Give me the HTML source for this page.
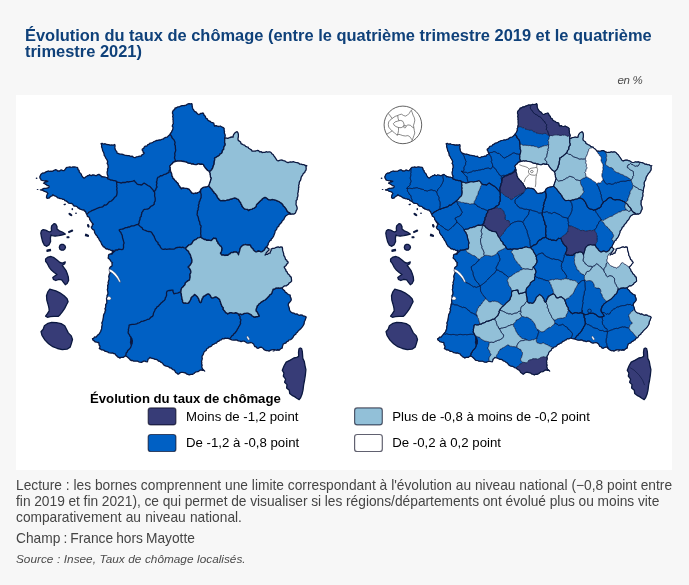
<!DOCTYPE html>
<html lang="fr">
<head>
<meta charset="utf-8">
<title>Évolution du taux de chômage</title>
<style>
html,body{margin:0;padding:0;}
body{width:689px;height:585px;background:#f7f7f7;overflow:hidden;position:relative;font-family:"Liberation Sans",sans-serif;color:#3f3f3f;}
.title{position:absolute;left:25px;top:26.6px;width:650px;margin:0;font-size:16.46px;line-height:16px;font-weight:bold;color:#0f417a;white-space:nowrap;}
.unit{position:absolute;right:46.5px;top:73px;font-size:11.5px;letter-spacing:-0.3px;line-height:15px;font-style:italic;color:#4a4a4a;}
.fig{position:absolute;left:16px;top:95px;width:656px;height:375px;background:#fff;}
.fig svg{position:absolute;left:0;top:0;}
.note{position:absolute;left:16px;margin:0;font-size:13.75px;line-height:16px;white-space:nowrap;color:#454545;}
.src{font-style:italic;font-size:11.8px;color:#4a4a4a;}
</style>
</head>
<body>
<h2 class="title">Évolution du taux de chômage (entre le quatrième trimestre 2019 et le quatrième<br>trimestre 2021)</h2>
<div class="unit">en %</div>
<div class="fig">
<svg width="656" height="375" viewBox="16 95 656 375">
<g id="map1">
<g transform="translate(0,0)" stroke="#0b1840" stroke-width="1.3" stroke-linejoin="round" stroke-opacity="1">
<path fill="#0060c4" d="M107.3,177.8 106.5,177.5 105.0,177.0 104.0,177.2 102.7,176.6 101.5,176.8 100.9,175.6 99.9,175.2 99.0,174.3 97.9,174.7 97.2,175.0 96.5,175.7 95.3,175.6 94.4,175.2 93.4,175.0 92.5,174.9 91.5,175.6 90.4,175.3 89.7,174.7 88.6,175.6 87.8,175.6 86.8,176.3 85.9,176.8 85.1,177.5 84.1,178.1 82.8,177.2 82.5,176.5 81.6,175.6 81.3,174.1 80.3,173.1 79.3,172.1 79.1,170.6 78.0,169.6 77.8,168.1 77.2,167.3 75.9,167.2 74.5,167.0 73.5,166.9 72.4,167.0 71.0,167.5 70.0,166.9 68.5,167.2 66.8,167.4 66.0,168.1 65.1,169.5 64.1,170.6 63.0,170.7 61.6,170.0 60.7,170.1 59.7,171.0 58.6,170.9 57.8,171.2 57.1,170.4 56.0,169.7 54.9,170.0 53.5,170.6 52.5,171.3 51.0,171.2 49.5,171.4 48.5,171.0 47.3,171.3 46.0,171.8 44.9,172.6 43.5,173.1 42.7,173.0 41.6,173.7 40.8,174.4 40.4,175.6 39.8,176.7 40.0,178.1 40.7,178.9 41.0,180.0 42.0,180.3 43.5,180.6 44.8,180.8 46.0,180.6 47.0,181.3 47.9,181.2 47.0,181.8 45.4,181.8 44.4,182.8 43.5,183.1 44.8,183.6 45.4,184.3 46.4,184.5 47.2,185.6 48.6,185.7 49.1,186.2 49.0,187.3 48.5,187.7 47.1,188.1 46.0,188.4 44.1,188.3 42.9,188.9 41.8,189.6 40.4,189.9 41.4,190.1 42.8,190.3 43.5,190.9 44.6,191.4 46.0,191.8 47.0,192.3 47.9,193.7 47.1,194.7 46.6,196.2 46.5,197.5 47.2,198.4 48.3,198.1 49.1,198.1 50.1,196.9 51.0,196.2 52.1,195.8 52.9,194.7 53.6,195.4 54.7,195.9 55.8,196.2 56.6,196.8 57.9,197.9 59.1,198.1 60.3,198.7 61.6,198.7 62.9,199.4 64.1,199.3 64.9,200.7 66.0,200.9 67.1,201.6 67.8,202.2 68.6,203.1 70.3,203.4 71.8,203.5 72.8,204.3 73.4,205.6 74.7,206.2 76.1,206.2 77.2,206.8 78.0,207.9 79.1,208.1 79.5,208.9 80.9,209.3 82.6,210.0 84.1,209.9 84.4,211.0 85.5,211.3 85.9,212.7 86.5,213.9 87.6,213.5 88.1,213.2 88.9,212.2 90.6,211.5 91.9,210.5 93.1,210.2 94.4,209.6 95.5,209.2 97.1,208.3 98.3,207.9 99.7,207.3 101.1,207.2 102.7,206.8 103.7,205.8 104.4,205.0 105.8,205.2 107.1,204.2 108.0,203.2 109.0,202.0 110.1,201.4 111.5,201.0 112.1,200.2 113.3,199.2 113.9,198.3 114.7,197.2 115.9,196.5 116.7,195.1 116.9,193.9 117.1,192.6 117.0,190.9 116.7,189.5 117.1,188.1 116.6,186.6 117.0,185.0 116.6,184.2 116.7,182.4 116.1,181.1 114.8,180.6 113.5,180.6 112.2,180.2 110.5,180.0 109.3,179.2 108.1,179.1 107.3,178.1Z M107.4,174.9 108.1,176.1 107.8,177.0 107.8,178.1 107.3,177.8 107.3,178.1 108.1,179.1 109.3,179.2 110.5,180.0 112.2,180.2 113.5,180.6 114.8,180.6 116.1,181.1 117.4,182.1 118.7,182.3 120.1,182.7 121.1,183.1 122.7,182.4 124.0,182.5 125.5,182.5 127.1,181.7 128.3,182.0 129.8,181.6 131.5,181.4 133.0,181.1 134.1,180.5 135.0,181.7 136.1,182.8 137.2,184.1 138.7,184.6 140.1,184.6 141.2,185.1 142.1,184.7 143.2,183.6 144.2,183.1 145.3,183.7 146.8,184.8 147.8,185.5 149.2,186.1 150.5,187.1 151.5,188.2 152.3,189.2 153.2,190.1 153.6,191.2 154.4,191.7 154.8,190.7 155.7,189.7 156.2,188.0 157.1,187.1 156.5,185.9 156.5,184.4 157.0,183.1 156.4,182.1 157.0,180.8 157.1,179.2 157.5,178.0 158.1,177.1 159.2,176.9 160.7,175.6 161.7,175.8 163.1,175.1 164.0,174.4 165.7,174.1 166.9,173.4 168.0,172.9 169.1,172.1 169.1,170.8 170.1,169.8 170.2,168.6 170.3,167.6 169.7,166.6 170.4,165.4 171.5,164.1 172.4,163.7 173.1,162.4 174.4,161.9 174.7,161.1 175.7,160.5 175.1,159.5 174.5,158.1 174.6,156.9 175.0,155.3 174.7,153.7 175.0,152.5 175.5,151.3 175.7,150.1 175.4,148.3 175.4,147.3 175.3,145.6 174.6,144.4 175.1,142.5 174.5,141.1 173.8,139.6 172.9,138.7 171.8,137.5 171.8,136.6 170.9,135.3 170.1,134.1 169.2,135.3 168.2,136.1 167.1,137.2 165.7,137.3 164.3,138.0 163.2,139.1 162.0,139.2 160.5,140.0 159.2,139.9 158.0,140.3 156.4,140.5 155.2,141.1 154.0,141.5 152.9,142.2 151.7,142.9 150.0,143.2 149.2,144.1 147.8,144.6 146.9,146.0 145.1,146.2 144.2,147.1 143.7,148.4 142.3,149.0 142.2,150.1 143.0,151.2 143.2,152.3 144.2,153.1 143.3,154.2 141.9,154.8 141.2,156.1 139.8,156.1 137.8,156.7 136.4,156.8 135.2,157.7 133.5,157.3 132.3,156.2 130.8,156.5 129.1,155.7 127.8,155.6 125.8,155.3 124.6,155.1 123.1,154.5 121.3,154.1 119.8,154.2 118.8,153.6 117.1,153.1 116.8,151.6 115.7,150.4 115.1,149.1 114.8,147.5 115.1,145.9 114.7,144.5 113.4,145.1 111.4,144.9 110.1,145.1 108.7,144.6 107.4,144.5 106.2,144.3 105.1,143.7 103.8,144.2 102.2,143.3 101.1,143.7 101.7,145.1 101.6,146.9 102.1,148.1 102.4,149.4 102.8,151.0 103.6,152.3 104.1,154.1 104.3,155.6 105.2,156.6 105.6,157.8 106.4,159.0 107.1,160.1 107.7,161.7 107.1,163.5 107.9,164.7 108.1,166.1 108.2,167.6 107.5,168.8 107.6,170.8 107.1,172.1 107.2,173.5Z M224.6,138.1 225.1,136.5 225.2,135.1 224.6,133.8 224.3,132.4 224.5,131.2 224.1,130.1 224.2,128.4 223.2,127.6 221.5,126.7 220.2,126.0 218.9,126.5 217.1,126.2 216.2,125.6 214.5,126.0 214.1,124.6 213.7,123.0 212.5,122.6 211.2,122.4 210.2,121.3 209.1,121.0 207.7,120.0 207.3,118.8 205.7,118.0 205.4,116.3 204.1,115.4 203.9,114.3 203.1,113.0 201.7,113.3 200.5,113.5 199.2,114.5 198.1,114.4 197.0,113.3 196.2,112.2 194.4,111.3 193.7,110.0 192.8,108.8 192.4,107.4 192.2,106.5 192.1,104.6 191.7,103.6 190.5,103.9 189.0,103.6 187.6,104.0 186.0,105.2 185.0,105.5 183.7,105.6 182.1,105.6 180.6,106.1 179.5,106.8 178.0,106.8 176.3,107.9 175.1,108.0 174.6,109.5 173.3,110.4 172.5,112.0 172.5,113.4 173.2,114.9 172.6,116.2 173.1,118.0 172.9,119.4 173.2,120.5 173.1,122.0 173.4,123.6 172.8,124.4 172.2,126.2 173.0,127.2 172.8,128.9 172.5,130.1 171.8,131.1 171.5,132.3 170.5,133.3 170.1,134.1 170.9,135.3 171.8,136.6 171.8,137.5 172.9,138.7 173.8,139.6 174.5,141.1 175.1,142.5 174.6,144.4 175.3,145.6 175.4,147.3 175.4,148.3 175.7,150.1 175.5,151.3 175.0,152.5 174.7,153.7 175.0,155.3 174.6,156.9 174.5,158.1 175.1,159.5 175.7,160.5 174.7,161.1 174.4,161.9 176.0,161.4 177.3,161.2 178.3,160.8 179.7,161.1 181.0,160.8 182.1,161.3 183.9,161.5 185.5,161.8 186.8,162.3 188.0,163.1 189.2,163.3 190.4,163.3 191.6,164.1 192.9,163.9 194.0,164.4 195.5,164.7 196.5,164.6 197.7,164.1 198.9,163.7 200.0,164.4 201.3,164.1 202.7,164.3 203.5,164.8 203.8,165.9 204.9,167.3 205.6,168.3 206.7,169.5 207.6,170.5 208.9,171.1 209.3,172.0 210.0,171.2 211.0,170.4 211.7,169.7 212.6,168.2 213.0,167.1 213.4,165.5 214.1,164.1 214.2,162.6 214.3,161.3 214.8,159.6 214.5,158.1 215.7,157.7 217.0,156.6 218.1,156.1 219.3,155.3 220.0,154.1 221.6,153.2 222.2,152.1 222.4,150.6 223.8,149.3 223.7,147.7 224.3,146.2 225.2,145.1 225.1,143.5 224.6,142.4 224.7,140.6 224.7,139.7Z M86.5,213.9 87.1,215.0 87.4,216.3 88.7,216.8 89.5,217.9 89.7,219.4 90.5,220.6 91.2,221.7 92.1,223.0 93.3,224.2 92.3,224.9 92.3,226.3 91.3,227.0 91.8,228.4 92.7,229.4 94.1,230.1 94.5,231.4 94.6,232.7 95.4,234.0 96.1,235.1 97.3,236.2 97.5,237.3 98.5,238.1 99.2,239.7 99.7,240.6 100.7,241.7 101.1,242.8 101.8,244.5 102.5,245.4 103.3,246.8 104.4,247.0 105.3,248.2 106.3,249.0 107.4,248.7 108.5,249.7 109.5,249.4 111.1,250.6 112.3,250.3 113.3,250.7 112.6,251.4 112.3,252.3 111.7,253.5 110.6,254.0 112.1,254.1 112.6,253.0 113.7,252.1 114.9,251.1 115.1,250.1 116.4,249.9 117.7,250.0 118.8,249.1 120.4,249.3 121.9,249.6 123.1,249.1 123.6,247.3 123.5,245.8 123.5,244.4 124.1,243.0 123.7,241.7 123.4,240.6 123.0,239.3 122.5,237.7 122.4,236.5 122.1,235.0 121.4,233.8 120.8,232.2 119.9,231.5 119.1,230.0 120.3,229.3 121.7,229.2 123.1,229.0 124.6,228.1 125.7,227.6 127.2,227.6 128.4,226.9 129.7,227.0 131.1,226.0 132.6,225.8 133.8,225.8 135.4,225.2 136.6,224.7 138.2,224.6 138.2,223.9 139.2,223.0 139.1,221.6 139.8,220.1 140.1,219.1 140.0,217.6 141.3,216.2 141.2,215.0 141.8,213.8 141.7,212.6 142.9,211.3 143.2,210.2 144.5,209.3 146.4,209.2 147.6,209.1 149.2,208.2 150.0,207.3 151.1,206.1 152.5,205.7 153.2,205.1 154.2,204.2 154.2,202.5 155.1,201.2 155.2,199.7 155.2,198.2 154.8,196.7 154.6,195.9 154.7,194.2 154.7,193.3 154.4,191.7 153.6,191.2 153.2,190.1 152.3,189.2 151.5,188.2 150.5,187.1 149.2,186.1 147.8,185.5 146.8,184.8 145.3,183.7 144.2,183.1 143.2,183.6 142.1,184.7 141.2,185.1 140.1,184.6 138.7,184.6 137.2,184.1 136.1,182.8 135.0,181.7 134.1,180.5 133.0,181.1 131.5,181.4 129.8,181.6 128.3,182.0 127.1,181.7 125.5,182.5 124.0,182.5 122.7,182.4 121.1,183.1 120.1,182.7 118.7,182.3 117.4,182.1 116.1,181.1 116.7,182.4 116.6,184.2 117.0,185.0 116.6,186.6 117.1,188.1 116.7,189.5 117.0,190.9 117.1,192.6 116.9,193.9 116.7,195.1 115.9,196.5 114.7,197.2 113.9,198.3 113.3,199.2 112.1,200.2 111.5,201.0 110.1,201.4 109.0,202.0 108.0,203.2 107.1,204.2 105.8,205.2 104.4,205.0 103.7,205.8 102.7,206.8 101.1,207.2 99.7,207.3 98.3,207.9 97.1,208.3 95.5,209.2 94.4,209.6 93.1,210.2 91.9,210.5 90.6,211.5 88.9,212.2 88.1,213.2 87.6,213.5Z M229.3,338.9 230.1,339.1 231.8,339.8 233.1,340.1 234.4,340.2 236.0,339.9 237.1,340.1 238.3,340.9 240.1,341.1 241.1,341.7 242.6,341.1 244.1,341.1 245.2,341.8 246.7,342.8 248.1,343.1 249.5,342.8 251.1,342.5 252.2,343.0 253.6,344.0 254.1,345.1 254.8,346.5 256.2,346.8 257.1,348.1 258.3,348.3 259.6,347.5 261.1,347.1 262.2,347.8 263.3,348.5 263.8,349.4 265.1,350.1 266.5,350.7 267.9,350.6 269.1,351.1 270.2,350.4 271.6,349.9 273.1,349.7 274.7,349.7 276.4,350.3 277.7,349.5 279.1,350.1 280.2,349.3 280.8,348.6 282.2,348.1 282.4,346.6 282.7,345.6 283.2,344.1 284.6,343.3 285.8,343.0 286.8,341.6 288.2,341.1 289.1,339.8 290.6,339.6 291.5,339.0 292.2,338.2 293.2,337.1 293.6,336.0 294.6,334.9 295.8,334.2 296.2,333.1 297.4,332.2 298.1,331.1 299.3,329.9 300.4,328.9 301.2,328.2 302.3,326.9 302.9,326.0 303.7,324.7 304.2,323.2 304.3,321.8 305.1,320.3 305.6,318.9 306.2,317.1 304.9,316.2 303.3,316.0 302.2,315.1 300.8,314.9 299.5,315.3 298.2,314.8 296.9,313.9 295.2,314.1 294.1,313.2 292.5,313.0 291.2,312.2 290.2,311.1 289.4,309.9 289.4,308.4 288.8,306.8 288.2,305.1 288.5,303.5 289.4,302.5 290.2,301.6 291.2,300.1 291.2,299.0 290.8,297.8 290.2,296.4 290.2,295.1 288.5,294.5 287.4,293.8 286.6,292.9 285.2,292.1 284.6,290.7 283.7,289.9 282.5,289.0 282.2,287.5 280.8,288.0 279.5,288.1 278.3,287.8 277.1,288.1 276.0,288.0 274.7,289.0 273.1,289.1 272.7,290.5 272.2,291.8 271.8,293.1 271.1,294.1 270.0,294.6 268.9,296.2 268.1,296.9 267.0,298.1 266.1,299.1 265.0,300.0 263.5,300.6 262.5,301.4 261.1,302.1 260.0,303.2 258.8,304.0 258.1,305.3 257.1,306.1 256.8,307.5 256.3,308.7 256.0,309.9 256.1,311.1 257.3,312.2 257.9,313.6 258.6,314.8 259.1,316.1 257.6,316.7 256.3,316.7 255.1,317.0 254.0,317.0 252.9,316.2 252.0,315.7 250.9,314.5 249.5,313.9 248.2,313.2 247.0,313.2 245.4,313.4 244.3,313.4 242.6,314.3 241.4,314.5 240.6,313.9 239.1,314.4 238.2,313.8 238.8,315.2 239.6,315.7 240.1,317.0 239.9,318.6 240.9,319.6 240.7,320.7 240.3,322.0 240.6,323.5 240.1,324.5 239.4,325.9 238.7,326.8 238.2,328.2 237.4,329.2 236.6,330.9 235.7,332.0 234.9,333.1 233.6,334.0 233.2,335.1 232.1,335.6 231.2,336.9 230.1,338.1Z M200.6,189.8 200.2,191.0 199.1,192.0 197.8,192.5 196.9,193.1 195.1,193.0 194.0,193.5 192.9,193.4 191.5,192.7 191.0,191.6 190.4,190.9 189.8,190.2 189.0,189.1 188.1,188.8 186.8,188.4 185.3,188.4 183.9,188.0 182.6,187.9 181.3,188.7 180.9,187.6 179.9,186.9 179.4,185.9 178.5,184.8 178.4,184.0 177.6,182.9 176.6,182.2 176.2,181.3 175.0,180.4 174.4,179.7 174.0,178.9 172.8,177.9 172.6,176.8 171.9,175.6 171.8,174.1 171.5,173.1 170.8,171.9 170.4,170.2 170.2,168.6 170.1,169.8 169.1,170.8 169.1,172.1 168.0,172.9 166.9,173.4 165.7,174.1 164.0,174.4 163.1,175.1 161.7,175.8 160.7,175.6 159.2,176.9 158.1,177.1 157.5,178.0 157.1,179.2 157.0,180.8 156.4,182.1 157.0,183.1 156.5,184.4 156.5,185.9 157.1,187.1 156.2,188.0 155.7,189.7 154.8,190.7 154.4,191.7 154.7,193.3 154.7,194.2 154.6,195.9 154.8,196.7 155.2,198.2 155.2,199.7 155.1,201.2 154.2,202.5 154.2,204.2 153.2,205.1 152.5,205.7 151.1,206.1 150.0,207.3 149.2,208.2 147.6,209.1 146.4,209.2 144.5,209.3 143.2,210.2 142.9,211.3 141.7,212.6 141.8,213.8 141.2,215.0 141.3,216.2 140.0,217.6 140.1,219.1 139.8,220.1 139.1,221.6 139.2,223.0 138.2,223.9 138.2,224.6 139.3,225.6 140.1,226.4 141.3,227.3 142.3,228.1 142.8,229.4 144.2,230.0 145.3,230.4 147.0,231.1 148.2,231.5 150.1,231.6 151.2,232.0 152.1,233.1 152.8,234.5 153.5,235.4 154.3,236.7 154.6,237.7 155.2,239.0 155.7,240.4 156.6,241.4 158.0,242.5 158.0,244.0 159.2,245.0 160.0,246.0 160.5,247.4 161.4,248.4 162.2,249.1 163.4,249.4 165.5,249.0 166.6,249.4 168.1,249.1 169.7,248.9 171.3,249.1 173.0,249.1 174.7,248.8 175.9,247.8 177.3,247.5 178.4,247.4 180.0,247.1 181.3,247.6 182.7,247.2 184.2,247.9 185.8,248.1 186.4,247.2 187.5,246.4 188.0,245.7 188.9,244.9 190.5,244.6 191.7,243.8 192.2,242.9 192.8,241.7 193.6,240.7 194.5,239.9 195.7,239.7 196.7,238.8 198.2,237.8 199.5,237.7 200.7,236.9 201.0,235.4 200.6,233.8 200.7,232.9 200.8,231.5 200.7,229.7 200.6,228.3 201.0,227.0 201.1,225.9 200.0,224.6 199.8,223.3 199.7,221.8 198.8,220.4 198.6,219.0 198.3,217.5 198.0,216.5 197.1,215.0 197.2,213.8 197.4,212.4 197.4,210.8 198.2,209.8 198.1,208.2 198.8,206.6 198.3,205.2 199.1,203.7 199.1,202.2 200.0,200.7 200.3,199.2 201.1,197.6 201.1,196.1 201.2,194.6 200.7,192.9 200.6,191.3Z M267.3,245.9 268.2,244.7 268.2,243.3 269.1,242.0 269.9,240.7 271.2,240.1 271.3,238.9 272.3,238.2 273.1,237.0 273.8,235.6 274.4,234.1 275.0,232.4 275.1,231.0 276.0,230.1 276.8,228.8 277.2,227.3 278.7,226.4 279.1,225.0 280.2,223.8 281.3,222.8 281.8,221.9 282.3,220.7 283.6,219.8 284.2,218.6 284.9,217.1 285.9,215.8 287.2,215.0 288.4,214.2 290.0,214.2 290.9,214.2 289.9,212.9 288.6,212.4 287.8,211.8 286.8,210.5 286.4,209.4 285.5,208.1 284.7,207.1 283.4,206.1 283.0,204.9 282.0,203.8 281.2,203.0 279.9,202.4 279.2,201.6 277.7,201.2 276.8,200.6 275.5,200.2 274.7,199.8 273.6,199.7 271.9,199.5 270.5,199.9 269.2,199.7 268.2,199.5 267.4,198.7 266.1,197.7 264.9,197.4 263.8,197.9 262.4,198.7 261.7,199.9 260.8,200.4 259.9,201.2 259.0,202.2 258.5,202.8 257.4,203.7 256.4,204.9 256.2,206.2 255.6,207.1 254.3,208.1 252.9,208.3 252.2,209.2 251.2,209.3 249.5,209.6 248.7,210.5 247.7,209.5 246.8,209.3 245.7,209.2 244.4,208.8 243.7,208.1 242.4,206.8 241.8,205.6 241.5,204.4 240.8,203.8 240.6,202.4 239.5,201.4 238.8,200.1 238.1,199.3 236.9,198.8 235.6,198.1 234.2,198.0 232.5,198.7 231.1,199.0 229.9,199.3 228.7,199.9 227.5,199.8 226.2,200.4 225.0,200.6 223.5,200.4 222.3,200.5 220.6,200.6 219.4,199.8 218.7,198.7 217.9,198.0 217.1,196.6 216.9,195.6 215.8,194.6 215.5,193.8 214.4,193.1 213.6,191.5 212.6,190.7 211.9,189.3 210.9,188.4 210.4,187.8 209.4,186.8 208.5,186.2 207.0,186.6 205.6,186.9 204.2,187.2 202.7,187.7 201.2,188.7 200.6,189.8 200.6,191.3 200.7,192.9 201.2,194.6 201.1,196.1 201.1,197.6 200.3,199.2 200.0,200.7 199.1,202.2 199.1,203.7 198.3,205.2 198.8,206.6 198.1,208.2 198.2,209.8 197.4,210.8 197.4,212.4 197.2,213.8 197.1,215.0 198.0,216.5 198.3,217.5 198.6,219.0 198.8,220.4 199.7,221.8 199.8,223.3 200.0,224.6 201.1,225.9 201.0,227.0 200.6,228.3 200.7,229.7 200.8,231.5 200.7,232.9 200.6,233.8 201.0,235.4 200.7,236.9 201.5,237.9 203.0,238.7 204.2,239.5 205.5,239.4 206.5,240.3 208.0,240.1 209.6,240.3 211.1,240.7 212.1,239.8 212.6,239.3 213.6,238.2 214.5,238.5 215.9,238.3 216.5,239.9 216.8,241.2 217.7,242.0 218.0,243.5 219.0,244.3 220.1,245.8 221.1,246.3 221.5,247.1 221.9,248.6 221.7,249.5 221.7,250.6 221.1,252.0 220.4,253.2 221.2,254.4 221.7,255.1 223.2,254.9 224.8,255.5 226.3,255.2 227.9,255.4 228.4,254.5 230.0,253.8 230.6,253.0 231.6,252.5 233.0,252.7 233.8,252.0 235.2,251.8 236.7,252.2 237.9,253.4 238.5,254.8 238.8,253.3 239.1,252.5 239.6,251.0 239.9,249.7 240.2,248.3 241.0,247.0 242.0,246.1 243.0,245.1 244.0,245.0 245.4,244.5 246.5,244.8 247.8,245.0 249.3,244.9 250.5,245.4 250.9,246.8 251.6,247.7 252.9,248.7 253.3,249.8 254.5,251.0 255.6,251.8 257.0,251.8 258.1,251.0 259.7,251.3 261.0,252.0 262.3,251.6 263.1,251.0 264.0,250.5 264.5,249.5 265.1,248.8 265.6,247.5 266.6,247.3 266.9,247.2 266.7,247.1Z M125.2,356.2 126.2,356.2 127.4,357.0 128.5,358.0 129.3,358.7 130.2,359.9 131.2,360.5 132.6,360.5 133.6,361.1 134.9,361.2 136.4,361.2 137.7,361.2 138.7,361.8 139.7,362.1 141.4,362.3 142.4,361.8 143.6,361.2 144.9,361.2 146.0,361.7 147.4,361.8 147.8,360.4 148.0,359.3 149.1,358.4 149.9,357.4 151.2,358.2 152.3,358.4 153.6,358.7 155.1,359.4 156.2,359.4 157.4,359.9 158.4,361.0 159.9,361.3 161.1,362.4 162.4,363.0 163.5,364.7 164.9,365.7 166.2,366.2 167.7,366.4 168.9,367.0 169.7,367.8 171.2,368.0 172.1,369.0 173.0,369.6 174.4,370.2 175.0,371.2 175.7,372.5 177.3,373.4 178.1,374.3 179.0,373.8 180.0,372.8 181.2,372.4 182.5,372.4 184.1,372.6 185.6,373.0 186.7,374.0 187.9,374.3 189.3,374.9 190.7,374.3 192.4,374.3 194.0,373.5 194.7,372.7 196.2,371.8 197.9,371.7 199.0,371.0 199.8,370.3 201.2,369.9 202.2,370.3 203.7,370.3 204.7,371.1 203.8,370.2 202.6,369.1 202.2,368.0 201.7,366.5 202.2,365.0 201.6,364.1 201.8,362.5 201.5,361.1 202.0,359.9 202.3,358.4 202.0,357.1 202.2,355.8 203.2,354.6 203.5,353.6 204.0,352.1 204.8,351.3 206.1,350.5 206.9,348.5 208.1,348.1 209.0,347.0 210.5,346.7 211.6,346.0 212.5,344.6 214.1,344.1 215.3,343.2 216.6,343.0 217.6,341.4 218.8,341.3 220.1,340.1 221.3,339.9 222.6,338.5 223.9,339.0 225.1,338.1 226.5,338.4 228.2,338.2 229.3,338.9 230.1,338.1 231.2,336.9 232.1,335.6 233.2,335.1 233.6,334.0 234.9,333.1 235.7,332.0 236.6,330.9 237.4,329.2 238.2,328.2 238.7,326.8 239.4,325.9 240.1,324.5 240.6,323.5 240.3,322.0 240.7,320.7 240.9,319.6 239.9,318.6 240.1,317.0 239.6,315.7 238.8,315.2 238.2,313.8 237.0,313.1 235.7,312.6 234.3,313.1 233.2,313.2 232.2,312.9 231.3,312.7 230.0,312.6 228.5,313.3 227.5,313.8 226.7,312.9 225.7,312.6 224.8,311.2 223.8,310.1 223.1,309.3 223.3,307.8 222.5,306.9 221.8,306.0 221.3,304.4 220.6,303.2 220.7,302.5 220.1,301.3 219.7,299.7 218.8,298.8 217.8,298.0 216.3,296.9 214.9,297.0 213.8,297.6 212.3,297.9 211.3,297.6 210.8,296.5 210.1,295.1 209.1,294.1 208.2,293.8 207.0,294.2 205.7,295.1 204.6,295.9 203.2,296.3 203.0,297.7 202.2,298.2 202.0,299.4 201.3,300.6 201.5,301.4 200.7,302.6 200.0,302.4 199.5,301.3 199.1,300.6 198.9,299.1 198.2,298.2 197.6,296.9 196.3,295.7 195.5,295.1 194.5,294.4 193.7,295.4 192.6,296.3 191.8,296.9 191.0,298.0 190.7,299.4 190.2,300.3 189.5,301.3 188.8,302.6 187.7,303.3 186.4,303.2 185.1,302.8 184.2,303.2 183.2,302.6 182.5,301.6 182.6,300.1 182.0,299.4 182.0,298.4 181.7,296.7 181.4,295.7 181.4,294.5 181.1,293.2 180.7,292.0 179.7,292.2 178.2,292.8 177.0,293.2 175.4,293.4 173.9,293.9 173.5,292.8 172.9,291.2 173.0,290.1 171.7,290.1 170.0,290.5 168.8,290.5 167.2,291.1 166.6,292.2 166.5,293.6 166.6,295.2 166.0,296.8 165.3,297.9 165.2,299.1 164.3,300.5 163.4,301.0 162.1,302.3 161.1,303.0 160.1,304.3 159.2,305.1 158.5,306.1 157.0,306.9 156.3,308.3 155.2,309.1 154.7,310.8 153.9,312.3 153.4,313.4 153.2,315.1 152.5,316.4 150.9,317.2 150.2,318.0 149.2,319.1 147.5,319.3 146.4,320.0 144.6,320.6 143.2,321.1 141.5,321.3 140.2,322.2 139.2,322.8 137.7,323.1 136.7,323.9 135.2,324.2 133.9,324.4 132.2,324.3 130.7,324.7 129.1,325.2 129.0,326.4 128.7,328.2 128.3,329.4 128.5,330.4 128.1,332.1 128.3,333.4 129.5,334.7 129.6,335.7 130.9,336.9 131.1,338.1 131.0,339.5 132.0,340.8 131.8,341.8 132.1,343.1 131.7,344.4 131.2,345.7 130.8,347.1 130.1,348.1 129.2,349.3 128.3,350.0 127.5,351.0 127.1,352.2 126.1,353.1 126.0,354.8 125.3,355.9Z M123.8,357.1 124.8,356.1 125.2,356.2 125.3,355.9 126.0,354.8 126.1,353.1 127.1,352.2 127.5,351.0 128.3,350.0 129.2,349.3 130.1,348.1 130.8,347.1 131.2,345.7 131.7,344.4 132.1,343.1 131.8,341.8 132.0,340.8 131.0,339.5 131.1,338.1 130.9,336.9 129.6,335.7 129.5,334.7 128.3,333.4 128.1,332.1 128.5,330.4 128.3,329.4 128.7,328.2 129.0,326.4 129.1,325.2 130.7,324.7 132.2,324.3 133.9,324.4 135.2,324.2 136.7,323.9 137.7,323.1 139.2,322.8 140.2,322.2 141.5,321.3 143.2,321.1 144.6,320.6 146.4,320.0 147.5,319.3 149.2,319.1 150.2,318.0 150.9,317.2 152.5,316.4 153.2,315.1 153.4,313.4 153.9,312.3 154.7,310.8 155.2,309.1 156.3,308.3 157.0,306.9 158.5,306.1 159.2,305.1 160.1,304.3 161.1,303.0 162.1,302.3 163.4,301.0 164.3,300.5 165.2,299.1 165.3,297.9 166.0,296.8 166.6,295.2 166.5,293.6 166.6,292.2 167.2,291.1 168.8,290.5 170.0,290.5 171.7,290.1 173.0,290.1 172.9,291.2 173.5,292.8 173.9,293.9 175.4,293.4 177.0,293.2 178.2,292.8 179.7,292.2 180.7,292.0 181.1,291.0 181.0,290.1 181.4,288.8 181.9,287.8 183.2,286.8 183.9,285.7 185.0,284.7 185.4,282.8 186.4,282.0 187.1,281.4 188.6,280.4 189.5,280.1 189.8,278.5 190.1,277.4 190.1,275.7 189.8,274.6 190.7,273.0 190.9,272.1 190.7,270.7 190.1,269.3 189.1,267.9 188.2,267.0 189.3,266.1 190.6,264.5 191.3,263.2 192.0,262.0 191.8,261.2 192.0,260.1 191.5,258.4 191.0,257.3 190.7,255.8 190.0,254.1 189.1,252.8 188.5,251.3 187.5,250.4 186.2,249.4 185.8,248.1 184.2,247.9 182.7,247.2 181.3,247.6 180.0,247.1 178.4,247.4 177.3,247.5 175.9,247.8 174.7,248.8 173.0,249.1 171.3,249.1 169.7,248.9 168.1,249.1 166.6,249.4 165.5,249.0 163.4,249.4 162.2,249.1 161.4,248.4 160.5,247.4 160.0,246.0 159.2,245.0 158.0,244.0 158.0,242.5 156.6,241.4 155.7,240.4 155.2,239.0 154.6,237.7 154.3,236.7 153.5,235.4 152.8,234.5 152.1,233.1 151.2,232.0 150.1,231.6 148.2,231.5 147.0,231.1 145.3,230.4 144.2,230.0 142.8,229.4 142.3,228.1 141.3,227.3 140.1,226.4 139.3,225.6 138.2,224.6 136.6,224.7 135.4,225.2 133.8,225.8 132.6,225.8 131.1,226.0 129.7,227.0 128.4,226.9 127.2,227.6 125.7,227.6 124.6,228.1 123.1,229.0 121.7,229.2 120.3,229.3 119.1,230.0 119.9,231.5 120.8,232.2 121.4,233.8 122.1,235.0 122.4,236.5 122.5,237.7 123.0,239.3 123.4,240.6 123.7,241.7 124.1,243.0 123.5,244.4 123.5,245.8 123.6,247.3 123.1,249.1 121.9,249.6 120.4,249.3 118.8,249.1 117.7,250.0 116.4,249.9 115.1,250.1 114.9,251.1 113.7,252.1 112.6,253.0 112.1,254.1 110.6,254.0 109.1,254.3 108.5,255.1 108.5,256.5 108.1,258.1 109.2,259.0 109.9,259.5 110.5,260.7 111.4,262.0 112.5,262.7 111.9,263.7 112.2,265.2 111.7,266.1 110.5,266.9 109.9,267.5 109.5,268.7 109.5,270.0 110.1,271.5 110.1,272.9 109.5,274.1 109.1,275.1 108.7,276.6 109.1,278.3 108.8,279.9 108.5,281.1 108.0,282.7 108.5,283.9 107.6,285.4 107.8,286.9 107.7,288.5 107.3,289.6 107.7,291.1 107.9,292.4 107.9,294.1 107.0,295.6 107.1,297.1 106.5,298.5 106.7,300.3 106.8,301.9 106.8,303.2 105.6,304.7 105.8,306.2 105.6,307.5 104.9,308.9 105.7,310.0 105.0,311.2 104.9,312.7 103.9,314.1 103.5,315.5 103.4,317.0 103.1,318.7 102.8,320.4 102.3,321.8 101.8,323.1 102.3,324.6 101.8,326.2 101.7,327.2 101.6,328.9 101.2,329.8 100.7,331.3 100.0,332.5 99.3,333.8 98.5,334.4 97.7,335.1 96.8,336.2 96.1,337.2 94.5,337.0 93.6,338.4 92.5,338.7 92.9,340.0 94.2,340.9 95.0,341.8 96.2,342.0 97.6,342.5 98.7,342.4 99.0,343.8 99.1,345.0 100.0,346.2 99.8,347.2 99.3,348.7 100.5,349.0 101.4,349.9 102.5,349.9 104.0,350.3 105.0,351.3 106.0,351.3 107.5,351.8 108.6,352.6 109.8,352.8 111.2,353.1 112.5,352.9 113.8,353.6 115.0,353.7 115.6,355.0 116.5,355.5 117.5,356.8 118.7,357.3 119.9,358.1 121.1,357.3 123.1,357.4Z"/>
<path fill="#92c0d8" d="M225.8,137.9 224.6,138.1 224.7,139.7 224.7,140.6 224.6,142.4 225.1,143.5 225.2,145.1 224.3,146.2 223.7,147.7 223.8,149.3 222.4,150.6 222.2,152.1 221.6,153.2 220.0,154.1 219.3,155.3 218.1,156.1 217.0,156.6 215.7,157.7 214.5,158.1 214.8,159.6 214.3,161.3 214.2,162.6 214.1,164.1 213.4,165.5 213.0,167.1 212.6,168.2 211.7,169.7 211.0,170.4 210.0,171.2 209.3,172.0 210.0,173.3 210.0,174.6 210.4,175.6 210.4,177.0 211.1,178.2 210.7,179.4 210.4,181.1 209.7,182.5 209.3,184.0 208.8,185.3 208.5,186.2 209.4,186.8 210.4,187.8 210.9,188.4 211.9,189.3 212.6,190.7 213.6,191.5 214.4,193.1 215.5,193.8 215.8,194.6 216.9,195.6 217.1,196.6 217.9,198.0 218.7,198.7 219.4,199.8 220.6,200.6 222.3,200.5 223.5,200.4 225.0,200.6 226.2,200.4 227.5,199.8 228.7,199.9 229.9,199.3 231.1,199.0 232.5,198.7 234.2,198.0 235.6,198.1 236.9,198.8 238.1,199.3 238.8,200.1 239.5,201.4 240.6,202.4 240.8,203.8 241.5,204.4 241.8,205.6 242.4,206.8 243.7,208.1 244.4,208.8 245.7,209.2 246.8,209.3 247.7,209.5 248.7,210.5 249.5,209.6 251.2,209.3 252.2,209.2 252.9,208.3 254.3,208.1 255.6,207.1 256.2,206.2 256.4,204.9 257.4,203.7 258.5,202.8 259.0,202.2 259.9,201.2 260.8,200.4 261.7,199.9 262.4,198.7 263.8,197.9 264.9,197.4 266.1,197.7 267.4,198.7 268.2,199.5 269.2,199.7 270.5,199.9 271.9,199.5 273.6,199.7 274.7,199.8 275.5,200.2 276.8,200.6 277.7,201.2 279.2,201.6 279.9,202.4 281.2,203.0 282.0,203.8 283.0,204.9 283.4,206.1 284.7,207.1 285.5,208.1 286.4,209.4 286.8,210.5 287.8,211.8 288.6,212.4 289.9,212.9 290.9,214.2 291.2,214.2 292.2,213.9 293.7,214.1 295.2,213.2 296.0,211.8 296.1,210.9 297.0,209.5 297.2,208.2 296.9,206.7 296.2,205.0 296.0,204.0 296.2,202.2 296.1,200.6 297.2,199.5 297.2,197.6 297.7,196.8 298.0,195.2 297.7,193.5 298.2,192.1 298.3,190.6 298.6,189.4 298.5,187.9 298.9,187.1 298.6,185.4 299.2,184.1 299.2,182.7 299.7,181.3 300.6,180.1 301.0,178.5 301.2,177.1 302.0,175.9 302.7,174.8 303.3,173.5 304.7,172.4 305.2,171.1 306.0,170.1 306.2,168.6 306.0,166.6 306.8,165.7 305.1,165.5 304.1,164.7 302.4,164.6 301.2,164.1 299.8,164.2 298.8,163.2 297.1,162.6 295.6,162.4 294.6,162.2 293.2,161.7 292.0,162.1 290.6,161.8 289.3,162.2 288.2,162.5 286.9,162.3 285.5,161.5 284.7,160.8 283.3,160.6 282.2,160.1 280.9,160.0 279.6,160.4 278.2,160.9 277.1,160.5 276.2,159.2 275.7,158.4 274.8,157.0 274.1,156.1 273.3,154.8 271.9,153.8 271.1,152.5 269.8,151.9 268.9,151.9 267.6,152.1 266.1,151.7 264.9,152.4 263.2,152.4 262.1,152.5 261.3,151.7 259.4,151.8 258.8,150.7 257.1,150.5 255.8,151.0 254.5,151.2 253.3,151.1 252.1,151.1 251.4,149.9 249.9,149.0 248.6,148.2 248.1,147.1 246.9,146.8 245.6,146.4 244.6,145.2 243.3,144.8 242.1,144.1 241.0,143.6 240.6,142.0 239.0,140.9 238.1,140.1 238.0,138.3 238.3,137.3 238.4,135.3 238.3,134.1 238.0,132.8 237.1,131.7 235.6,132.4 234.7,133.1 233.8,134.3 233.2,135.8 233.1,137.1 231.7,137.0 229.9,137.5 228.7,138.0 227.4,138.3Z M283.1,287.0 284.3,285.9 286.2,285.9 287.2,285.1 288.5,284.3 289.0,283.1 290.5,282.2 291.6,281.1 291.5,279.7 291.4,278.6 291.2,277.1 290.0,276.4 289.7,275.2 288.4,274.3 287.5,273.1 287.2,272.1 286.0,271.0 285.7,269.5 284.8,268.3 284.2,267.1 285.1,266.3 286.1,265.4 286.8,264.1 287.7,263.4 288.2,262.1 287.0,261.2 286.9,260.3 285.5,259.4 285.2,258.1 284.7,256.7 283.8,255.5 283.6,253.4 283.2,252.1 282.8,250.9 282.5,249.3 282.5,248.5 282.2,247.1 280.8,246.9 279.4,247.5 278.2,246.8 277.1,247.1 275.5,247.7 274.4,248.3 272.6,248.4 271.1,249.1 271.1,250.7 270.3,251.7 270.1,253.1 268.7,253.1 267.6,254.3 266.0,254.1 265.1,255.1 265.7,254.0 266.3,252.8 267.1,252.1 267.7,251.2 268.8,250.5 269.1,249.1 267.7,247.9 266.9,247.2 266.6,247.3 265.6,247.5 265.1,248.8 264.5,249.5 264.0,250.5 263.1,251.0 262.3,251.6 261.0,252.0 259.7,251.3 258.1,251.0 257.0,251.8 255.6,251.8 254.5,251.0 253.3,249.8 252.9,248.7 251.6,247.7 250.9,246.8 250.5,245.4 249.3,244.9 247.8,245.0 246.5,244.8 245.4,244.5 244.0,245.0 243.0,245.1 242.0,246.1 241.0,247.0 240.2,248.3 239.9,249.7 239.6,251.0 239.1,252.5 238.8,253.3 238.5,254.8 237.9,253.4 236.7,252.2 235.2,251.8 233.8,252.0 233.0,252.7 231.6,252.5 230.6,253.0 230.0,253.8 228.4,254.5 227.9,255.4 226.3,255.2 224.8,255.5 223.2,254.9 221.7,255.1 221.2,254.4 220.4,253.2 221.1,252.0 221.7,250.6 221.7,249.5 221.9,248.6 221.5,247.1 221.1,246.3 220.1,245.8 219.0,244.3 218.0,243.5 217.7,242.0 216.8,241.2 216.5,239.9 215.9,238.3 214.5,238.5 213.6,238.2 212.6,239.3 212.1,239.8 211.1,240.7 209.6,240.3 208.0,240.1 206.5,240.3 205.5,239.4 204.2,239.5 203.0,238.7 201.5,237.9 200.7,236.9 199.5,237.7 198.2,237.8 196.7,238.8 195.7,239.7 194.5,239.9 193.6,240.7 192.8,241.7 192.2,242.9 191.7,243.8 190.5,244.6 188.9,244.9 188.0,245.7 187.5,246.4 186.4,247.2 185.8,248.1 186.2,249.4 187.5,250.4 188.5,251.3 189.1,252.8 190.0,254.1 190.7,255.8 191.0,257.3 191.5,258.4 192.0,260.1 191.8,261.2 192.0,262.0 191.3,263.2 190.6,264.5 189.3,266.1 188.2,267.0 189.1,267.9 190.1,269.3 190.7,270.7 190.9,272.1 190.7,273.0 189.8,274.6 190.1,275.7 190.1,277.4 189.8,278.5 189.5,280.1 188.6,280.4 187.1,281.4 186.4,282.0 185.4,282.8 185.0,284.7 183.9,285.7 183.2,286.8 181.9,287.8 181.4,288.8 181.0,290.1 181.1,291.0 180.7,292.0 181.1,293.2 181.4,294.5 181.4,295.7 181.7,296.7 182.0,298.4 182.0,299.4 182.6,300.1 182.5,301.6 183.2,302.6 184.2,303.2 185.1,302.8 186.4,303.2 187.7,303.3 188.8,302.6 189.5,301.3 190.2,300.3 190.7,299.4 191.0,298.0 191.8,296.9 192.6,296.3 193.7,295.4 194.5,294.4 195.5,295.1 196.3,295.7 197.6,296.9 198.2,298.2 198.9,299.1 199.1,300.6 199.5,301.3 200.0,302.4 200.7,302.6 201.5,301.4 201.3,300.6 202.0,299.4 202.2,298.2 203.0,297.7 203.2,296.3 204.6,295.9 205.7,295.1 207.0,294.2 208.2,293.8 209.1,294.1 210.1,295.1 210.8,296.5 211.3,297.6 212.3,297.9 213.8,297.6 214.9,297.0 216.3,296.9 217.8,298.0 218.8,298.8 219.7,299.7 220.1,301.3 220.7,302.5 220.6,303.2 221.3,304.4 221.8,306.0 222.5,306.9 223.3,307.8 223.1,309.3 223.8,310.1 224.8,311.2 225.7,312.6 226.7,312.9 227.5,313.8 228.5,313.3 230.0,312.6 231.3,312.7 232.2,312.9 233.2,313.2 234.3,313.1 235.7,312.6 237.0,313.1 238.2,313.8 239.1,314.4 240.6,313.9 241.4,314.5 242.6,314.3 244.3,313.4 245.4,313.4 247.0,313.2 248.2,313.2 249.5,313.9 250.9,314.5 252.0,315.7 252.9,316.2 254.0,317.0 255.1,317.0 256.3,316.7 257.6,316.7 259.1,316.1 258.6,314.8 257.9,313.6 257.3,312.2 256.1,311.1 256.0,309.9 256.3,308.7 256.8,307.5 257.1,306.1 258.1,305.3 258.8,304.0 260.0,303.2 261.1,302.1 262.5,301.4 263.5,300.6 265.0,300.0 266.1,299.1 267.0,298.1 268.1,296.9 268.9,296.2 270.0,294.6 271.1,294.1 271.8,293.1 272.2,291.8 272.7,290.5 273.1,289.1 274.7,289.0 276.0,288.0 277.1,288.1 278.3,287.8 279.5,288.1 280.8,288.0 282.2,287.5Z"/>
<path fill="#ffffff" d="M209.3,172.0 208.9,171.1 207.6,170.5 206.7,169.5 205.6,168.3 204.9,167.3 203.8,165.9 203.5,164.8 202.7,164.3 201.3,164.1 200.0,164.4 198.9,163.7 197.7,164.1 196.5,164.6 195.5,164.7 194.0,164.4 192.9,163.9 191.6,164.1 190.4,163.3 189.2,163.3 188.0,163.1 186.8,162.3 185.5,161.8 183.9,161.5 182.1,161.3 181.0,160.8 179.7,161.1 178.3,160.8 177.3,161.2 176.0,161.4 174.4,161.9 173.1,162.4 172.4,163.7 171.5,164.1 170.4,165.4 169.7,166.6 170.3,167.6 170.2,168.6 170.4,170.2 170.8,171.9 171.5,173.1 171.8,174.1 171.9,175.6 172.6,176.8 172.8,177.9 174.0,178.9 174.4,179.7 175.0,180.4 176.2,181.3 176.6,182.2 177.6,182.9 178.4,184.0 178.5,184.8 179.4,185.9 179.9,186.9 180.9,187.6 181.3,188.7 182.6,187.9 183.9,188.0 185.3,188.4 186.8,188.4 188.1,188.8 189.0,189.1 189.8,190.2 190.4,190.9 191.0,191.6 191.5,192.7 192.9,193.4 194.0,193.5 195.1,193.0 196.9,193.1 197.8,192.5 199.1,192.0 200.2,191.0 200.6,189.8 201.2,188.7 202.7,187.7 204.2,187.2 205.6,186.9 207.0,186.6 208.5,186.2 208.8,185.3 209.3,184.0 209.7,182.5 210.4,181.1 210.7,179.4 211.1,178.2 210.4,177.0 210.4,175.6 210.0,174.6 210.0,173.3Z"/>
</g>
<g transform="translate(0,0)" fill="#fff" stroke="#0b1840" stroke-width="0.35">
<path d="M109.3,268.7 112.5,270.5 115.7,273.3 118.3,276.7 120.3,280.7 120.7,282.5 119.1,281.9 117.3,278.7 114.9,275.7 112.1,273.1 109.1,271.3Z"/>
<path d="M106.9,298.3 108.5,296.3 110.5,297.1 111.3,299.1 109.7,299.9 107.3,299.9Z"/>
<path d="M246.6,336.4 247.8,336.0 249.4,338.6 249.6,340.2 248.2,340.0 246.9,338.0Z"/>
</g>
<g transform="translate(0,0)" stroke="#0b1840" stroke-width="1.3" stroke-linejoin="round" fill="#373c77">
<path d="M299.0,348.7 300.2,348.0 301.6,348.7 302.3,351.3 302.6,355.4 302.8,358.4 304.3,361.5 305.0,365.6 305.9,369.7 305.4,374.8 304.6,380.0 303.6,385.1 303.0,390.2 302.0,394.3 300.5,397.9 299.2,399.6 296.8,398.2 294.6,396.6 292.0,395.3 289.7,393.5 289.3,390.2 286.6,387.9 287.0,384.6 284.6,382.2 285.6,379.1 283.3,376.1 283.9,373.0 282.3,370.3 284.1,365.8 286.2,362.1 290.3,360.1 293.8,358.0 296.8,357.4 298.7,356.4 298.5,352.3Z"/>
<path d="M41.4,230.8 43.2,229.6 45.6,230.2 48.0,231.4 49.8,232.0 51.6,230.8 51.3,228.4 51.6,226.0 54.0,223.6 55.8,224.2 57.0,226.6 57.0,229.0 59.3,230.8 62.3,232.0 65.3,234.1 61.7,235.0 58.7,235.6 55.1,236.2 52.2,235.6 51.0,235.0 50.4,238.0 50.6,241.6 49.2,244.6 46.8,246.3 44.4,245.2 42.6,241.6 41.4,236.8 40.8,233.2Z"/>
<path d="M59.3,247.3 59.9,245.4 61.4,244.4 63.3,244.4 64.8,245.6 65.5,247.3 64.8,249.1 63.3,250.2 61.4,250.2 59.9,249.2Z"/>
<path d="M45.6,258.9 48.0,257.1 51.0,256.5 54.0,257.7 57.0,260.1 59.9,262.5 62.3,263.1 65.3,261.9 64.7,263.7 62.3,265.5 64.1,267.9 65.9,270.3 67.1,273.3 68.3,276.9 68.6,280.5 67.1,283.5 65.3,284.7 63.5,282.3 61.7,279.9 58.7,279.3 55.8,280.5 53.4,279.3 52.8,277.5 55.1,275.7 57.0,274.5 54.5,272.7 51.6,270.3 49.2,267.3 47.4,263.7 45.6,261.3Z"/>
<path d="M49.8,289.2 52.2,289.8 55.8,290.8 59.9,292.8 64.1,295.8 67.1,298.8 68.1,301.8 66.5,304.8 64.7,308.4 62.3,311.9 59.9,314.9 58.1,316.4 54.0,316.4 50.4,316.7 47.4,317.3 45.6,316.1 47.4,313.7 49.2,310.8 48.9,307.8 48.0,304.2 46.8,300.0 46.5,295.8 47.7,292.2Z"/>
<path d="M44.4,325.7 48.0,323.3 51.6,322.4 56.4,322.7 61.1,323.6 64.7,325.7 66.5,329.3 68.3,332.9 71.3,335.9 72.5,339.5 71.3,343.7 70.1,347.3 67.1,349.1 62.3,349.7 57.5,348.5 52.8,346.7 48.6,343.7 45.0,340.1 42.0,335.3 41.0,331.7 43.2,329.3Z"/>
<path d="M68.6,231.9 72.2,230.2 72.6,230.8 69.0,232.5Z"/>
<path d="M67.1,236.9 68.8,236.8 68.9,237.6 67.2,237.7Z"/>
<path d="M47.0,250.1 50.4,249.5 50.5,250.7 47.1,251.3Z"/>
<path d="M85.6,234.8 88.4,235.4 88.3,236.3 85.5,235.7Z"/>
</g>
<g transform="translate(0,0)" fill="#0b1840">
<path d="M130.5,336.8 132.4,338.3 133.0,341.0 132.2,344.0 130.6,345.2 129.8,342.2 130.4,339.5Z"/>
<ellipse cx="64.7" cy="204.4" rx="1.3" ry="0.8" transform="rotate(-20 64.7 204.4)"/>
<ellipse cx="70.4" cy="214.5" rx="2.3" ry="1.1" transform="rotate(35 70.4 214.5)"/>
<ellipse cx="76" cy="213.2" rx="0.9" ry="0.7" transform="rotate(0 76 213.2)"/>
<ellipse cx="72.3" cy="209.2" rx="0.8" ry="1.1" transform="rotate(0 72.3 209.2)"/>
<ellipse cx="79.2" cy="208.4" rx="0.9" ry="0.7" transform="rotate(0 79.2 208.4)"/>
<ellipse cx="88.3" cy="225.8" rx="1.2" ry="1.9" transform="rotate(-20 88.3 225.8)"/>
<ellipse cx="86.5" cy="234.8" rx="1.6" ry="0.9" transform="rotate(30 86.5 234.8)"/>
<ellipse cx="36.6" cy="178.2" rx="0.9" ry="0.7" transform="rotate(0 36.6 178.2)"/>
<ellipse cx="37.6" cy="189.4" rx="0.9" ry="0.5" transform="rotate(0 37.6 189.4)"/>
<ellipse cx="273.8" cy="350.8" rx="1.3" ry="0.6" transform="rotate(-15 273.8 350.8)"/>
<ellipse cx="278.3" cy="350.2" rx="1.4" ry="0.6" transform="rotate(-10 278.3 350.2)"/>
</g>
</g>
<g id="map2">
<g transform="translate(345,0)" stroke="#0b1840" stroke-width="0.8" stroke-linejoin="round" stroke-opacity="0.7">
<path fill="#0060c4" d="M156.8,181.3 157.0,180.8 157.1,179.2 157.5,178.0 158.1,177.1 159.2,176.9 160.7,175.6 161.7,175.8 163.1,175.1 164.0,174.4 165.7,174.1 166.9,173.4 168.0,172.9 169.1,172.1 169.9,170.9 170.2,169.7 170.5,168.5 170.1,169.4 169.9,170.6 168.3,171.2 167.8,172.3 166.2,173.1 164.8,173.5 163.8,173.9 162.4,174.9 161.2,175.0 160.3,175.5 158.7,175.3 157.3,175.6 156.2,176.2 156.4,177.6 156.2,178.7 156.7,180.0 156.8,181.2Z M239.1,316.1 239.2,317.7 240.0,318.7 239.7,320.0 240.2,321.6 240.3,323.2 241.6,323.7 242.5,324.7 243.9,324.6 245.0,325.6 246.4,326.1 247.6,327.1 248.3,327.6 250.0,328.1 251.3,328.4 252.7,328.7 253.5,329.6 254.6,330.3 256.2,330.6 257.6,330.4 259.3,331.5 261.0,331.3 262.4,331.8 262.1,330.7 262.4,330.0 261.6,328.5 260.0,328.1 259.3,326.8 258.7,325.4 257.7,324.4 257.4,323.1 257.3,321.5 257.9,320.3 257.2,318.9 257.3,317.9 257.6,316.5 256.6,316.9 255.1,317.0 254.0,317.0 252.9,316.2 252.0,315.7 250.9,314.5 249.5,313.9 248.2,313.2 247.0,313.2 245.4,313.4 244.3,313.4 242.6,314.3 241.4,314.5 240.5,314.7 239.4,314.3 238.2,313.9 238.9,315.1 238.9,315.3Z M125.2,356.2 126.2,356.2 127.4,357.0 128.5,358.0 129.3,358.7 130.2,359.9 131.2,360.5 132.6,360.5 133.6,361.1 134.9,361.2 136.4,361.2 137.7,361.2 138.7,361.8 139.7,362.1 141.4,362.3 142.4,361.8 143.5,361.5 144.1,360.1 144.0,358.8 144.3,357.4 145.1,355.9 146.2,354.9 145.8,353.9 144.8,352.8 144.9,351.8 144.5,350.8 143.7,349.8 143.0,348.7 143.1,347.3 143.7,346.2 143.9,345.0 144.2,343.6 144.9,342.4 143.8,341.8 142.4,341.5 141.2,341.2 139.9,341.1 138.5,340.3 137.4,339.9 136.5,339.0 135.3,338.4 134.9,337.4 133.7,337.1 132.1,336.6 130.9,335.7 129.8,335.4 130.8,336.9 131.1,338.1 131.0,339.5 132.0,340.8 131.8,341.8 132.1,343.1 131.7,344.4 131.2,345.7 130.8,347.1 130.1,348.1 129.2,349.3 128.3,350.0 127.5,351.0 127.1,352.2 126.1,353.1 126.0,354.8 125.3,355.9Z M230.2,253.3 229.0,253.9 227.9,255.4 226.3,255.2 224.8,255.5 223.2,254.9 221.7,255.1 221.2,254.4 220.4,253.2 219.9,254.7 219.2,255.5 219.3,256.8 218.7,258.1 218.4,259.7 218.1,261.0 217.4,262.4 216.6,263.6 216.5,264.9 216.2,266.2 216.9,267.5 216.5,268.6 217.4,269.9 217.8,271.0 219.1,271.8 219.9,273.1 220.3,274.0 221.0,274.9 221.8,276.2 221.2,277.3 221.2,278.7 222.6,279.1 223.8,279.1 225.0,280.1 226.2,279.9 227.4,280.4 228.7,280.6 229.9,280.5 231.1,281.5 232.1,282.5 233.0,283.7 234.5,283.1 235.3,281.7 236.5,281.0 237.6,280.5 239.0,280.4 239.8,280.0 239.4,278.6 239.4,276.8 239.5,275.5 238.9,274.8 238.0,274.3 236.8,274.1 235.7,272.9 234.9,272.4 234.1,271.2 233.7,270.4 232.2,269.8 231.8,268.7 231.6,267.4 230.8,266.1 230.2,264.7 229.9,263.7 229.6,262.7 229.4,261.4 229.6,259.9 229.3,258.7 229.6,257.5 229.9,256.1 230.1,254.7Z M260.0,151.6 258.5,150.6 257.1,150.5 255.8,151.0 254.5,151.2 253.3,151.1 252.1,151.1 251.2,150.1 251.8,151.5 252.5,152.5 253.1,153.7 254.3,154.5 254.4,155.5 255.6,156.2 256.1,157.2 256.3,158.7 255.9,160.2 256.2,161.2 256.6,162.2 257.5,163.7 257.9,164.6 258.1,166.2 257.7,167.7 258.0,169.0 257.9,169.8 257.4,171.2 257.5,172.7 256.9,173.7 256.8,174.9 256.8,176.2 257.3,177.5 257.7,178.5 258.1,179.9 259.1,180.6 259.5,182.1 260.1,182.7 261.2,183.7 262.4,184.2 263.7,183.6 265.3,183.8 266.2,184.3 267.7,184.2 268.8,183.8 270.1,182.7 271.4,183.1 272.4,182.4 273.9,182.3 275.6,181.4 277.2,181.3 278.7,181.2 280.2,181.3 281.7,180.9 283.0,180.4 284.6,180.6 286.2,179.9 285.0,178.9 283.7,178.0 282.3,177.1 281.1,176.4 279.9,176.2 279.0,175.5 277.8,174.7 275.9,174.2 274.9,173.7 273.9,172.9 272.4,172.6 271.1,172.2 269.9,171.2 268.6,170.2 268.3,169.0 267.4,168.1 266.4,167.6 264.6,167.5 263.7,166.8 262.6,166.0 261.4,165.4 260.6,164.3 260.7,162.9 261.2,161.2 261.7,160.0 261.5,158.6 261.3,157.5 261.8,156.2 261.6,154.9 261.3,153.7 260.9,152.7Z M150.6,357.7 152.2,358.0 153.6,358.7 155.1,359.4 156.2,359.4 157.4,359.9 158.4,361.0 159.9,361.3 161.1,362.4 162.4,363.0 163.5,364.7 164.9,365.7 166.2,366.2 167.7,366.4 168.9,367.0 169.7,367.8 171.2,368.0 172.1,366.8 173.7,366.1 174.5,365.3 175.4,363.9 176.6,363.5 177.5,362.4 176.6,361.2 175.9,360.4 175.6,359.3 176.0,358.1 176.9,357.1 176.8,356.2 177.4,354.7 177.5,353.8 177.5,352.4 176.4,351.3 176.1,350.2 175.6,349.3 174.5,349.1 173.0,348.1 171.8,347.4 170.6,346.8 168.9,346.6 167.6,346.6 166.2,346.2 165.1,346.2 163.7,345.1 162.5,344.9 161.2,345.8 159.9,346.7 158.7,347.4 157.4,347.8 156.6,348.8 155.0,349.3 154.4,350.9 153.4,351.6 153.2,353.1 152.1,354.4 151.6,355.2 151.2,356.8Z M220.1,301.3 220.7,302.5 220.6,303.2 221.3,304.4 221.8,306.0 222.5,306.9 223.3,307.8 223.1,309.3 223.8,310.1 224.8,311.2 225.7,312.6 226.7,312.9 227.5,313.8 228.5,313.3 230.0,312.6 231.3,312.7 232.2,312.9 233.2,313.2 234.3,313.1 235.7,312.6 237.2,313.2 238.2,313.9 237.7,312.8 237.3,311.1 237.4,310.4 237.3,310.5 236.9,311.6 236.9,311.5 237.0,310.2 236.8,309.1 237.2,307.8 237.5,306.1 237.6,304.7 238.2,302.8 237.6,301.3 238.1,299.9 238.3,298.6 238.3,296.9 239.0,295.0 239.3,293.7 239.3,291.8 240.0,290.6 240.4,289.1 240.2,287.4 240.1,286.0 240.0,284.7 240.1,282.8 239.5,281.6 239.8,280.0 239.0,280.4 237.6,280.5 236.5,281.0 235.3,281.7 234.5,283.1 233.0,283.7 232.4,285.1 231.7,286.3 231.1,287.4 230.1,288.8 229.8,289.8 229.3,291.1 228.5,292.6 227.9,293.5 226.8,294.9 225.6,295.6 224.4,297.2 223.4,298.0 222.0,298.4 220.8,299.3 219.8,300.7Z M144.2,153.1 143.3,154.2 141.9,154.8 141.2,156.1 139.8,156.1 137.8,156.7 136.4,156.8 135.2,157.7 133.5,157.3 132.3,156.2 130.8,156.5 129.1,155.7 127.8,155.6 125.8,155.3 124.6,155.1 123.1,154.5 121.3,154.1 119.8,154.2 118.8,153.6 117.1,153.1 117.5,153.8 118.5,155.3 119.3,156.7 119.6,158.2 120.2,159.0 120.5,160.4 121.2,161.7 120.6,162.6 120.6,164.6 119.9,165.7 119.3,166.7 118.7,168.0 119.2,169.1 118.8,170.3 118.1,171.6 117.2,171.3 116.2,171.2 117.1,171.8 118.9,172.3 120.1,172.2 121.5,172.4 122.5,173.1 123.7,172.6 125.2,172.2 126.2,172.1 127.5,171.2 128.6,170.8 130.0,171.1 131.2,170.5 132.4,170.6 133.6,170.1 135.0,170.0 136.4,169.6 137.4,169.3 138.5,169.4 140.1,168.5 141.1,168.4 142.4,168.1 143.5,168.0 145.1,168.9 146.2,168.7 147.0,167.4 147.7,166.2 147.6,164.8 147.3,163.9 146.8,162.9 146.2,161.4 146.9,160.2 146.6,159.2 146.2,157.9 146.1,156.5 144.9,155.7 144.6,154.2Z M258.0,203.1 257.4,203.7 256.4,204.9 256.2,206.2 255.6,207.1 254.3,208.1 252.9,208.3 252.2,209.2 251.2,209.3 250.8,209.5 250.6,211.0 251.2,212.5 252.1,213.5 252.9,214.8 253.7,216.2 254.6,217.1 255.6,218.8 256.2,219.9 257.1,220.0 257.7,220.6 259.3,220.1 260.0,219.3 261.3,218.7 262.4,218.1 263.6,217.5 264.7,216.8 265.9,216.4 267.4,216.2 268.3,215.3 269.8,214.3 271.2,213.6 272.4,213.1 273.8,212.1 275.3,212.0 276.2,211.5 277.4,210.6 278.6,210.6 279.7,210.4 281.2,210.0 280.9,208.7 280.3,207.9 279.9,206.8 280.1,205.5 280.5,203.9 280.3,202.7 279.9,202.4 279.2,201.6 277.7,201.2 276.8,200.6 275.5,200.2 274.7,199.8 273.6,199.7 271.9,199.5 270.5,199.9 269.2,199.7 268.2,199.5 267.4,198.7 266.1,197.7 264.9,197.4 263.8,197.9 262.4,198.7 261.7,199.9 260.8,200.4 259.9,201.2 258.7,201.8Z M267.3,245.9 267.7,244.6 268.3,243.8 268.8,242.7 268.3,241.3 267.6,240.0 266.8,239.3 267.5,238.2 268.4,236.8 268.7,235.6 268.3,234.5 267.7,233.8 267.4,232.4 266.7,231.7 265.4,230.8 264.9,229.6 263.7,228.7 263.0,227.6 261.8,226.6 260.9,226.2 259.9,224.9 259.2,223.5 258.5,222.4 256.7,221.2 256.2,219.9 255.5,220.8 254.4,221.3 253.7,222.4 253.5,223.8 252.5,224.7 251.8,226.2 251.6,227.4 250.5,228.7 249.5,230.0 250.0,231.6 250.9,232.8 251.6,233.7 251.5,234.7 252.1,236.3 251.8,237.5 252.1,238.9 251.9,240.1 251.9,241.6 251.4,242.5 250.6,243.7 250.5,245.4 250.9,246.8 251.6,247.7 252.9,248.7 253.3,249.8 254.5,251.0 255.6,251.8 257.0,251.8 258.1,251.0 259.7,251.3 261.0,252.0 262.3,251.6 263.1,251.0 264.0,250.5 264.5,249.5 265.1,248.8 265.6,247.5 266.6,247.3 266.9,247.2 266.7,247.1Z M192.4,329.3 191.5,328.5 190.9,327.2 190.6,326.2 190.2,325.0 189.7,323.8 188.7,322.5 188.2,321.5 186.7,320.4 186.2,319.3 185.2,319.0 184.2,318.3 183.1,317.5 181.4,317.1 180.0,317.5 179.2,316.8 177.7,316.6 176.8,316.2 176.1,317.2 175.0,318.1 173.9,319.1 172.5,319.6 171.2,320.0 170.7,321.4 169.6,322.8 168.7,323.7 168.5,325.1 168.7,326.8 169.5,327.6 170.0,328.8 170.6,329.9 170.8,331.1 171.7,332.4 172.5,333.7 173.3,335.0 174.4,335.9 175.0,336.8 176.2,337.2 176.7,338.4 178.1,338.7 179.3,339.1 180.9,339.2 181.8,339.9 183.1,340.5 185.0,340.6 186.4,340.1 187.7,339.7 188.7,339.9 189.8,339.2 190.7,338.9 191.8,338.7 191.9,337.4 192.4,336.2 192.8,335.2 193.1,333.7 193.7,332.4 193.6,331.6 192.6,330.5Z M229.3,338.9 230.1,339.1 231.8,339.8 233.1,340.1 234.4,340.2 236.0,339.9 237.1,340.1 238.3,340.9 240.1,341.1 241.1,341.7 242.6,341.1 244.1,341.1 245.2,341.8 246.7,342.8 248.1,343.1 249.5,342.8 251.1,342.5 252.2,343.0 253.6,344.0 254.1,345.1 254.8,346.5 256.2,346.8 257.1,348.1 258.3,348.3 259.6,347.5 261.1,347.1 262.2,347.3 263.0,348.6 264.0,349.2 263.3,348.2 262.8,346.9 262.4,346.2 261.8,345.1 261.9,343.9 261.1,342.3 261.2,341.2 261.2,340.2 261.2,338.9 261.9,337.3 261.8,336.2 262.1,334.5 262.4,333.3 262.4,331.8 261.0,331.3 259.3,331.5 257.6,330.4 256.2,330.6 254.6,330.3 253.5,329.6 252.7,328.7 251.3,328.4 250.0,328.1 248.3,327.6 247.6,327.1 246.4,326.1 245.0,325.6 243.9,324.6 242.5,324.7 241.6,323.7 240.3,323.2 240.1,324.5 239.4,325.9 238.7,326.8 238.2,328.2 237.4,329.2 236.6,330.9 235.7,332.0 234.9,333.1 233.6,334.0 233.2,335.1 232.1,335.6 231.2,336.9 230.1,338.1Z M170.1,134.1 169.2,135.3 168.2,136.1 167.1,137.2 165.7,137.3 164.3,138.0 163.2,139.1 162.0,139.2 160.5,140.0 159.2,139.9 158.0,140.3 156.4,140.5 155.2,141.1 154.0,141.5 152.9,142.2 151.7,142.9 150.0,143.2 149.2,144.1 147.8,144.6 146.9,146.0 145.1,146.2 144.2,147.1 143.7,148.4 142.3,149.0 142.2,150.1 143.0,151.2 143.2,152.3 144.2,153.1 145.8,152.4 147.1,152.5 148.4,151.7 149.9,151.7 151.0,152.3 152.5,153.4 154.0,153.3 154.9,154.2 156.2,155.3 157.0,156.3 158.6,157.6 159.9,158.2 160.8,157.1 162.5,156.5 163.7,155.7 165.1,154.9 166.4,154.4 167.4,153.2 168.6,152.9 169.7,153.0 171.0,153.8 172.5,154.0 173.7,154.3 175.0,154.4 175.5,152.8 175.7,151.5 175.7,150.1 175.1,149.0 175.2,147.5 174.9,146.0 174.9,144.5 174.8,143.1 174.7,142.1 174.5,141.1 173.8,139.6 172.9,138.7 171.8,137.5 171.8,136.6 170.9,135.3Z M238.9,315.1 238.2,313.9 237.2,313.2 235.7,312.6 234.3,313.1 233.2,313.2 232.2,312.9 231.3,312.7 230.0,312.6 228.5,313.3 227.5,313.8 226.7,312.9 225.7,312.6 224.8,311.2 223.8,310.1 222.8,311.1 222.6,312.6 222.0,313.6 221.2,315.0 220.9,316.4 219.9,317.5 218.7,317.7 217.2,318.3 216.2,318.1 215.1,318.2 213.5,318.5 212.4,318.7 211.3,319.5 210.2,319.9 208.7,320.0 209.4,321.0 209.5,322.3 209.9,323.1 211.3,323.8 212.8,324.5 213.7,325.6 214.6,325.2 216.1,325.0 217.4,324.3 218.6,324.8 219.9,326.3 221.2,326.8 222.7,327.8 223.1,329.3 224.3,329.9 225.4,330.8 225.7,331.5 226.8,332.4 227.4,333.4 227.4,334.9 226.9,336.0 226.6,337.3 226.3,338.3 227.8,338.7 229.3,338.9 230.1,338.1 231.2,336.9 232.1,335.6 233.2,335.1 233.6,334.0 234.9,333.1 235.7,332.0 236.6,330.9 237.4,329.2 238.2,328.2 238.7,326.8 239.4,325.9 240.1,324.5 240.3,323.2 240.2,321.6 239.7,320.0 240.0,318.7 239.2,317.7 239.1,316.1 238.9,315.3Z M168.7,249.0 168.1,249.1 166.6,249.4 165.5,249.0 163.4,249.4 162.2,249.1 161.6,248.4 161.1,247.5 159.8,247.8 159.0,248.6 158.1,249.3 157.1,249.5 156.1,250.0 154.9,250.6 153.6,251.1 152.4,252.4 153.0,254.0 153.6,254.7 154.3,256.2 154.4,257.6 154.9,258.5 154.9,259.9 154.5,261.3 153.4,262.4 153.1,263.7 152.6,265.0 151.9,266.0 151.2,267.4 151.1,268.9 151.8,269.9 153.6,270.4 154.7,271.3 156.2,271.8 157.5,272.2 158.7,273.8 159.9,274.3 160.6,275.1 161.8,275.8 162.8,276.8 163.7,277.4 165.1,276.7 166.2,276.2 167.4,275.4 168.6,274.1 169.9,273.7 170.9,272.7 172.1,272.1 173.7,271.8 174.6,270.9 175.7,269.9 177.2,269.8 178.0,268.7 177.1,267.7 176.2,267.5 175.5,266.2 174.6,264.7 173.5,263.9 172.4,263.1 172.0,261.9 170.7,260.4 169.9,259.3 169.3,257.9 168.7,257.1 168.7,255.6 167.9,254.3 167.4,253.3 166.2,252.4 166.4,251.3 167.5,250.7 168.0,249.3Z M288.2,305.1 288.5,303.5 289.4,302.5 290.2,301.6 291.2,300.1 291.2,299.0 290.8,297.8 290.2,296.4 290.2,295.1 288.5,294.5 287.4,293.8 286.6,292.9 285.2,292.1 284.6,290.7 283.7,289.9 282.5,289.0 282.2,287.5 280.8,288.0 279.5,288.1 278.3,287.8 277.1,288.1 276.0,288.0 274.7,289.0 273.1,289.1 272.7,290.5 272.2,291.8 271.8,293.1 271.1,294.1 270.0,294.6 268.9,296.2 268.1,296.9 267.0,298.1 266.1,299.1 264.7,299.9 263.2,300.8 262.1,301.6 261.1,302.1 260.0,303.2 258.8,304.0 258.1,305.3 257.1,306.1 256.8,307.5 256.3,308.7 256.0,309.9 256.1,311.1 256.6,311.9 257.9,312.6 259.3,312.5 260.4,313.6 261.2,314.4 262.5,313.7 263.6,314.2 264.9,313.7 265.6,312.0 266.4,311.3 267.4,310.0 268.4,309.2 270.2,308.6 271.2,307.5 272.6,306.9 273.8,306.9 274.9,306.2 276.1,305.9 277.5,305.6 278.7,305.6 279.8,305.5 281.1,305.0 282.4,304.4 283.9,304.7 285.3,304.3 286.5,305.3Z M170.5,133.3 170.1,134.1 170.9,135.3 171.8,136.6 171.8,137.5 172.9,138.7 173.8,139.6 174.5,141.1 174.7,142.1 174.8,143.1 174.9,144.5 176.5,144.3 177.4,145.2 178.6,145.4 180.0,145.2 181.0,145.4 182.3,145.4 183.4,145.7 185.0,145.4 186.2,146.0 187.7,146.0 188.8,146.1 190.0,146.7 191.2,146.6 192.7,147.5 193.7,147.9 195.1,147.2 196.6,147.1 197.1,146.3 198.7,146.1 200.0,145.6 201.5,145.7 202.7,145.0 203.7,144.8 203.6,143.4 203.6,141.7 203.1,140.4 204.0,138.9 204.2,137.4 204.6,135.9 203.7,135.4 202.5,134.7 201.2,133.6 199.8,133.3 198.8,133.5 197.3,133.9 196.2,133.6 194.7,133.6 193.4,133.4 192.7,133.2 191.2,132.9 190.0,131.7 188.6,131.8 187.4,130.3 186.2,129.8 184.8,130.0 183.8,129.7 182.7,129.6 181.2,129.2 180.0,128.7 179.1,127.7 177.3,127.6 176.2,126.7 175.0,126.6 173.6,126.7 172.8,126.2 172.8,127.5 172.1,128.8 172.5,130.1 171.8,131.1 171.5,132.3Z M190.0,276.2 189.5,277.4 189.6,279.1 189.5,280.1 188.6,280.4 187.1,281.4 186.4,282.0 185.4,282.8 185.0,284.7 183.9,285.7 183.2,286.8 181.9,287.8 181.4,288.8 181.0,290.1 181.1,291.0 180.7,292.0 181.1,293.2 181.4,294.5 181.4,295.7 181.7,296.7 182.0,298.4 182.0,299.4 182.3,300.3 182.4,301.5 183.2,302.6 184.2,303.2 185.1,302.8 186.4,303.2 187.7,303.3 188.8,302.6 189.5,301.3 190.2,300.3 190.7,299.4 191.0,298.0 191.8,296.9 192.6,296.3 193.7,295.4 194.5,294.4 195.5,295.1 196.3,295.7 197.6,296.9 198.2,298.2 199.1,299.2 199.2,300.7 199.8,301.8 200.7,302.5 201.5,301.4 201.3,300.6 202.0,299.4 202.2,298.2 203.0,297.7 203.2,296.3 204.6,295.9 205.7,295.1 207.0,294.4 207.9,293.5 208.7,292.4 208.1,291.0 208.0,289.7 207.4,288.7 207.1,287.7 206.4,286.4 206.2,284.9 205.1,283.5 204.9,282.2 203.7,281.2 202.3,280.5 201.0,280.6 199.9,279.9 198.5,279.7 197.3,278.8 196.2,278.7 194.7,278.1 193.6,278.2 192.4,277.4 191.3,277.1Z M116.9,152.6 115.9,151.9 115.4,150.7 115.1,149.1 114.8,147.5 115.1,145.9 114.7,144.5 113.4,145.1 111.4,144.9 110.1,145.1 108.7,144.6 107.4,144.5 106.2,144.3 105.1,143.7 103.8,144.2 102.2,143.3 101.1,143.7 101.7,145.1 101.6,146.9 102.1,148.1 102.4,149.4 102.8,151.0 103.6,152.3 104.1,154.1 104.3,155.6 105.2,156.6 105.6,157.8 106.4,159.0 107.1,160.1 107.7,161.7 107.1,163.5 107.9,164.7 108.1,166.1 108.2,167.6 107.5,168.8 107.6,170.8 107.1,172.1 107.2,173.5 107.4,174.9 108.1,176.1 107.8,177.0 107.8,178.1 107.3,177.8 107.3,178.1 108.1,179.1 109.3,179.2 110.5,180.0 112.2,180.2 113.5,180.6 114.8,180.6 116.1,181.1 117.4,182.1 118.7,182.3 120.1,182.7 121.1,183.1 121.7,182.8 122.8,182.7 122.9,181.3 122.5,180.0 122.0,178.2 122.2,176.8 121.0,176.2 120.2,175.4 119.3,174.3 118.4,173.2 117.1,172.0 116.2,171.2 117.2,171.3 118.1,171.6 118.8,170.3 119.2,169.1 118.7,168.0 119.3,166.7 119.9,165.7 120.6,164.6 120.6,162.6 121.2,161.7 120.5,160.4 120.2,159.0 119.6,158.2 119.3,156.7 118.5,155.3 117.5,153.8 117.1,153.1Z M174.4,161.9 174.7,161.1 175.7,160.5 175.1,159.5 174.5,158.1 174.9,157.0 174.7,155.6 175.0,154.4 173.7,154.3 172.5,154.0 171.0,153.8 169.7,153.0 168.6,152.9 167.4,153.2 166.4,154.4 165.1,154.9 163.7,155.7 162.5,156.5 160.8,157.1 159.9,158.2 158.6,157.6 157.0,156.3 156.2,155.3 154.9,154.2 154.0,153.3 152.5,153.4 151.0,152.3 149.9,151.7 148.4,151.7 147.1,152.5 145.8,152.4 144.2,153.1 144.6,154.2 144.9,155.7 146.1,156.5 146.2,157.9 146.6,159.2 146.9,160.2 146.2,161.4 146.8,162.9 147.3,163.9 147.6,164.8 147.7,166.2 148.6,167.1 149.3,168.2 150.5,168.8 151.2,170.0 152.0,171.4 152.8,172.5 153.7,173.7 154.1,174.7 155.5,175.4 156.2,176.2 157.3,175.6 158.7,175.3 160.3,175.5 161.2,175.0 162.4,174.9 163.8,173.9 164.8,173.5 166.2,173.1 167.8,172.3 168.3,171.2 169.9,170.6 170.1,169.4 170.5,168.5 170.5,167.4 169.7,166.6 170.4,165.4 171.5,164.1 172.4,163.7 173.1,162.4Z M86.5,213.9 87.1,215.0 87.4,216.3 88.7,216.8 89.5,217.9 89.7,219.4 90.5,220.6 90.8,221.0 92.0,221.5 93.1,222.9 94.1,224.1 94.6,224.6 95.6,225.6 97.0,226.3 98.2,227.2 99.0,227.9 100.0,229.0 101.3,229.5 102.4,230.1 103.5,230.3 104.4,229.4 105.9,228.3 107.1,227.2 108.0,226.2 109.2,225.5 109.7,224.4 111.3,223.2 111.8,221.8 111.5,220.2 110.4,219.7 110.0,218.1 111.1,217.7 112.4,216.8 113.5,216.6 114.8,215.9 116.0,215.1 116.2,213.8 117.3,212.8 116.8,211.3 116.3,210.5 115.7,208.9 115.0,208.1 114.3,206.4 113.5,205.4 112.7,204.4 112.8,203.2 111.6,201.9 111.5,200.7 110.4,201.5 109.2,202.8 108.1,203.2 107.1,204.2 105.8,205.2 104.4,205.0 103.7,205.8 102.7,206.8 101.1,207.2 99.6,207.6 97.8,208.2 96.7,208.5 95.2,209.4 93.9,209.4 93.1,210.2 91.9,210.5 90.6,211.5 88.9,212.2 88.1,213.2 87.6,213.5Z M156.8,181.2 156.7,180.0 156.2,178.7 156.4,177.6 156.2,176.2 155.5,175.4 154.1,174.7 153.7,173.7 152.8,172.5 152.0,171.4 151.2,170.0 150.5,168.8 149.3,168.2 148.6,167.1 147.7,166.2 147.0,167.4 146.2,168.7 145.1,168.9 143.5,168.0 142.4,168.1 141.1,168.4 140.1,168.5 138.5,169.4 137.4,169.3 136.4,169.6 135.0,170.0 133.6,170.1 132.4,170.6 131.2,170.5 130.0,171.1 128.6,170.8 127.5,171.2 126.2,172.1 125.2,172.2 123.7,172.6 122.5,173.1 121.5,172.4 120.1,172.2 118.9,172.3 117.1,171.8 116.2,171.2 117.1,172.0 118.4,173.2 119.3,174.3 120.2,175.4 121.0,176.2 122.2,176.8 122.0,178.2 122.5,180.0 122.9,181.3 122.8,182.7 124.1,182.2 125.6,181.8 127.1,181.7 128.3,182.0 129.8,181.6 131.5,181.4 133.0,181.1 134.1,180.5 134.6,181.1 135.7,182.2 136.0,183.1 136.3,183.3 136.4,183.7 137.2,184.1 138.7,184.6 140.1,184.6 141.2,185.1 142.1,184.7 143.2,183.6 144.2,183.1 145.3,183.7 146.8,184.8 147.8,185.5 149.2,186.1 150.5,187.1 151.5,188.2 152.3,189.2 153.2,190.1 154.0,191.0 154.9,191.7 155.1,190.4 154.8,188.7 155.1,187.4 155.5,186.2 156.0,184.8 156.0,183.7 156.7,182.5 156.8,182.4 156.8,181.3Z M232.5,198.7 234.2,198.0 235.6,198.1 236.9,198.8 238.1,199.3 238.8,200.1 239.5,201.4 240.6,202.4 240.8,203.8 241.5,204.4 241.8,205.6 242.4,206.8 243.7,208.1 244.4,208.8 245.7,209.2 246.8,209.3 247.7,209.5 248.7,210.5 249.4,209.8 250.8,209.5 251.2,209.3 252.2,209.2 252.9,208.3 254.3,208.1 255.6,207.1 256.2,206.2 256.4,204.9 257.4,203.7 258.0,203.1 257.9,202.0 258.1,201.2 257.3,200.4 256.8,198.7 256.5,197.7 256.2,196.2 256.4,195.0 255.5,193.8 255.6,192.5 255.0,191.3 254.6,190.1 253.9,188.5 253.7,187.4 253.0,186.2 252.2,185.2 251.8,183.7 251.0,182.7 249.8,181.9 248.7,181.2 247.4,180.4 246.2,179.2 245.0,178.7 243.7,177.9 242.6,177.2 241.2,176.8 239.8,177.8 238.6,178.1 237.4,178.7 236.2,179.6 234.9,180.6 235.5,181.8 235.5,183.5 236.1,185.0 236.7,185.9 237.7,187.6 238.0,188.7 237.8,190.0 238.8,191.3 238.6,192.4 237.6,193.5 237.0,194.5 236.1,195.6 234.9,196.6 234.0,197.5Z M154.9,191.7 154.0,191.0 153.2,190.1 152.3,189.2 151.5,188.2 150.5,187.1 149.2,186.1 147.8,185.5 146.8,184.8 145.3,183.7 144.2,183.1 143.2,183.6 142.1,184.7 141.2,185.1 140.1,184.6 138.7,184.6 137.2,184.1 136.4,183.7 136.8,184.9 135.8,186.0 135.3,187.5 134.9,188.7 134.3,190.3 133.5,191.3 133.1,193.1 132.7,194.9 132.0,195.8 131.2,197.4 130.8,199.1 130.3,200.1 129.3,201.2 129.1,202.7 128.7,203.7 130.1,204.1 131.6,205.0 132.5,206.5 133.7,206.8 134.9,207.2 136.0,208.3 137.4,208.7 138.8,209.0 140.4,209.8 141.8,210.3 142.7,211.2 143.2,210.2 144.6,209.5 146.1,209.4 147.2,208.7 148.8,208.3 149.2,208.2 150.0,207.3 151.1,206.1 152.5,205.7 153.2,205.1 154.2,204.2 154.2,202.5 155.1,201.2 155.2,199.7 155.2,198.2 155.0,196.6 155.4,195.6 155.2,194.2 155.2,193.0Z M200.6,189.8 200.2,191.0 199.1,192.0 197.8,192.5 196.9,193.1 195.1,193.0 194.0,193.5 192.9,193.4 191.5,192.7 191.0,191.6 190.4,190.9 189.8,190.2 189.0,189.1 188.1,188.8 186.8,188.4 185.3,188.4 183.9,188.0 182.6,187.9 181.3,188.7 180.8,188.1 180.0,189.0 179.9,190.3 179.3,191.3 178.7,192.7 177.4,193.1 176.7,194.6 175.2,195.6 173.7,196.2 173.1,197.4 171.8,198.0 170.6,199.3 170.0,200.4 170.0,201.8 170.0,203.1 171.0,203.9 171.8,204.7 172.5,206.2 173.7,206.6 174.2,207.7 175.6,208.1 177.1,208.2 178.7,209.0 180.0,209.3 181.6,209.2 182.9,209.6 184.3,209.9 185.6,209.8 187.4,210.6 188.3,210.8 189.9,211.2 191.4,211.6 192.3,211.9 193.7,213.0 194.9,213.1 196.5,212.8 197.5,212.3 197.4,210.6 198.1,209.3 198.1,208.2 198.8,206.6 198.3,205.2 199.1,203.7 199.1,202.2 200.0,200.7 200.3,199.2 201.1,197.6 201.1,196.1 201.2,194.6 200.7,192.9 200.6,191.3Z M264.0,349.2 265.1,350.1 266.5,350.7 267.9,350.6 269.1,351.1 270.2,350.4 271.6,349.9 273.1,349.7 274.7,349.7 276.4,350.3 277.7,349.5 279.1,350.1 280.2,349.3 280.8,348.6 282.2,348.1 282.4,346.6 282.7,345.6 283.2,344.1 284.6,343.3 285.8,343.0 286.8,341.6 288.2,341.1 288.9,340.3 290.4,339.8 290.8,338.3 292.2,337.9 291.3,336.5 290.2,336.0 289.4,334.6 288.2,333.2 287.5,332.2 286.2,331.2 285.0,330.3 284.8,328.9 283.7,328.1 282.3,327.7 281.2,327.5 279.9,326.8 278.9,327.2 277.7,326.8 276.1,327.3 274.9,327.5 273.9,328.1 272.3,328.6 271.3,328.3 269.9,328.7 268.7,329.0 267.5,329.7 266.2,330.0 264.9,330.5 263.7,331.1 262.4,331.8 262.4,333.3 262.1,334.5 261.8,336.2 261.9,337.3 261.2,338.9 261.2,340.2 261.2,341.2 261.1,342.3 261.9,343.9 261.8,345.1 262.4,346.2 262.8,346.9 263.3,348.2Z M154.9,191.7 155.2,193.0 155.2,194.2 155.4,195.6 155.0,196.6 155.2,198.2 155.2,199.7 155.1,201.2 154.2,202.5 154.2,204.2 153.2,205.1 152.5,205.7 151.1,206.1 150.0,207.3 149.2,208.2 148.8,208.3 149.8,208.3 150.9,207.8 152.4,208.0 153.6,208.7 154.7,208.4 156.2,208.7 156.9,209.8 157.8,210.7 158.7,211.2 158.8,212.3 159.4,213.9 159.9,214.9 160.4,215.9 160.0,217.2 160.0,218.5 160.5,219.9 161.7,220.7 163.0,220.4 164.3,221.2 164.3,222.4 164.9,223.5 164.9,225.0 165.8,224.0 167.4,222.9 168.7,222.5 169.5,221.9 170.9,221.7 172.3,221.3 173.7,221.2 175.0,221.3 176.1,221.4 177.5,222.0 178.5,221.2 179.3,219.9 180.1,218.6 181.2,217.4 182.1,216.0 183.1,215.1 183.7,213.7 183.8,212.2 184.5,211.0 184.3,209.9 182.9,209.6 181.6,209.2 180.0,209.3 178.7,209.0 177.1,208.2 175.6,208.1 174.2,207.7 173.7,206.6 172.5,206.2 171.8,204.7 171.0,203.9 170.0,203.1 170.0,201.8 170.0,200.4 170.6,199.3 171.8,198.0 173.1,197.4 173.7,196.2 175.2,195.6 176.7,194.6 177.4,193.1 178.7,192.7 177.5,193.1 176.1,193.6 174.7,194.3 173.6,194.6 172.5,195.6 171.4,196.3 170.0,196.8 168.7,197.8 167.8,198.8 166.2,199.6 164.8,198.7 164.0,197.6 162.4,196.8 161.1,196.3 159.5,195.3 158.7,194.3 157.4,193.2 156.3,192.5Z M66.9,201.6 67.8,202.2 68.6,203.1 70.3,203.4 71.8,203.5 72.8,204.3 73.4,205.6 74.7,206.2 76.1,206.2 77.2,206.8 78.0,207.9 79.1,208.1 79.5,208.9 80.9,209.3 82.6,210.0 84.1,209.9 84.4,211.0 85.5,211.3 85.9,212.7 86.5,213.9 87.6,213.5 88.1,213.2 88.9,212.2 90.6,211.5 91.9,210.5 93.1,210.2 93.9,209.4 95.2,209.4 94.9,207.8 94.9,206.9 95.2,205.4 95.1,204.0 95.1,202.3 94.7,201.2 93.9,199.8 94.0,198.5 94.1,197.6 93.4,196.2 92.4,194.7 92.1,193.2 91.5,191.8 90.9,191.3 89.7,190.6 88.2,190.6 87.0,189.9 85.9,189.9 84.7,190.3 83.5,190.5 82.2,191.2 80.9,190.6 79.5,190.6 78.5,189.5 77.2,189.3 75.8,189.0 74.9,188.5 73.5,188.4 72.2,187.7 70.9,187.8 69.9,188.1 68.6,188.1 67.2,188.7 65.8,188.4 64.5,188.2 63.1,188.5 61.8,188.4 62.5,189.5 62.4,190.6 62.8,191.8 63.8,192.8 64.2,194.3 65.3,194.9 66.0,196.0 66.1,197.5 66.6,198.7 67.2,200.0Z M208.1,348.1 209.0,347.0 210.5,346.7 211.6,346.0 212.5,344.6 214.1,344.1 215.3,343.2 216.6,343.0 217.6,341.4 218.8,341.3 220.1,340.1 221.3,339.9 222.6,338.5 223.9,339.0 225.1,338.1 226.3,338.3 226.6,337.3 226.9,336.0 227.4,334.9 227.4,333.4 226.8,332.4 225.7,331.5 225.4,330.8 224.3,329.9 223.1,329.3 222.7,327.8 221.2,326.8 219.9,326.3 218.6,324.8 217.4,324.3 216.1,325.0 214.6,325.2 213.7,325.6 212.8,324.5 211.3,323.8 209.9,323.1 209.1,323.8 208.7,325.0 207.4,325.5 206.2,326.8 205.5,327.5 204.2,327.3 203.1,328.1 202.0,328.9 200.6,329.9 199.3,331.1 198.1,331.8 196.2,331.7 194.9,331.2 193.8,329.9 192.4,329.3 192.6,330.5 193.6,331.6 193.7,332.4 193.1,333.7 192.8,335.2 192.4,336.2 191.9,337.4 191.8,338.7 191.3,339.6 191.2,341.2 191.6,342.0 192.4,343.1 193.8,343.3 194.9,343.7 196.4,343.7 197.5,343.2 198.7,343.1 200.1,344.1 200.9,344.3 202.4,344.9 203.3,345.6 204.8,346.2 205.9,347.1 207.3,347.2Z M139.3,255.6 138.5,256.1 137.7,257.0 136.2,257.4 135.6,258.3 134.3,259.3 133.8,260.6 132.7,261.1 131.8,262.4 130.9,263.2 129.8,264.5 128.7,264.9 127.3,265.9 126.2,266.8 126.4,268.2 126.7,269.9 127.5,271.2 128.0,272.5 128.1,273.7 128.2,274.8 128.7,276.2 129.2,277.3 129.8,278.8 130.0,279.9 131.0,280.6 131.8,282.1 133.1,283.0 133.8,283.8 134.1,284.8 135.0,285.9 136.4,285.0 137.5,284.3 138.3,283.6 139.3,283.1 140.2,282.1 141.2,281.1 142.3,280.0 143.1,279.0 143.7,278.2 144.9,277.4 145.6,276.4 146.8,275.4 147.4,274.6 148.7,273.7 149.9,272.8 150.4,271.8 150.8,271.0 151.8,269.9 151.1,268.9 151.2,267.4 151.9,266.0 152.6,265.0 153.1,263.7 153.4,262.4 154.5,261.3 154.9,259.9 154.9,258.5 154.4,257.6 154.3,256.2 153.6,254.7 153.0,254.0 152.4,252.4 151.7,253.5 150.8,254.5 149.9,254.9 148.7,255.5 147.6,255.8 146.8,256.2 145.4,255.9 143.7,255.6 142.5,255.4 140.9,255.2Z M185.8,247.4 186.9,246.2 188.0,245.7 188.9,244.9 190.5,244.6 191.7,243.8 192.2,242.9 192.8,241.7 193.6,240.7 194.5,239.9 195.7,239.7 196.7,238.8 198.2,237.8 199.5,237.7 200.7,236.9 201.0,235.4 200.6,233.8 200.7,232.9 200.8,231.5 200.7,229.7 200.6,228.3 201.0,227.0 201.1,225.9 200.0,224.6 199.8,223.3 199.7,221.8 198.8,220.4 198.6,219.0 198.3,217.5 198.0,216.5 197.1,215.0 197.1,213.8 197.5,212.3 196.5,212.8 194.9,213.1 193.7,213.0 192.3,211.9 191.4,211.6 189.9,211.2 188.3,210.8 187.4,210.6 185.6,209.8 184.3,209.9 184.5,211.0 183.8,212.2 183.7,213.7 183.1,215.1 182.1,216.0 181.2,217.4 180.1,218.6 179.3,219.9 178.5,221.2 177.5,222.0 178.6,223.2 178.8,224.5 179.8,225.9 180.4,227.3 180.8,228.5 181.8,230.0 182.2,231.4 182.2,232.4 182.7,234.0 183.1,235.0 183.2,236.2 183.9,237.5 184.2,239.1 185.0,240.0 184.8,241.5 185.0,243.2 185.0,244.2 185.4,246.1Z M200.7,236.9 199.5,237.7 198.2,237.8 196.7,238.8 195.7,239.7 194.5,239.9 193.6,240.7 192.8,241.7 192.2,242.9 191.7,243.8 190.5,244.6 188.9,244.9 188.0,245.7 186.9,246.2 185.8,247.4 186.3,248.8 187.8,249.8 188.5,251.6 189.1,252.6 190.0,254.1 190.8,255.1 190.8,256.3 191.7,255.8 192.5,254.8 193.9,253.9 194.9,253.7 196.5,253.0 198.1,253.1 198.5,254.3 199.8,255.0 200.6,256.2 201.9,256.8 203.8,257.5 204.9,258.1 206.0,258.7 207.5,259.1 208.8,258.7 209.9,259.3 211.2,259.6 212.4,259.5 213.7,259.9 214.7,260.4 216.2,261.2 216.7,262.0 217.4,262.4 218.1,261.0 218.4,259.7 218.7,258.1 219.3,256.8 219.2,255.5 219.9,254.7 220.4,253.2 221.1,252.0 221.7,250.6 221.7,249.5 221.9,248.6 221.5,247.1 221.1,246.3 220.1,245.8 219.0,244.3 218.0,243.5 217.7,242.0 216.8,241.2 216.5,239.9 215.9,238.3 214.5,238.5 213.6,238.2 212.6,239.3 212.1,239.8 211.1,240.7 209.6,240.3 208.0,240.1 206.5,240.3 205.5,239.4 204.2,239.5 203.0,238.7 201.5,237.9Z M66.0,168.1 65.1,169.5 64.1,170.6 63.0,170.7 61.6,170.0 60.7,170.1 59.7,171.0 58.6,170.9 57.8,171.2 57.1,170.4 56.0,169.7 54.9,170.0 53.5,170.6 52.5,171.3 51.0,171.2 49.5,171.4 48.5,171.0 47.3,171.3 46.0,171.8 44.9,172.6 43.5,173.1 42.7,173.0 41.6,173.7 40.8,174.4 40.4,175.6 39.8,176.7 40.0,178.1 40.7,178.9 41.0,180.0 42.0,180.3 43.5,180.6 44.8,180.8 46.0,180.6 47.0,181.3 47.9,181.2 47.0,181.8 45.4,181.8 44.4,182.8 43.5,183.1 44.8,183.6 45.4,184.3 46.4,184.5 47.2,185.6 48.6,185.7 49.1,186.2 49.0,187.3 48.5,187.7 47.1,188.1 46.0,188.4 44.1,188.3 42.9,188.9 41.8,189.6 40.4,189.9 41.4,190.1 42.8,190.3 43.5,190.9 44.6,191.4 46.0,191.8 47.0,192.3 47.9,193.7 47.1,194.7 46.6,196.2 46.5,197.5 47.2,198.4 48.3,198.1 49.1,198.1 50.1,196.9 51.0,196.2 52.1,195.8 52.9,194.7 53.6,195.4 54.7,195.9 55.8,196.2 56.6,196.8 57.9,197.9 59.1,198.1 60.3,198.7 61.6,198.7 62.9,199.4 64.1,199.3 64.9,200.7 66.0,200.9 66.9,201.6 67.2,200.0 66.6,198.7 66.1,197.5 66.0,196.0 65.3,194.9 64.2,194.3 63.8,192.8 62.8,191.8 62.4,190.6 62.5,189.5 61.8,188.4 62.8,186.9 64.1,186.2 65.2,184.7 65.2,183.4 66.0,181.8 65.9,180.3 65.3,178.9 65.3,177.5 65.7,176.1 65.9,174.8 65.6,173.8 66.0,172.5 65.9,171.0 66.1,169.6Z M98.0,174.7 97.2,175.0 96.5,175.7 95.3,175.6 94.4,175.2 93.4,175.0 92.5,174.9 91.5,175.6 90.4,175.3 89.7,174.7 88.6,175.6 87.8,175.6 86.8,176.3 85.9,176.8 85.1,177.5 84.1,178.1 82.8,177.2 82.5,176.5 81.6,175.6 81.3,174.1 80.3,173.1 79.3,172.1 79.1,170.6 78.0,169.6 77.8,168.1 77.2,167.3 75.9,167.2 74.5,167.0 73.5,166.9 72.4,167.0 71.0,167.5 70.0,166.9 68.5,167.2 66.8,167.4 66.0,168.1 66.1,169.6 65.9,171.0 66.0,172.5 65.6,173.8 65.9,174.8 65.7,176.1 65.3,177.5 65.3,178.9 65.9,180.3 66.0,181.8 65.2,183.4 65.2,184.7 64.1,186.2 62.8,186.9 61.8,188.4 63.1,188.5 64.5,188.2 65.8,188.4 67.2,188.7 68.6,188.1 69.9,188.1 70.9,187.8 72.2,187.7 73.5,188.4 74.9,188.5 75.8,189.0 77.2,189.3 78.5,189.5 79.5,190.6 80.9,190.6 82.2,191.2 83.5,190.5 84.7,190.3 85.9,189.9 87.0,189.9 88.2,190.6 89.7,190.6 90.9,191.3 91.5,191.8 92.4,191.1 92.8,189.5 93.7,188.4 94.7,187.4 95.7,186.4 96.2,185.1 97.2,183.7 97.6,182.5 98.3,181.0 98.4,179.3 97.9,177.7 98.0,176.4Z M258.0,203.1 258.7,201.8 259.9,201.2 260.8,200.4 261.7,199.9 262.4,198.7 263.8,197.9 264.9,197.4 266.1,197.7 267.4,198.7 268.2,199.5 269.2,199.7 270.5,199.9 271.9,199.5 273.6,199.7 274.7,199.8 275.5,200.2 276.8,200.6 277.7,201.2 279.2,201.6 279.9,202.4 280.3,202.7 281.3,201.7 282.3,201.1 283.0,200.0 283.0,198.5 283.5,197.5 284.1,196.0 284.3,195.0 285.2,193.6 285.0,192.1 285.5,191.0 286.2,190.0 286.9,189.3 287.5,188.2 287.9,186.6 288.7,185.6 287.4,184.9 287.5,183.5 286.9,182.5 286.4,181.1 286.2,179.9 284.6,180.6 283.0,180.4 281.7,180.9 280.2,181.3 278.7,181.2 277.2,181.3 275.6,181.4 273.9,182.3 272.4,182.4 271.4,183.1 270.1,182.7 268.8,183.8 267.7,184.2 266.2,184.3 265.3,183.8 263.7,183.6 262.4,184.2 261.2,183.7 260.1,182.7 259.5,182.1 259.1,180.6 258.1,179.9 256.8,180.9 256.2,182.4 255.0,183.1 253.3,182.8 251.8,183.7 252.2,185.2 253.0,186.2 253.7,187.4 253.9,188.5 254.6,190.1 255.0,191.3 255.6,192.5 255.5,193.8 256.4,195.0 256.2,196.2 256.5,197.7 256.8,198.7 257.3,200.4 258.1,201.2 257.9,202.0Z M197.5,212.3 197.1,213.8 197.1,215.0 198.0,216.5 198.3,217.5 198.6,219.0 198.8,220.4 199.7,221.8 199.8,223.3 200.0,224.6 201.1,225.9 201.0,227.0 200.6,228.3 200.7,229.7 200.8,231.5 200.7,232.9 200.6,233.8 201.0,235.4 200.7,236.9 201.5,237.9 203.0,238.7 204.2,239.5 205.5,239.4 206.5,240.3 208.0,240.1 209.6,240.3 211.1,240.7 212.1,239.8 212.6,239.3 213.6,238.2 214.5,238.5 215.9,238.3 216.8,237.1 217.5,236.3 219.0,235.5 220.3,234.5 221.2,234.1 221.7,232.6 222.9,232.0 223.2,230.5 223.2,229.0 223.5,227.7 223.7,225.9 223.5,224.8 223.2,223.4 223.7,222.4 223.2,221.4 222.9,220.0 223.0,218.7 221.6,217.9 220.2,217.5 219.0,217.4 217.4,216.8 216.1,215.9 215.1,214.8 213.7,214.3 212.2,213.6 211.1,213.2 209.9,212.4 208.5,212.5 207.7,213.1 206.2,213.7 205.2,212.8 203.7,212.9 202.4,211.8 201.3,211.7 199.9,212.4 198.6,212.2Z M110.6,254.0 109.1,254.3 108.5,255.1 108.5,256.5 108.1,258.1 109.2,259.0 109.9,259.5 110.5,260.7 111.4,262.0 112.5,262.7 111.9,263.7 112.2,265.2 111.7,266.1 110.5,266.9 109.9,267.5 109.5,268.7 109.6,269.0 110.8,269.9 111.5,271.4 112.4,272.4 113.5,273.5 114.3,274.3 115.3,275.3 116.3,277.0 117.0,278.0 117.5,279.0 117.9,280.2 119.0,281.0 120.4,281.8 121.0,282.6 122.4,283.0 123.7,283.7 124.9,284.3 126.5,285.5 127.5,286.2 128.4,286.9 129.8,286.6 131.2,287.5 132.1,287.0 133.5,286.6 135.0,285.9 134.1,284.8 133.8,283.8 133.1,283.0 131.8,282.1 131.0,280.6 130.0,279.9 129.8,278.8 129.2,277.3 128.7,276.2 128.2,274.8 128.1,273.7 128.0,272.5 127.5,271.2 126.7,269.9 126.4,268.2 126.2,266.8 127.3,265.9 128.7,264.9 129.8,264.5 130.9,263.2 131.8,262.4 132.7,261.1 133.8,260.6 134.3,259.3 132.9,258.7 131.8,257.4 131.0,257.1 129.9,255.8 128.7,255.6 127.4,255.2 126.2,254.4 125.0,253.7 124.0,253.0 122.8,252.7 121.9,251.8 121.2,250.4 120.5,249.4 118.9,249.9 117.7,250.0 116.4,250.2 115.1,250.1 114.9,251.1 113.7,252.1 112.6,253.0 112.1,254.1Z M289.5,309.1 289.3,307.9 288.7,306.4 288.2,305.1 286.5,305.3 285.3,304.3 283.9,304.7 282.4,304.4 281.1,305.0 279.8,305.5 278.7,305.6 277.5,305.6 276.1,305.9 274.9,306.2 273.8,306.9 272.6,306.9 271.2,307.5 270.2,308.6 268.4,309.2 267.4,310.0 266.4,311.3 265.6,312.0 264.9,313.7 263.6,314.2 262.5,313.7 261.2,314.4 260.4,313.6 259.3,312.5 257.9,312.6 256.6,311.9 257.1,312.9 258.1,314.2 258.6,314.7 259.1,316.1 257.6,316.5 257.3,317.9 257.2,318.9 257.9,320.3 257.3,321.5 257.4,323.1 257.7,324.4 258.7,325.4 259.3,326.8 260.0,328.1 261.6,328.5 262.4,330.0 262.1,330.7 262.4,331.8 263.7,331.1 264.9,330.5 266.2,330.0 267.5,329.7 268.7,329.0 269.9,328.7 271.3,328.3 272.3,328.6 273.9,328.1 274.9,327.5 276.1,327.3 277.7,326.8 278.9,327.2 279.9,326.8 281.2,327.5 282.3,327.7 283.7,328.1 284.5,327.2 284.9,325.6 285.6,324.6 286.7,324.0 287.4,323.1 286.6,321.9 285.6,321.1 284.9,320.0 284.6,318.4 284.1,316.8 283.7,315.6 284.2,314.6 285.2,313.6 285.5,312.5 286.6,311.7 287.8,310.9 288.6,309.7Z M90.8,221.0 91.3,222.1 92.2,223.2 93.3,224.2 92.3,224.9 92.3,226.3 91.3,227.0 91.8,228.4 92.7,229.4 94.1,230.1 94.5,231.4 94.6,232.7 95.4,234.0 96.1,235.1 97.3,236.2 97.5,237.3 98.5,238.1 99.2,239.7 99.7,240.6 100.7,241.7 101.1,242.8 101.8,244.5 102.5,245.4 103.3,246.8 104.4,247.0 105.3,248.2 106.3,249.0 107.4,248.7 108.5,249.7 109.5,249.4 111.1,250.6 112.3,250.3 113.3,250.7 112.6,251.4 112.3,252.3 111.7,253.5 110.6,254.0 112.1,254.1 112.6,253.0 113.7,252.1 114.9,251.1 115.1,250.1 116.4,250.2 117.7,250.0 118.9,249.9 120.5,249.4 121.6,249.0 123.1,249.1 123.6,247.3 123.5,245.8 123.5,244.4 124.1,243.0 123.7,241.7 123.4,240.6 123.0,239.3 122.5,237.7 122.4,236.5 122.1,235.0 121.4,233.8 120.8,232.2 119.9,231.5 119.1,230.0 118.5,228.6 117.6,227.5 116.7,226.5 115.6,225.4 114.8,224.6 113.6,223.5 112.7,222.9 111.8,221.8 111.3,223.2 109.7,224.4 109.2,225.5 108.0,226.2 107.1,227.2 105.9,228.3 104.4,229.4 103.5,230.3 102.4,230.1 101.3,229.5 100.0,229.0 99.0,227.9 98.2,227.2 97.0,226.3 95.6,225.6 94.6,224.6 94.1,224.1 93.1,222.9 92.0,221.5Z M107.3,177.8 106.5,177.5 105.0,177.0 104.0,177.2 102.7,176.6 101.5,176.8 100.9,175.6 99.9,175.2 99.0,174.3 98.0,174.7 98.0,176.4 97.9,177.7 98.4,179.3 98.3,181.0 97.6,182.5 97.2,183.7 96.2,185.1 95.7,186.4 94.7,187.4 93.7,188.4 92.8,189.5 92.4,191.1 91.5,191.8 92.1,193.2 92.4,194.7 93.4,196.2 94.1,197.6 94.0,198.5 93.9,199.8 94.7,201.2 95.1,202.3 95.1,204.0 95.2,205.4 94.9,206.9 94.9,207.8 95.2,209.4 96.7,208.5 97.8,208.2 99.6,207.6 101.1,207.2 102.7,206.8 103.7,205.8 104.4,205.0 105.8,205.2 107.1,204.2 108.1,203.2 109.2,202.8 110.4,201.5 111.5,200.7 112.1,200.2 113.3,199.2 113.9,198.3 114.7,197.2 115.9,196.5 116.7,195.1 116.9,193.9 117.1,192.6 117.0,190.9 116.7,189.5 117.1,188.1 116.6,186.6 117.0,185.0 116.6,184.2 116.7,182.4 116.1,181.1 114.8,180.6 113.5,180.6 112.2,180.2 110.5,180.0 109.3,179.2 108.1,179.1 107.3,178.1Z M239.4,314.3 240.5,314.7 241.4,314.5 242.6,314.3 244.3,313.4 245.4,313.4 247.0,313.2 248.2,313.2 249.5,313.9 250.9,314.5 252.0,315.7 252.9,316.2 254.0,317.0 255.1,317.0 256.6,316.9 257.6,316.5 259.1,316.1 258.6,314.7 258.1,314.2 257.1,312.9 256.6,311.9 256.1,311.1 256.0,309.9 256.3,308.7 256.8,307.5 257.1,306.1 258.1,305.3 258.8,304.0 260.0,303.2 261.1,302.1 262.1,301.6 260.7,300.5 259.7,299.4 258.7,298.5 258.1,297.4 257.3,296.3 257.2,294.6 256.2,293.7 255.5,292.3 256.0,291.3 255.6,289.9 255.1,288.8 253.7,288.1 252.4,288.1 251.1,287.9 250.0,287.4 249.2,286.3 249.3,285.1 248.7,283.7 248.0,282.3 246.8,281.2 245.3,280.6 243.7,280.6 242.5,280.7 241.2,281.2 240.7,280.4 239.8,280.0 239.5,281.6 240.1,282.8 240.0,284.7 240.1,286.0 240.2,287.4 240.4,289.1 240.0,290.6 239.3,291.8 239.3,293.7 239.0,295.0 238.3,296.9 238.3,298.6 238.1,299.9 237.6,301.3 238.2,302.8 237.6,304.7 237.5,306.1 237.2,307.8 236.8,309.1 237.0,310.2 236.9,311.5 236.9,311.6 237.3,310.5 237.4,310.4 237.3,311.1 237.7,312.8 238.2,313.9Z M208.5,186.2 207.0,186.6 205.6,186.9 204.2,187.2 202.7,187.7 201.2,188.7 200.6,189.8 200.6,191.3 200.7,192.9 201.2,194.6 201.1,196.1 201.1,197.6 200.3,199.2 200.0,200.7 199.1,202.2 199.1,203.7 198.3,205.2 198.8,206.6 198.1,208.2 198.1,209.3 197.4,210.6 197.5,212.3 198.6,212.2 199.9,212.4 201.3,211.7 202.4,211.8 203.7,212.9 205.2,212.8 206.2,213.7 207.7,213.1 208.5,212.5 209.9,212.4 211.1,213.2 212.2,213.6 213.7,214.3 215.1,214.8 216.1,215.9 217.4,216.8 219.0,217.4 220.2,217.5 221.6,217.9 223.0,218.7 223.3,217.4 224.3,216.2 225.1,214.9 225.7,214.0 226.2,212.4 226.7,211.3 227.1,210.0 227.0,208.4 227.4,207.4 227.3,206.3 227.0,205.1 226.8,203.7 226.1,202.6 225.9,201.3 225.0,200.6 223.5,200.4 222.3,200.5 220.6,200.6 219.4,199.8 218.7,198.7 217.9,198.0 217.1,196.6 216.9,195.6 215.8,194.6 215.5,193.8 214.4,193.1 213.6,191.5 212.6,190.7 211.9,189.3 210.9,188.4 210.4,187.8 209.4,186.8Z M137.8,224.6 138.2,223.6 139.2,223.0 139.1,221.6 139.8,220.1 140.1,219.1 140.0,217.6 141.3,216.2 141.2,215.0 141.7,213.5 142.7,212.3 142.7,211.2 141.8,210.3 140.4,209.8 138.8,209.0 137.4,208.7 136.0,208.3 134.9,207.2 133.7,206.8 132.5,206.5 131.6,205.0 130.1,204.1 128.7,203.7 127.7,203.7 126.1,203.8 125.0,204.3 123.9,203.6 122.5,203.3 121.3,203.0 120.0,203.1 118.8,202.6 117.7,202.4 116.2,202.4 114.9,201.6 113.9,201.8 112.8,201.0 111.5,200.7 111.6,201.9 112.8,203.2 112.7,204.4 113.5,205.4 114.3,206.4 115.0,208.1 115.7,208.9 116.3,210.5 116.8,211.3 117.3,212.8 116.2,213.8 116.0,215.1 114.8,215.9 113.5,216.6 112.4,216.8 111.1,217.7 110.0,218.1 110.4,219.7 111.5,220.2 111.8,221.8 112.7,222.9 113.6,223.5 114.8,224.6 115.6,225.4 116.7,226.5 117.6,227.5 118.5,228.6 119.1,230.0 120.3,229.3 121.7,229.2 123.1,229.0 124.6,228.1 125.7,227.6 127.2,227.6 128.4,226.9 129.7,227.0 131.1,226.0 132.5,225.4 133.9,225.1 134.9,225.4 136.5,225.2Z M190.8,256.3 191.5,257.2 191.3,259.1 192.0,260.1 191.8,261.2 192.0,262.0 191.3,263.2 190.6,264.5 189.3,266.1 188.2,267.0 189.1,267.9 190.1,269.3 190.7,270.7 190.9,272.1 190.7,273.0 189.8,274.6 190.1,275.7 190.0,276.2 191.3,277.1 192.4,277.4 193.6,278.2 194.7,278.1 196.2,278.7 197.3,278.8 198.5,279.7 199.9,279.9 201.0,280.6 202.3,280.5 203.7,281.2 204.6,280.3 206.2,279.9 207.3,279.5 208.4,280.0 210.1,279.2 211.2,279.3 212.8,279.2 213.9,279.5 214.8,279.5 216.2,279.9 217.3,279.3 218.8,279.3 219.6,278.8 221.2,278.7 221.2,277.3 221.8,276.2 221.0,274.9 220.3,274.0 219.9,273.1 219.1,271.8 217.8,271.0 217.4,269.9 216.5,268.6 216.9,267.5 216.2,266.2 216.5,264.9 216.6,263.6 217.4,262.4 216.7,262.0 216.2,261.2 214.7,260.4 213.7,259.9 212.4,259.5 211.2,259.6 209.9,259.3 208.8,258.7 207.5,259.1 206.0,258.7 204.9,258.1 203.8,257.5 201.9,256.8 200.6,256.2 199.8,255.0 198.5,254.3 198.1,253.1 196.5,253.0 194.9,253.7 193.9,253.9 192.5,254.8 191.7,255.8Z M155.2,239.0 155.7,240.4 156.6,241.4 158.0,242.5 158.0,244.0 159.2,245.0 160.5,246.2 161.1,247.5 161.6,248.4 162.2,249.1 163.4,249.4 165.5,249.0 166.6,249.4 168.1,249.1 168.7,249.0 169.7,248.9 171.3,249.1 173.0,249.1 174.1,248.5 175.3,248.4 176.8,248.4 177.9,247.8 179.0,247.5 180.0,247.1 181.2,246.8 182.9,247.5 184.2,247.7 185.8,247.4 185.4,246.1 185.0,244.2 185.0,243.2 184.8,241.5 185.0,240.0 184.2,239.1 183.9,237.5 183.2,236.2 183.1,235.0 182.7,234.0 182.2,232.4 182.2,231.4 181.8,230.0 180.8,228.5 180.4,227.3 179.8,225.9 178.8,224.5 178.6,223.2 177.5,222.0 176.1,221.4 175.0,221.3 173.7,221.2 172.3,221.3 170.9,221.7 169.5,221.9 168.7,222.5 167.4,222.9 165.8,224.0 164.9,225.0 164.2,226.2 163.4,226.6 162.4,227.5 161.4,228.4 160.9,229.4 159.9,230.0 159.7,231.3 158.5,232.5 158.1,233.7 157.2,234.6 155.9,235.7 155.4,236.7 154.4,237.7Z M123.8,357.1 124.8,356.1 125.2,356.2 125.3,355.9 126.0,354.8 126.1,353.1 127.1,352.2 127.5,351.0 128.3,350.0 129.2,349.3 130.1,348.1 130.8,347.1 131.2,345.7 131.7,344.4 132.1,343.1 131.8,341.8 132.0,340.8 131.0,339.5 131.1,338.1 130.8,336.9 129.8,335.4 129.6,334.3 129.4,334.0 128.9,334.1 127.2,334.4 126.4,334.2 124.9,334.3 123.1,334.6 121.9,334.8 120.4,334.5 118.7,334.7 117.4,334.7 115.7,334.4 113.8,334.5 112.5,335.0 110.7,334.9 109.3,334.5 107.9,334.4 106.2,334.7 104.5,334.5 103.5,334.4 101.8,333.7 100.6,334.3 98.9,333.7 97.7,335.1 96.8,336.2 96.1,337.2 94.5,337.0 93.6,338.4 92.5,338.7 92.9,340.0 94.2,340.9 95.0,341.8 96.2,342.0 97.6,342.5 98.7,342.4 99.0,343.8 99.1,345.0 100.0,346.2 99.8,347.2 99.3,348.7 100.5,349.0 101.4,349.9 102.5,349.9 104.0,350.3 105.0,351.3 106.0,351.3 107.5,351.8 108.6,352.6 109.8,352.8 111.2,353.1 112.5,352.9 113.8,353.6 115.0,353.7 115.6,355.0 116.5,355.5 117.5,356.8 118.7,357.3 119.9,358.1 121.1,357.3 123.1,357.4Z M232.5,198.7 231.1,199.0 229.9,199.3 228.7,199.9 227.5,199.8 226.2,200.4 225.0,200.6 225.9,201.3 226.1,202.6 226.8,203.7 227.0,205.1 227.3,206.3 227.4,207.4 227.0,208.4 227.1,210.0 226.7,211.3 226.2,212.4 225.7,214.0 225.1,214.9 224.3,216.2 223.3,217.4 223.0,218.7 222.9,220.0 223.2,221.4 223.7,222.4 223.2,223.4 223.5,224.8 223.7,225.9 225.4,226.1 226.8,226.3 228.5,227.2 229.8,227.6 230.9,228.0 232.0,228.8 233.3,229.2 234.7,230.2 235.9,230.7 237.6,230.4 239.1,230.6 240.4,231.3 242.0,231.1 243.6,230.6 245.2,230.4 246.6,230.8 248.1,230.4 249.5,230.0 250.5,228.7 251.6,227.4 251.8,226.2 252.5,224.7 253.5,223.8 253.7,222.4 254.4,221.3 255.5,220.8 256.2,219.9 255.6,218.8 254.6,217.1 253.7,216.2 252.9,214.8 252.1,213.5 251.2,212.5 250.6,211.0 250.8,209.5 249.4,209.8 248.7,210.5 247.7,209.5 246.8,209.3 245.7,209.2 244.4,208.8 243.7,208.1 242.4,206.8 241.8,205.6 241.5,204.4 240.8,203.8 240.6,202.4 239.5,201.4 238.8,200.1 238.1,199.3 236.9,198.8 235.6,198.1 234.2,198.0Z M158.6,305.7 159.2,305.1 160.1,304.3 161.1,303.0 162.1,302.3 163.4,301.0 164.3,300.5 165.2,299.1 165.3,297.9 166.0,296.8 166.6,295.2 166.5,293.6 166.6,292.2 167.2,291.1 166.4,290.1 166.1,288.5 165.2,287.0 164.2,286.0 163.7,284.9 163.4,283.7 163.2,282.3 162.4,281.1 162.3,280.0 163.4,278.5 163.7,277.4 162.8,276.8 161.8,275.8 160.6,275.1 159.9,274.3 158.7,273.8 157.5,272.2 156.2,271.8 154.7,271.3 153.6,270.4 151.8,269.9 150.8,271.0 150.4,271.8 149.9,272.8 148.7,273.7 147.4,274.6 146.8,275.4 145.6,276.4 144.9,277.4 143.7,278.2 143.1,279.0 142.3,280.0 141.2,281.1 140.2,282.1 139.3,283.1 138.3,283.6 137.5,284.3 136.4,285.0 135.0,285.9 135.5,287.2 135.4,288.4 135.5,290.1 135.6,291.2 136.5,292.6 137.1,293.9 138.1,295.0 138.6,295.9 139.9,297.2 140.6,298.1 140.9,299.1 141.8,299.8 142.9,300.6 143.7,301.8 145.0,302.0 146.0,301.9 147.4,301.2 148.8,301.4 150.0,301.1 150.9,301.6 152.4,301.8 153.8,302.4 154.7,303.4 155.9,304.1 157.5,305.3Z M106.1,304.3 106.0,305.3 105.8,306.2 105.6,307.5 104.9,308.9 105.7,310.0 105.0,311.2 104.9,312.7 103.9,314.1 103.5,315.5 103.4,317.0 103.1,318.7 102.8,320.4 102.3,321.8 101.8,323.1 102.3,324.6 101.8,326.2 101.7,327.2 101.6,328.9 101.2,329.8 100.7,331.3 100.0,332.5 99.4,333.1 98.9,333.7 100.6,334.3 101.8,333.7 103.5,334.4 104.5,334.5 106.2,334.7 107.9,334.4 109.3,334.5 110.7,334.9 112.5,335.0 113.8,334.5 115.7,334.4 117.4,334.7 118.7,334.7 120.4,334.5 121.9,334.8 123.1,334.6 124.9,334.3 126.4,334.2 127.2,334.4 128.9,334.1 129.4,334.0 128.8,332.9 128.1,332.1 128.5,330.4 128.3,329.4 128.7,328.2 129.0,326.4 129.1,325.2 130.3,324.5 131.6,325.0 133.3,324.9 134.5,324.3 134.6,322.9 134.1,321.1 133.7,319.9 133.5,318.5 132.6,317.5 132.4,316.2 130.9,315.4 129.9,314.1 128.7,313.7 127.4,313.0 125.8,312.6 125.0,311.8 124.3,310.6 122.7,310.0 122.1,309.0 121.2,308.1 120.1,307.7 118.6,307.2 117.6,307.6 116.2,306.8 114.7,306.3 113.5,305.7 112.8,305.2 111.2,304.9 109.7,304.9 108.8,304.2 107.4,304.1Z M109.6,269.0 109.4,270.4 110.1,271.5 110.1,272.9 109.5,274.1 109.1,275.1 108.7,276.6 109.1,278.3 108.8,279.9 108.5,281.1 108.0,282.7 108.5,283.9 107.6,285.4 107.8,286.9 107.7,288.5 107.3,289.6 107.7,291.1 107.9,292.4 107.9,294.1 107.0,295.6 107.1,297.1 107.2,298.4 106.6,300.2 106.7,301.7 106.8,302.7 106.1,304.3 107.4,304.1 108.8,304.2 109.7,304.9 111.2,304.9 112.8,305.2 113.5,305.7 114.7,306.3 116.2,306.8 117.6,307.6 118.6,307.2 120.1,307.7 121.2,308.1 122.1,309.0 122.7,310.0 124.3,310.6 125.0,311.8 125.8,312.6 127.4,313.0 128.7,313.7 129.9,314.1 130.9,315.4 132.4,316.2 132.1,315.1 131.4,314.1 131.2,313.1 131.6,311.9 132.4,310.4 132.4,308.7 133.4,308.1 133.7,306.5 135.2,305.9 135.6,304.9 136.7,304.0 137.0,303.4 137.6,302.1 138.7,301.2 139.4,300.3 140.3,299.2 140.6,298.1 139.9,297.2 138.6,295.9 138.1,295.0 137.1,293.9 136.5,292.6 135.6,291.2 135.5,290.1 135.4,288.4 135.5,287.2 135.0,285.9 133.5,286.6 132.1,287.0 131.2,287.5 129.8,286.6 128.4,286.9 127.5,286.2 126.5,285.5 124.9,284.3 123.7,283.7 122.4,283.0 121.0,282.6 120.4,281.8 119.0,281.0 117.9,280.2 117.5,279.0 117.0,278.0 116.3,277.0 115.3,275.3 114.3,274.3 113.5,273.5 112.4,272.4 111.5,271.4 110.8,269.9Z"/>
<path fill="#92c0d8" d="M285.6,208.3 285.5,208.1 284.7,207.1 283.4,206.1 283.0,204.9 282.2,204.2 281.5,203.3 280.3,202.7 280.5,203.9 280.1,205.5 279.9,206.8 280.3,207.9 280.9,208.7 281.2,210.0 282.5,210.3 283.7,211.5 285.2,210.9 286.2,210.0 285.7,208.7Z M238.5,254.8 237.9,253.4 236.7,252.2 235.2,251.8 233.8,252.0 233.0,252.7 231.6,252.5 230.6,253.0 230.2,253.3 230.1,254.7 229.9,256.1 229.6,257.5 229.3,258.7 229.6,259.9 229.4,261.4 229.6,262.7 229.9,263.7 230.2,264.7 230.8,266.1 231.6,267.4 231.8,268.7 232.2,269.8 233.7,270.4 234.1,271.2 234.9,272.4 235.7,272.9 236.8,274.1 238.0,274.3 238.9,274.8 239.5,275.5 240.4,274.6 240.9,273.4 241.2,272.4 242.1,271.5 243.4,271.4 244.4,270.9 245.6,270.0 246.0,268.6 246.7,268.1 247.5,266.8 246.0,266.2 245.1,266.3 243.7,266.2 242.5,265.7 241.2,264.1 240.0,263.7 239.7,262.3 238.2,261.2 238.1,260.0 238.3,258.9 238.7,257.6 238.6,256.2Z M154.8,310.2 154.0,311.3 154.3,312.7 153.4,313.8 153.2,315.1 152.4,315.8 151.4,316.9 150.3,317.9 149.7,318.6 150.1,320.2 151.1,321.4 151.3,322.6 151.8,324.4 152.3,325.7 153.2,326.7 153.6,328.1 155.0,328.7 156.2,328.1 157.6,328.0 158.5,327.7 160.0,327.4 161.5,327.1 162.8,325.8 164.4,325.6 166.0,324.7 167.5,324.6 168.7,323.7 169.6,322.8 170.7,321.4 171.2,320.0 172.5,319.6 173.9,319.1 175.0,318.1 176.1,317.2 176.8,316.2 175.9,314.7 175.0,313.7 175.5,313.1 176.2,312.5 175.7,311.3 174.9,311.2 173.4,311.5 172.5,312.7 171.1,313.1 169.8,313.2 168.8,313.5 167.7,314.1 166.2,314.3 165.2,313.6 163.9,314.0 162.5,313.3 161.2,313.1 160.1,312.2 158.8,311.7 157.3,310.9 156.1,310.6Z M293.7,214.1 295.2,213.2 296.0,211.8 296.1,210.9 297.0,209.5 297.2,208.2 296.9,206.7 296.2,205.0 296.0,204.0 296.2,202.2 296.1,200.6 297.2,199.5 297.2,197.6 297.7,196.8 298.0,195.2 297.7,193.5 298.2,192.1 298.3,190.8 297.0,190.4 296.0,189.7 294.5,189.5 293.0,188.7 292.2,187.6 291.1,187.3 289.8,186.6 288.7,185.6 287.9,186.6 287.5,188.2 286.9,189.3 286.2,190.0 285.5,191.0 285.0,192.1 285.2,193.6 284.3,195.0 284.1,196.0 283.5,197.5 283.0,198.5 283.0,200.0 282.3,201.1 281.3,201.7 280.3,202.7 281.5,203.3 282.2,204.2 283.0,204.9 283.4,206.1 284.7,207.1 285.5,208.1 285.6,208.3 286.4,209.4 286.8,210.5 287.8,211.8 288.6,212.4 289.9,212.9 290.9,214.2 291.2,214.2 292.2,213.9Z M292.2,337.9 293.2,337.1 293.6,336.0 294.6,334.9 295.8,334.2 296.2,333.1 297.4,332.2 298.1,331.1 299.3,329.9 300.4,328.9 301.2,328.2 302.3,326.9 302.9,326.0 303.7,324.7 304.2,323.2 304.3,321.8 305.1,320.3 305.6,318.9 306.2,317.1 304.9,316.2 303.3,316.0 302.2,315.1 300.8,314.9 299.5,315.3 298.2,314.8 296.9,313.9 295.2,314.1 294.1,313.2 292.5,313.0 291.2,312.2 290.2,311.1 289.7,310.1 289.5,309.1 288.6,309.7 287.8,310.9 286.6,311.7 285.5,312.5 285.2,313.6 284.2,314.6 283.7,315.6 284.1,316.8 284.6,318.4 284.9,320.0 285.6,321.1 286.6,321.9 287.4,323.1 286.7,324.0 285.6,324.6 284.9,325.6 284.5,327.2 283.7,328.1 284.8,328.9 285.0,330.3 286.2,331.2 287.5,332.2 288.2,333.2 289.4,334.6 290.2,336.0 291.3,336.5Z M135.7,182.2 134.6,181.1 134.1,180.5 133.0,181.1 131.5,181.4 129.8,181.6 128.3,182.0 127.1,181.7 125.6,181.8 124.1,182.2 122.8,182.7 121.7,182.8 121.1,183.1 120.1,182.7 118.7,182.3 117.4,182.1 116.1,181.1 116.7,182.4 116.6,184.2 117.0,185.0 116.6,186.6 117.1,188.1 116.7,189.5 117.0,190.9 117.1,192.6 116.9,193.9 116.7,195.1 115.9,196.5 114.7,197.2 113.9,198.3 113.3,199.2 112.1,200.2 111.5,200.7 112.8,201.0 113.9,201.8 114.9,201.6 116.2,202.4 117.7,202.4 118.8,202.6 120.0,203.1 121.3,203.0 122.5,203.3 123.9,203.6 125.0,204.3 126.1,203.8 127.7,203.7 128.7,203.7 129.1,202.7 129.3,201.2 130.3,200.1 130.8,199.1 131.2,197.4 132.0,195.8 132.7,194.9 133.1,193.1 133.5,191.3 134.3,190.3 134.9,188.7 135.3,187.5 135.8,186.0 136.8,184.9 136.4,183.7 136.3,183.3 136.0,183.1Z M182.3,300.3 182.0,299.4 182.0,298.4 181.7,296.7 181.4,295.7 181.4,294.5 181.1,293.2 180.7,292.0 179.7,292.2 178.2,292.8 177.0,293.2 175.4,293.4 173.9,293.9 173.5,292.8 172.9,291.2 173.0,290.1 171.7,290.1 170.0,290.5 168.8,290.5 167.2,291.1 166.6,292.2 166.5,293.6 166.6,295.2 166.0,296.8 165.3,297.9 165.2,299.1 164.3,300.5 163.4,301.0 162.1,302.3 161.1,303.0 160.1,304.3 159.2,305.1 158.6,305.7 157.5,306.4 156.7,307.4 156.0,308.1 155.2,309.1 154.8,310.2 156.1,310.6 157.3,310.9 158.8,311.7 160.1,312.2 161.2,313.1 162.5,313.3 163.9,314.0 165.2,313.6 166.2,314.3 167.7,314.1 168.8,313.5 169.8,313.2 171.1,313.1 172.5,312.7 173.4,311.5 174.9,311.2 175.7,311.3 175.7,311.1 175.6,309.4 175.8,308.4 176.2,306.9 176.8,306.2 178.1,305.7 179.0,305.0 180.0,303.7 180.7,302.4 181.5,301.5Z M298.3,190.8 298.5,189.2 298.7,188.2 299.0,186.9 299.5,185.7 299.2,184.1 299.2,182.7 299.7,181.3 300.6,180.1 301.0,178.5 301.2,177.1 302.0,175.9 302.7,174.8 303.3,173.5 304.7,172.4 305.2,171.1 306.0,170.1 306.2,168.6 306.0,166.6 306.8,165.7 305.1,165.5 304.1,164.7 302.4,164.6 301.2,164.1 299.8,164.2 298.8,163.2 297.1,162.6 295.6,162.4 294.6,162.2 293.2,161.7 293.9,162.4 294.6,163.7 293.8,165.0 293.0,166.2 291.8,165.9 290.3,166.3 289.3,165.9 288.1,164.7 286.8,164.5 285.5,163.4 284.4,164.5 283.0,164.9 282.4,166.2 282.4,167.7 283.7,168.3 284.6,169.2 285.5,170.2 286.7,170.5 287.8,171.0 288.4,171.8 288.4,172.9 288.5,174.6 288.7,175.5 287.7,176.4 287.7,177.5 287.1,178.9 286.2,179.9 286.4,181.1 286.9,182.5 287.5,183.5 287.4,184.9 288.7,185.6 289.8,186.6 291.1,187.3 292.2,187.6 293.0,188.7 294.5,189.5 296.0,189.7 297.0,190.4Z M248.1,147.1 246.9,146.8 245.6,146.4 244.6,145.2 243.3,144.8 242.1,144.1 241.0,143.6 240.6,142.0 239.0,140.9 238.1,140.1 238.0,138.3 238.3,137.3 238.4,135.3 238.3,134.1 238.0,132.8 237.1,131.7 235.6,132.4 234.7,133.1 233.8,134.3 233.2,135.8 233.1,137.1 231.8,137.4 230.3,137.0 228.8,137.4 227.2,137.6 225.9,138.4 224.6,138.1 224.7,139.7 224.7,140.6 224.6,142.4 225.1,143.5 225.2,145.1 224.3,146.2 223.7,147.7 223.8,149.3 222.4,150.6 222.2,152.1 221.1,153.1 222.5,153.2 223.7,154.4 225.2,154.4 226.2,154.8 227.1,155.9 228.3,156.7 229.9,157.3 231.3,157.7 232.7,158.0 233.4,158.8 234.9,159.2 236.2,158.9 237.5,159.1 239.3,159.0 240.6,158.7 240.7,157.6 241.4,156.2 242.1,154.9 242.5,153.7 242.9,152.0 243.6,150.9 243.7,149.3 244.7,148.6 245.6,148.1 247.3,147.8Z M207.0,294.4 205.7,295.1 204.6,295.9 203.2,296.3 203.0,297.7 202.2,298.2 202.0,299.4 201.3,300.6 201.5,301.4 200.7,302.5 201.4,303.1 201.8,304.4 202.5,305.6 202.3,307.7 203.1,308.7 203.6,309.8 203.6,311.4 204.6,312.3 204.9,313.7 205.7,314.7 206.4,316.2 206.8,317.5 208.0,318.9 208.7,320.0 210.2,319.9 211.3,319.5 212.4,318.7 213.5,318.5 215.1,318.2 216.2,318.1 217.2,318.3 218.7,317.7 219.9,317.5 220.9,316.4 221.2,315.0 222.0,313.6 222.6,312.6 222.8,311.1 223.8,310.1 223.1,309.3 223.3,307.8 222.5,306.9 221.8,306.0 221.3,304.4 220.6,303.2 220.7,302.5 220.1,301.3 219.8,300.7 219.8,299.7 218.8,298.8 217.8,298.0 216.3,296.9 214.9,297.0 213.8,297.6 212.3,297.9 211.3,297.6 210.8,296.5 210.1,295.1 209.1,294.1 208.2,293.8Z M175.3,248.4 174.1,248.5 173.0,249.1 171.3,249.1 169.7,248.9 168.7,249.0 168.0,249.3 167.5,250.7 166.4,251.3 166.2,252.4 167.4,253.3 167.9,254.3 168.7,255.6 168.7,257.1 169.3,257.9 169.9,259.3 170.7,260.4 172.0,261.9 172.4,263.1 173.5,263.9 174.6,264.7 175.5,266.2 176.2,267.5 177.1,267.7 178.0,268.7 179.2,268.8 180.8,269.1 181.7,268.9 183.0,268.9 184.5,269.4 186.1,269.6 187.4,269.6 187.7,268.5 188.2,267.0 189.3,266.1 190.6,264.5 191.3,263.2 192.0,262.0 191.8,261.2 192.0,260.1 191.3,259.1 191.5,257.2 190.8,256.3 190.8,255.1 190.0,254.1 189.1,252.6 188.5,251.6 187.8,249.8 186.3,248.8 185.8,247.4 184.2,247.7 182.9,247.5 181.2,246.8 180.0,247.1 179.0,247.5 177.9,247.8 176.8,248.4Z M207.0,294.4 208.2,293.8 209.1,294.1 210.1,295.1 210.8,296.5 211.3,297.6 212.3,297.9 213.8,297.6 214.9,297.0 216.3,296.9 217.8,298.0 218.8,298.8 219.8,299.7 219.8,300.7 220.8,299.3 222.0,298.4 223.4,298.0 224.4,297.2 225.6,295.6 226.8,294.9 227.9,293.5 228.5,292.6 229.3,291.1 229.8,289.8 230.1,288.8 231.1,287.4 231.7,286.3 232.4,285.1 233.0,283.7 232.1,282.5 231.1,281.5 229.9,280.5 228.7,280.6 227.4,280.4 226.2,279.9 225.0,280.1 223.8,279.1 222.6,279.1 221.2,278.7 219.6,278.8 218.8,279.3 217.3,279.3 216.2,279.9 214.8,279.5 213.9,279.5 212.8,279.2 211.2,279.3 210.1,279.2 208.4,280.0 207.3,279.5 206.2,279.9 204.6,280.3 203.7,281.2 204.9,282.2 205.1,283.5 206.2,284.9 206.4,286.4 207.1,287.7 207.4,288.7 208.0,289.7 208.1,291.0 208.7,292.4 207.9,293.5Z M154.8,310.2 155.2,309.1 156.0,308.1 156.7,307.4 157.5,306.4 158.6,305.7 157.5,305.3 155.9,304.1 154.7,303.4 153.8,302.4 152.4,301.8 150.9,301.6 150.0,301.1 148.8,301.4 147.4,301.2 146.0,301.9 145.0,302.0 143.7,301.8 142.9,300.6 141.8,299.8 140.9,299.1 140.6,298.1 140.3,299.2 139.4,300.3 138.7,301.2 137.6,302.1 137.0,303.4 136.7,304.0 135.6,304.9 135.2,305.9 133.7,306.5 133.4,308.1 132.4,308.7 132.4,310.4 131.6,311.9 131.2,313.1 131.4,314.1 132.1,315.1 132.4,316.2 132.6,317.5 133.5,318.5 133.7,319.9 134.1,321.1 134.6,322.9 134.5,324.3 135.2,324.2 136.7,323.9 137.7,323.1 139.2,322.8 140.2,322.2 141.5,321.3 143.2,321.1 144.6,320.6 146.4,320.0 147.5,319.3 149.2,319.1 149.7,318.6 150.3,317.9 151.4,316.9 152.4,315.8 153.2,315.1 153.4,313.8 154.3,312.7 154.0,311.3Z M137.8,224.6 136.5,225.2 134.9,225.4 133.9,225.1 132.5,225.4 131.1,226.0 129.7,227.0 128.4,226.9 127.2,227.6 125.7,227.6 124.6,228.1 123.1,229.0 121.7,229.2 120.3,229.3 119.1,230.0 119.9,231.5 120.8,232.2 121.4,233.8 122.1,235.0 122.4,236.5 122.5,237.7 123.0,239.3 123.4,240.6 123.7,241.7 124.1,243.0 123.5,244.4 123.5,245.8 123.6,247.3 123.1,249.1 121.6,249.0 120.5,249.4 121.2,250.4 121.9,251.8 122.8,252.7 124.0,253.0 125.0,253.7 126.2,254.4 127.4,255.2 128.7,255.6 129.9,255.8 131.0,257.1 131.8,257.4 132.9,258.7 134.3,259.3 135.6,258.3 136.2,257.4 137.7,257.0 138.5,256.1 139.3,255.6 138.7,254.2 139.1,252.7 138.5,251.1 138.1,249.9 137.4,249.0 136.7,247.3 137.0,246.1 136.2,245.0 135.9,243.7 135.7,242.7 135.5,241.1 135.6,240.0 135.5,238.9 136.6,237.6 136.1,236.3 136.8,235.0 137.0,233.6 136.6,232.7 136.2,231.3 136.2,230.0 136.9,228.8 137.3,227.3 137.4,226.0Z M268.8,242.7 269.1,242.0 269.9,240.7 271.2,240.1 271.3,238.9 272.3,238.2 273.1,237.0 273.8,235.6 274.4,234.1 275.0,232.4 275.1,231.0 276.0,230.1 276.8,228.8 277.2,227.3 278.7,226.4 279.1,225.0 280.2,223.8 281.3,222.8 281.8,221.9 282.3,220.7 283.6,219.8 284.2,218.6 284.9,217.1 285.9,215.8 287.2,215.0 288.4,214.2 290.0,214.2 290.9,214.2 289.9,212.9 288.6,212.4 287.8,211.8 286.8,210.5 286.4,209.4 285.6,208.3 285.7,208.7 286.2,210.0 285.2,210.9 283.7,211.5 282.5,210.3 281.2,210.0 279.7,210.4 278.6,210.6 277.4,210.6 276.2,211.5 275.3,212.0 273.8,212.1 272.4,213.1 271.2,213.6 269.8,214.3 268.3,215.3 267.4,216.2 265.9,216.4 264.7,216.8 263.6,217.5 262.4,218.1 261.3,218.7 260.0,219.3 259.3,220.1 257.7,220.6 257.1,220.0 256.2,219.9 256.7,221.2 258.5,222.4 259.2,223.5 259.9,224.9 260.9,226.2 261.8,226.6 263.0,227.6 263.7,228.7 264.9,229.6 265.4,230.8 266.7,231.7 267.4,232.4 267.7,233.8 268.3,234.5 268.7,235.6 268.4,236.8 267.5,238.2 266.8,239.3 267.6,240.0 268.3,241.3Z M293.2,161.7 292.0,162.1 290.6,161.8 289.3,162.2 288.2,162.5 286.9,162.3 285.5,161.5 284.7,160.8 283.3,160.6 282.2,160.1 280.9,160.0 279.6,160.4 278.2,160.9 277.1,160.5 276.2,159.2 275.7,158.4 274.8,157.0 274.1,156.1 273.3,154.8 271.9,153.8 271.1,152.5 269.8,151.9 268.9,151.9 267.6,152.1 266.1,151.7 264.9,152.4 263.2,152.4 262.1,152.5 261.2,152.0 260.0,151.6 260.9,152.7 261.3,153.7 261.6,154.9 261.8,156.2 261.3,157.5 261.5,158.6 261.7,160.0 261.2,161.2 260.7,162.9 260.6,164.3 261.4,165.4 262.6,166.0 263.7,166.8 264.6,167.5 266.4,167.6 267.4,168.1 268.3,169.0 268.6,170.2 269.9,171.2 271.1,172.2 272.4,172.6 273.9,172.9 274.9,173.7 275.9,174.2 277.8,174.7 279.0,175.5 279.9,176.2 281.1,176.4 282.3,177.1 283.7,178.0 285.0,178.9 286.2,179.9 287.1,178.9 287.7,177.5 287.7,176.4 288.7,175.5 288.5,174.6 288.4,172.9 288.4,171.8 287.8,171.0 286.7,170.5 285.5,170.2 284.6,169.2 283.7,168.3 282.4,167.7 282.4,166.2 283.0,164.9 284.4,164.5 285.5,163.4 286.8,164.5 288.1,164.7 289.3,165.9 290.3,166.3 291.8,165.9 293.0,166.2 293.8,165.0 294.6,163.7 293.9,162.4Z M267.9,250.9 268.5,249.6 269.1,249.1 267.7,247.9 266.9,247.2 266.6,247.3 265.6,247.5 265.1,248.8 264.5,249.5 264.0,250.5 263.1,251.0 262.3,251.6 261.0,252.0 259.7,251.3 258.1,251.0 257.0,251.8 255.6,251.8 254.5,251.0 253.3,249.8 252.9,248.7 251.6,247.7 250.9,246.8 250.5,245.4 249.3,244.9 247.8,245.0 246.5,244.8 245.4,244.5 244.0,245.0 243.0,245.1 242.0,246.1 241.0,247.0 240.2,248.3 239.9,249.7 239.6,251.0 239.1,252.5 238.8,253.3 238.5,254.8 238.6,256.2 238.7,257.6 238.3,258.9 238.1,260.0 238.2,261.2 239.7,262.3 240.0,263.7 241.2,264.1 242.5,265.7 243.7,266.2 245.1,266.3 246.0,266.2 247.5,266.8 248.5,266.1 250.0,265.6 250.8,264.3 251.8,263.7 253.1,264.7 254.3,265.6 255.2,266.7 256.0,266.9 256.8,268.1 257.7,269.3 258.7,270.0 259.1,268.7 259.6,267.8 260.6,266.8 261.0,265.5 261.2,263.7 261.9,263.3 262.4,262.2 262.1,261.4 261.8,260.0 262.5,258.7 262.5,257.4 262.4,256.2 263.4,255.4 263.6,254.4 264.9,253.7 265.6,252.9 267.0,251.9Z M174.9,144.5 174.9,146.0 175.2,147.5 175.1,149.0 175.7,150.1 175.7,151.5 175.5,152.8 175.0,154.4 174.7,155.6 174.9,157.0 174.5,158.1 175.1,159.5 175.7,160.5 174.7,161.1 174.4,161.9 176.0,161.4 177.3,161.2 178.3,160.8 179.7,161.1 181.0,160.8 182.1,161.3 183.9,161.5 185.5,161.8 186.8,162.3 188.0,163.1 189.2,163.3 190.4,163.3 191.6,164.1 192.9,163.9 194.0,164.4 195.5,164.7 196.5,164.6 197.7,164.1 198.9,163.7 200.0,164.4 201.3,164.1 202.5,164.5 201.7,163.4 201.8,162.3 201.6,161.3 200.2,160.2 199.9,159.2 200.4,158.1 201.6,156.9 201.8,155.4 202.0,154.1 202.5,152.8 202.3,151.7 203.1,150.4 202.8,149.1 203.6,147.9 203.3,146.1 203.7,144.8 202.7,145.0 201.5,145.7 200.0,145.6 198.7,146.1 197.1,146.3 196.6,147.1 195.1,147.2 193.7,147.9 192.7,147.5 191.2,146.6 190.0,146.7 188.8,146.1 187.7,146.0 186.2,146.0 185.0,145.4 183.4,145.7 182.3,145.4 181.0,145.4 180.0,145.2 178.6,145.4 177.4,145.2 176.5,144.3Z M190.0,276.2 190.1,275.7 189.8,274.6 190.7,273.0 190.9,272.1 190.7,270.7 190.1,269.3 189.1,267.9 188.2,267.0 187.7,268.5 187.4,269.6 186.1,269.6 184.5,269.4 183.0,268.9 181.7,268.9 180.8,269.1 179.2,268.8 178.0,268.7 177.2,269.8 175.7,269.9 174.6,270.9 173.7,271.8 172.1,272.1 170.9,272.7 169.9,273.7 168.6,274.1 167.4,275.4 166.2,276.2 165.1,276.7 163.7,277.4 163.4,278.5 162.3,280.0 162.4,281.1 163.2,282.3 163.4,283.7 163.7,284.9 164.2,286.0 165.2,287.0 166.1,288.5 166.4,290.1 167.2,291.1 168.8,290.5 170.0,290.5 171.7,290.1 173.0,290.1 172.9,291.2 173.5,292.8 173.9,293.9 175.4,293.4 177.0,293.2 178.2,292.8 179.7,292.2 180.7,292.0 181.1,291.0 181.0,290.1 181.4,288.8 181.9,287.8 183.2,286.8 183.9,285.7 185.0,284.7 185.4,282.8 186.4,282.0 187.1,281.4 188.6,280.4 189.5,280.1 189.6,279.1 189.5,277.4Z M149.2,319.1 147.5,319.3 146.4,320.0 144.6,320.6 143.2,321.1 141.5,321.3 140.2,322.2 139.2,322.8 137.7,323.1 136.7,323.9 135.2,324.2 134.5,324.3 133.3,324.9 131.6,325.0 130.3,324.5 129.1,325.2 129.0,326.4 128.7,328.2 128.3,329.4 128.5,330.4 128.1,332.1 128.8,332.9 129.4,334.0 129.6,334.3 129.8,335.4 130.9,335.7 132.1,336.6 133.7,337.1 134.9,337.4 135.3,338.4 136.5,339.0 137.4,339.9 138.5,340.3 139.9,341.1 141.2,341.2 142.4,341.5 143.8,341.8 144.9,342.4 146.3,342.2 148.0,342.4 149.2,342.4 150.1,341.2 151.2,341.2 152.4,340.5 153.7,340.2 154.9,339.9 156.1,339.0 157.2,338.5 158.0,337.4 158.6,336.2 158.6,335.0 157.7,333.8 156.5,332.9 156.1,331.8 155.3,330.3 154.6,329.0 153.6,328.1 153.2,326.7 152.3,325.7 151.8,324.4 151.3,322.6 151.1,321.4 150.1,320.2 149.7,318.6Z M154.4,237.7 153.6,236.9 152.9,235.5 152.4,234.3 151.8,233.3 151.2,232.0 150.1,231.6 148.2,231.5 147.0,231.1 145.3,230.4 144.2,230.0 143.0,229.2 142.0,228.0 141.0,227.7 140.0,225.9 139.0,225.8 137.8,224.6 137.4,226.0 137.3,227.3 136.9,228.8 136.2,230.0 136.2,231.3 136.6,232.7 137.0,233.6 136.8,235.0 136.1,236.3 136.6,237.6 135.5,238.9 135.6,240.0 135.5,241.1 135.7,242.7 135.9,243.7 136.2,245.0 137.0,246.1 136.7,247.3 137.4,249.0 138.1,249.9 138.5,251.1 139.1,252.7 138.7,254.2 139.3,255.6 140.9,255.2 142.5,255.4 143.7,255.6 145.4,255.9 146.8,256.2 147.6,255.8 148.7,255.5 149.9,254.9 150.8,254.5 151.7,253.5 152.4,252.4 153.6,251.1 154.9,250.6 156.1,250.0 157.1,249.5 158.1,249.3 159.0,248.6 159.8,247.8 161.1,247.5 160.5,246.2 159.2,245.0 158.0,244.0 158.0,242.5 156.6,241.4 155.7,240.4 155.2,239.0Z M211.0,178.8 210.5,180.2 210.4,181.1 209.7,182.5 209.3,184.0 208.8,185.3 208.5,186.2 209.4,186.8 210.4,187.8 210.9,188.4 211.9,189.3 212.6,190.7 213.6,191.5 214.4,193.1 215.5,193.8 215.8,194.6 216.9,195.6 217.1,196.6 217.9,198.0 218.7,198.7 219.4,199.8 220.6,200.6 222.3,200.5 223.5,200.4 225.0,200.6 226.2,200.4 227.5,199.8 228.7,199.9 229.9,199.3 231.1,199.0 232.5,198.7 234.0,197.5 234.9,196.6 236.1,195.6 237.0,194.5 237.6,193.5 238.6,192.4 238.8,191.3 237.8,190.0 238.0,188.7 237.7,187.6 236.7,185.9 236.1,185.0 235.5,183.5 235.5,181.8 234.9,180.6 233.7,180.4 232.3,180.0 231.1,180.0 230.3,179.1 229.7,178.5 228.6,177.5 227.1,177.0 225.9,176.6 224.9,176.2 223.7,176.9 222.7,177.7 221.2,178.1 219.9,179.3 218.6,179.7 217.4,180.6 216.0,180.6 214.6,180.9 213.7,181.2 212.6,180.3 212.0,179.8Z M283.1,287.0 284.3,285.9 286.2,285.9 287.2,285.1 288.5,284.3 289.0,283.1 290.5,282.2 291.6,281.1 291.5,279.7 291.4,278.6 291.2,277.1 290.0,276.4 289.7,275.2 288.4,274.3 287.5,273.1 287.2,272.1 286.0,271.0 285.7,269.5 284.8,268.3 284.2,267.1 282.9,266.3 282.2,265.8 281.4,264.9 279.9,264.3 278.6,263.2 277.4,262.5 276.1,263.3 275.6,264.3 274.5,265.8 273.7,266.8 272.4,267.3 271.2,268.1 270.2,267.3 269.3,267.3 268.1,266.8 267.2,266.3 265.7,265.7 264.9,265.0 264.0,264.2 263.4,262.8 262.4,262.2 261.9,263.3 261.2,263.7 261.0,265.5 260.6,266.8 259.6,267.8 259.1,268.7 258.7,270.0 259.0,271.1 259.6,272.6 260.6,273.7 260.9,274.9 261.5,276.1 262.4,276.8 264.0,276.1 264.9,275.6 266.5,276.0 267.4,276.2 268.2,277.3 269.3,278.1 269.6,279.2 269.5,281.3 269.9,282.4 270.3,283.6 271.2,284.8 271.7,286.3 272.8,287.5 273.1,289.1 274.7,289.0 276.0,288.0 277.1,288.1 278.3,287.8 279.5,288.1 280.8,288.0 282.2,287.5Z M143.5,361.5 144.9,361.2 146.0,361.7 147.4,361.8 147.8,360.4 148.0,359.3 149.1,358.4 149.9,357.4 150.6,357.7 151.2,356.8 151.6,355.2 152.1,354.4 153.2,353.1 153.4,351.6 154.4,350.9 155.0,349.3 156.6,348.8 157.4,347.8 158.7,347.4 159.9,346.7 161.2,345.8 162.5,344.9 163.7,345.1 165.1,346.2 166.2,346.2 167.6,346.6 168.9,346.6 170.6,346.8 171.8,347.4 171.8,345.7 172.5,344.3 173.3,342.8 174.3,341.8 175.1,341.1 176.4,340.7 177.5,340.6 178.8,340.5 180.1,339.8 181.8,339.9 180.9,339.2 179.3,339.1 178.1,338.7 176.7,338.4 176.2,337.2 175.0,336.8 174.4,335.9 173.3,335.0 172.5,333.7 171.7,332.4 170.8,331.1 170.6,329.9 170.0,328.8 169.5,327.6 168.7,326.8 168.5,325.1 168.7,323.7 167.5,324.6 166.0,324.7 164.4,325.6 162.8,325.8 161.5,327.1 160.0,327.4 158.5,327.7 157.6,328.0 156.2,328.1 155.0,328.7 153.6,328.1 154.6,329.0 155.3,330.3 156.1,331.8 156.5,332.9 157.7,333.8 158.6,335.0 158.6,336.2 158.0,337.4 157.2,338.5 156.1,339.0 154.9,339.9 153.7,340.2 152.4,340.5 151.2,341.2 150.1,341.2 149.2,342.4 148.0,342.4 146.3,342.2 144.9,342.4 144.2,343.6 143.9,345.0 143.7,346.2 143.1,347.3 143.0,348.7 143.7,349.8 144.5,350.8 144.9,351.8 144.8,352.8 145.8,353.9 146.2,354.9 145.1,355.9 144.3,357.4 144.0,358.8 144.1,360.1Z M202.0,357.1 202.2,355.8 203.2,354.6 203.5,353.6 204.0,352.1 204.8,351.3 206.1,350.5 206.9,348.5 208.1,348.1 207.3,347.2 205.9,347.1 204.8,346.2 203.3,345.6 202.4,344.9 200.9,344.3 200.1,344.1 198.7,343.1 197.5,343.2 196.4,343.7 194.9,343.7 193.8,343.3 192.4,343.1 191.6,342.0 191.2,341.2 191.3,339.6 191.8,338.7 190.7,338.9 189.8,339.2 188.7,339.9 187.7,339.7 186.4,340.1 185.0,340.6 183.1,340.5 181.8,339.9 180.1,339.8 178.8,340.5 177.5,340.6 176.4,340.7 175.1,341.1 174.3,341.8 173.3,342.8 172.5,344.3 171.8,345.7 171.8,347.4 173.0,348.1 174.5,349.1 175.6,349.3 176.1,350.2 176.4,351.3 177.5,352.4 177.5,353.8 177.4,354.7 176.8,356.2 176.9,357.1 176.0,358.1 175.6,359.3 175.9,360.4 176.6,361.2 177.5,362.4 178.9,362.4 180.2,362.7 181.2,363.0 182.4,362.4 183.2,361.5 183.5,360.6 185.0,359.9 186.6,359.7 187.2,359.0 188.7,358.7 189.7,358.9 191.0,358.8 192.4,359.3 193.8,358.9 194.7,358.3 196.2,357.4 197.7,357.1 198.7,356.8 199.5,357.1 200.8,357.3Z M224.6,138.1 224.8,136.8 223.6,135.9 222.5,136.2 221.3,135.5 219.9,134.8 218.9,135.1 217.3,134.9 216.3,135.4 214.9,135.4 213.6,134.9 212.6,134.9 211.4,134.8 209.9,134.8 208.4,135.2 207.3,135.7 205.9,135.4 204.6,135.9 204.2,137.4 204.0,138.9 203.1,140.4 203.6,141.7 203.6,143.4 203.7,144.8 203.3,146.1 203.6,147.9 202.8,149.1 203.1,150.4 202.3,151.7 202.5,152.8 202.0,154.1 201.8,155.4 201.6,156.9 200.4,158.1 199.9,159.2 200.2,160.2 201.6,161.3 201.8,162.3 201.7,163.4 202.5,164.5 203.5,164.8 203.8,165.9 204.9,167.3 205.6,168.3 206.7,169.5 207.6,170.5 208.9,171.1 209.3,172.0 210.0,171.2 211.0,170.4 211.7,169.7 212.6,168.2 213.0,167.1 213.4,165.5 214.1,164.1 214.2,162.6 214.3,161.3 214.8,159.6 214.5,158.1 215.7,157.7 217.0,156.6 218.1,156.1 219.1,154.9 220.1,154.3 221.1,153.1 222.2,152.1 222.4,150.6 223.8,149.3 223.7,147.7 224.3,146.2 225.2,145.1 225.1,143.5 224.6,142.4 224.7,140.6 224.7,139.7Z M262.1,301.6 263.2,300.8 264.7,299.9 266.1,299.1 267.0,298.1 268.1,296.9 268.9,296.2 270.0,294.6 271.1,294.1 271.8,293.1 272.2,291.8 272.7,290.5 273.1,289.1 272.8,287.5 271.7,286.3 271.2,284.8 270.3,283.6 269.9,282.4 269.5,281.3 269.6,279.2 269.3,278.1 268.2,277.3 267.4,276.2 266.5,276.0 264.9,275.6 264.0,276.1 262.4,276.8 261.5,276.1 260.9,274.9 260.6,273.7 259.6,272.6 259.0,271.1 258.7,270.0 257.7,269.3 256.8,268.1 256.0,266.9 255.2,266.7 254.3,265.6 253.1,264.7 251.8,263.7 250.8,264.3 250.0,265.6 248.5,266.1 247.5,266.8 246.7,268.1 246.0,268.6 245.6,270.0 244.4,270.9 243.4,271.4 242.1,271.5 241.2,272.4 240.9,273.4 240.4,274.6 239.5,275.5 239.4,276.8 239.4,278.6 239.8,280.0 240.7,280.4 241.2,281.2 242.5,280.7 243.7,280.6 245.3,280.6 246.8,281.2 248.0,282.3 248.7,283.7 249.3,285.1 249.2,286.3 250.0,287.4 251.1,287.9 252.4,288.1 253.7,288.1 255.1,288.8 255.6,289.9 256.0,291.3 255.5,292.3 256.2,293.7 257.2,294.6 257.3,296.3 258.1,297.4 258.7,298.5 259.7,299.4 260.7,300.5Z M221.1,153.1 220.1,154.3 219.1,154.9 218.1,156.1 217.0,156.6 215.7,157.7 214.5,158.1 214.8,159.6 214.3,161.3 214.2,162.6 214.1,164.1 213.4,165.5 213.0,167.1 212.6,168.2 211.7,169.7 211.0,170.4 210.0,171.2 209.3,172.0 210.0,173.3 210.0,174.6 210.4,175.6 210.4,177.0 211.1,178.2 211.0,178.8 212.0,179.8 212.6,180.3 213.7,181.2 214.6,180.9 216.0,180.6 217.4,180.6 218.6,179.7 219.9,179.3 221.2,178.1 222.7,177.7 223.7,176.9 224.9,176.2 225.9,176.6 227.1,177.0 228.6,177.5 229.7,178.5 230.3,179.1 231.1,180.0 232.3,180.0 233.7,180.4 234.9,180.6 236.2,179.6 237.4,178.7 238.6,178.1 239.8,177.8 241.2,176.8 240.8,175.1 240.8,174.0 240.0,172.4 240.8,171.5 241.1,169.7 241.8,168.7 242.1,167.5 241.3,166.4 241.6,164.6 241.2,163.7 240.6,162.2 241.3,161.1 240.5,159.7 240.6,158.7 239.3,159.0 237.5,159.1 236.2,158.9 234.9,159.2 233.4,158.8 232.7,158.0 231.3,157.7 229.9,157.3 228.3,156.7 227.1,155.9 226.2,154.8 225.2,154.4 223.7,154.4 222.5,153.2Z M176.2,312.5 175.5,313.1 175.0,313.7 175.9,314.7 176.8,316.2 177.7,316.6 179.2,316.8 180.0,317.5 181.4,317.1 183.1,317.5 184.2,318.3 185.2,319.0 186.2,319.3 186.7,320.4 188.2,321.5 188.7,322.5 189.7,323.8 190.2,325.0 190.6,326.2 190.9,327.2 191.5,328.5 192.4,329.3 193.8,329.9 194.9,331.2 196.2,331.7 198.1,331.8 199.3,331.1 200.6,329.9 202.0,328.9 203.1,328.1 204.2,327.3 205.5,327.5 206.2,326.8 207.4,325.5 208.7,325.0 209.1,323.8 209.9,323.1 209.5,322.3 209.4,321.0 208.7,320.0 208.0,318.9 206.8,317.5 206.4,316.2 205.7,314.7 204.9,313.7 204.6,312.3 203.6,311.4 203.6,309.8 203.1,308.7 202.3,307.7 202.5,305.6 201.8,304.4 201.4,303.1 200.7,302.5 199.8,301.8 199.2,300.7 199.1,299.2 198.2,298.2 197.6,296.9 196.3,295.7 195.5,295.1 194.5,294.4 193.7,295.4 192.6,296.3 191.8,296.9 191.0,298.0 190.7,299.4 190.2,300.3 189.5,301.3 188.8,302.6 187.7,303.3 186.4,303.2 185.1,302.8 184.2,303.2 183.2,302.6 182.4,301.5 182.3,300.3 181.5,301.5 180.7,302.4 180.0,303.7 179.0,305.0 178.1,305.7 176.8,306.2 176.2,306.9 175.8,308.4 175.6,309.4 175.7,311.1 175.7,311.3Z"/>
<path fill="#373c77" d="M171.2,368.0 172.1,369.0 173.0,369.6 174.4,370.2 175.0,371.2 175.7,372.5 177.3,373.4 178.1,374.3 179.0,373.8 180.0,372.8 181.2,372.4 182.5,372.4 184.1,372.6 185.6,373.0 186.7,374.0 187.9,374.3 189.3,374.9 190.7,374.3 192.4,374.3 194.0,373.5 194.7,372.7 196.2,371.8 197.9,371.7 199.0,371.0 199.8,370.3 201.2,369.9 202.2,370.3 203.7,370.3 204.7,371.1 203.8,370.2 202.6,369.1 202.2,368.0 201.7,366.5 202.2,365.0 201.6,364.1 201.8,362.5 201.5,361.1 202.0,359.9 202.3,358.4 202.0,357.1 200.8,357.3 199.5,357.1 198.7,356.8 197.7,357.1 196.2,357.4 194.7,358.3 193.8,358.9 192.4,359.3 191.0,358.8 189.7,358.9 188.7,358.7 187.2,359.0 186.6,359.7 185.0,359.9 183.5,360.6 183.2,361.5 182.4,362.4 181.2,363.0 180.2,362.7 178.9,362.4 177.5,362.4 176.6,363.5 175.4,363.9 174.5,365.3 173.7,366.1 172.1,366.8Z M224.8,136.8 225.3,135.7 225.2,135.1 224.6,133.8 224.3,132.4 224.5,131.2 224.1,130.1 224.2,128.4 223.2,127.6 221.5,126.7 220.2,126.0 218.9,126.5 217.1,126.2 216.2,125.6 214.5,126.0 214.1,124.6 213.7,123.0 212.5,122.6 211.2,122.4 210.2,121.3 209.1,121.0 207.7,120.0 207.3,118.8 205.7,118.0 205.4,116.3 204.1,115.4 203.9,114.3 203.1,113.0 201.7,113.3 200.5,113.5 199.2,114.5 198.1,114.4 197.0,113.3 196.2,112.2 194.4,111.3 193.7,110.0 192.8,108.8 192.4,107.4 192.2,106.5 192.1,104.6 191.7,103.6 190.4,104.4 188.9,104.5 187.6,104.3 186.3,104.9 185.0,105.0 185.6,106.6 185.3,107.8 185.6,109.2 186.8,110.1 187.4,111.0 188.1,112.4 189.0,113.0 190.0,114.2 191.2,114.6 192.5,115.2 193.5,116.5 194.9,116.7 195.8,117.5 197.0,118.6 197.8,119.8 198.7,121.1 199.8,121.7 200.1,123.0 201.0,123.9 201.8,124.8 201.3,126.5 201.8,127.8 201.2,129.2 201.7,130.1 202.8,131.2 203.1,132.7 203.5,134.0 204.0,135.0 204.6,135.9 205.9,135.4 207.3,135.7 208.4,135.2 209.9,134.8 211.4,134.8 212.6,134.9 213.6,134.9 214.9,135.4 216.3,135.4 217.3,134.9 218.9,135.1 219.9,134.8 221.3,135.5 222.5,136.2 223.6,135.9Z M179.4,185.9 178.5,184.8 178.4,184.0 177.6,182.9 176.6,182.2 176.2,181.3 175.0,180.4 174.4,179.7 174.0,178.9 172.8,177.9 172.6,176.8 171.9,175.6 171.8,174.1 171.5,173.1 170.9,171.8 171.2,170.0 170.5,168.5 170.2,169.7 169.9,170.9 169.1,172.1 168.0,172.9 166.9,173.4 165.7,174.1 164.0,174.4 163.1,175.1 161.7,175.8 160.7,175.6 159.2,176.9 158.1,177.1 157.5,178.0 157.1,179.2 157.0,180.8 156.8,181.3 156.8,182.4 156.7,182.5 156.0,183.7 156.0,184.8 155.5,186.2 155.1,187.4 154.8,188.7 155.1,190.4 154.9,191.7 156.3,192.5 157.4,193.2 158.7,194.3 159.5,195.3 161.1,196.3 162.4,196.8 164.0,197.6 164.8,198.7 166.2,199.6 167.8,198.8 168.7,197.8 170.0,196.8 171.4,196.3 172.5,195.6 173.6,194.6 174.7,194.3 176.1,193.6 177.5,193.1 178.7,192.7 179.3,191.3 179.9,190.3 180.0,189.0 180.8,188.1 179.9,186.9Z M148.8,208.3 147.2,208.7 146.1,209.4 144.6,209.5 143.2,210.2 142.7,211.2 142.7,212.3 141.7,213.5 141.2,215.0 141.3,216.2 140.0,217.6 140.1,219.1 139.8,220.1 139.1,221.6 139.2,223.0 138.2,223.6 137.8,224.6 139.0,225.8 140.0,225.9 141.0,227.7 142.0,228.0 143.0,229.2 144.2,230.0 145.3,230.4 147.0,231.1 148.2,231.5 150.1,231.6 151.2,232.0 151.8,233.3 152.4,234.3 152.9,235.5 153.6,236.9 154.4,237.7 155.4,236.7 155.9,235.7 157.2,234.6 158.1,233.7 158.5,232.5 159.7,231.3 159.9,230.0 160.9,229.4 161.4,228.4 162.4,227.5 163.4,226.6 164.2,226.2 164.9,225.0 164.9,223.5 164.3,222.4 164.3,221.2 163.0,220.4 161.7,220.7 160.5,219.9 160.0,218.5 160.0,217.2 160.4,215.9 159.9,214.9 159.4,213.9 158.8,212.3 158.7,211.2 157.8,210.7 156.9,209.8 156.2,208.7 154.7,208.4 153.6,208.7 152.4,208.0 150.9,207.8 149.8,208.3Z M185.0,105.0 183.6,104.9 182.1,105.6 180.6,106.1 179.5,106.8 178.0,106.8 176.3,107.9 175.1,108.0 174.6,109.5 173.3,110.4 172.5,112.0 172.5,113.4 173.2,114.9 172.6,116.2 173.1,118.0 172.9,119.4 173.2,120.5 173.1,122.0 173.2,123.2 173.3,124.8 172.8,126.2 173.6,126.7 175.0,126.6 176.2,126.7 177.3,127.6 179.1,127.7 180.0,128.7 181.2,129.2 182.7,129.6 183.8,129.7 184.8,130.0 186.2,129.8 187.4,130.3 188.6,131.8 190.0,131.7 191.2,132.9 192.7,133.2 193.4,133.4 194.7,133.6 196.2,133.6 197.3,133.9 198.8,133.5 199.8,133.3 201.2,133.6 202.5,134.7 203.7,135.4 204.6,135.9 204.0,135.0 203.5,134.0 203.1,132.7 202.8,131.2 201.7,130.1 201.2,129.2 201.8,127.8 201.3,126.5 201.8,124.8 201.0,123.9 200.1,123.0 199.8,121.7 198.7,121.1 197.8,119.8 197.0,118.6 195.8,117.5 194.9,116.7 193.5,116.5 192.5,115.2 191.2,114.6 190.0,114.2 189.0,113.0 188.1,112.4 187.4,111.0 186.8,110.1 185.6,109.2 185.3,107.8 185.6,106.6Z M215.9,238.3 216.5,239.9 216.8,241.2 217.7,242.0 218.0,243.5 219.0,244.3 220.1,245.8 221.1,246.3 221.5,247.1 221.9,248.6 221.7,249.5 221.7,250.6 221.1,252.0 220.4,253.2 221.2,254.4 221.7,255.1 223.2,254.9 224.8,255.5 226.3,255.2 227.9,255.4 229.0,253.9 230.2,253.3 230.6,253.0 231.6,252.5 233.0,252.7 233.8,252.0 235.2,251.8 236.7,252.2 237.9,253.4 238.5,254.8 238.8,253.3 239.1,252.5 239.6,251.0 239.9,249.7 240.2,248.3 241.0,247.0 242.0,246.1 243.0,245.1 244.0,245.0 245.4,244.5 246.5,244.8 247.8,245.0 249.3,244.9 250.5,245.4 250.6,243.7 251.4,242.5 251.9,241.6 251.9,240.1 252.1,238.9 251.8,237.5 252.1,236.3 251.5,234.7 251.6,233.7 250.9,232.8 250.0,231.6 249.5,230.0 248.1,230.4 246.6,230.8 245.2,230.4 243.6,230.6 242.0,231.1 240.4,231.3 239.1,230.6 237.6,230.4 235.9,230.7 234.7,230.2 233.3,229.2 232.0,228.8 230.9,228.0 229.8,227.6 228.5,227.2 226.8,226.3 225.4,226.1 223.7,225.9 223.5,227.7 223.2,229.0 223.2,230.5 222.9,232.0 221.7,232.6 221.2,234.1 220.3,234.5 219.0,235.5 217.5,236.3 216.8,237.1Z"/>
<path fill="#ffffff" d="M284.2,267.1 285.1,266.3 286.1,265.4 286.8,264.1 287.7,263.4 288.2,262.1 287.0,261.2 286.9,260.3 285.5,259.4 285.2,258.1 284.7,256.7 283.8,255.5 283.6,253.4 283.2,252.1 282.8,250.9 282.5,249.3 282.5,248.5 282.2,247.1 280.8,246.9 279.4,247.5 278.2,246.8 277.1,247.1 275.5,247.7 274.4,248.3 272.6,248.4 271.1,249.1 271.1,250.7 270.3,251.7 270.1,253.1 268.7,253.1 267.6,254.3 266.0,254.1 265.1,255.1 265.7,254.0 266.3,252.8 267.1,252.1 267.9,250.9 267.0,251.9 265.6,252.9 264.9,253.7 263.6,254.4 263.4,255.4 262.4,256.2 262.5,257.4 262.5,258.7 261.8,260.0 262.1,261.4 262.4,262.2 263.4,262.8 264.0,264.2 264.9,265.0 265.7,265.7 267.2,266.3 268.1,266.8 269.3,267.3 270.2,267.3 271.2,268.1 272.4,267.3 273.7,266.8 274.5,265.8 275.6,264.3 276.1,263.3 277.4,262.5 278.6,263.2 279.9,264.3 281.4,264.9 282.2,265.8 282.9,266.3Z M251.2,150.1 250.1,149.0 248.8,148.1 248.1,147.1 247.3,147.8 245.6,148.1 244.7,148.6 243.7,149.3 243.6,150.9 242.9,152.0 242.5,153.7 242.1,154.9 241.4,156.2 240.7,157.6 240.6,158.7 240.5,159.7 241.3,161.1 240.6,162.2 241.2,163.7 241.6,164.6 241.3,166.4 242.1,167.5 241.8,168.7 241.1,169.7 240.8,171.5 240.0,172.4 240.8,174.0 240.8,175.1 241.2,176.8 242.6,177.2 243.7,177.9 245.0,178.7 246.2,179.2 247.4,180.4 248.7,181.2 249.8,181.9 251.0,182.7 251.8,183.7 253.3,182.8 255.0,183.1 256.2,182.4 256.8,180.9 258.1,179.9 257.7,178.5 257.3,177.5 256.8,176.2 256.8,174.9 256.9,173.7 257.5,172.7 257.4,171.2 257.9,169.8 258.0,169.0 257.7,167.7 258.1,166.2 257.9,164.6 257.5,163.7 256.6,162.2 256.2,161.2 255.9,160.2 256.3,158.7 256.1,157.2 255.6,156.2 254.4,155.5 254.3,154.5 253.1,153.7 252.5,152.5 251.8,151.5Z M202.5,164.5 201.3,164.1 200.0,164.4 198.9,163.7 197.7,164.1 196.5,164.6 195.5,164.7 194.0,164.4 192.9,163.9 191.6,164.1 190.4,163.3 189.2,163.3 188.0,163.1 186.8,162.3 185.5,161.8 183.9,161.5 182.1,161.3 181.0,160.8 179.7,161.1 178.3,160.8 177.3,161.2 176.0,161.4 174.4,161.9 173.1,162.4 172.4,163.7 171.5,164.1 170.4,165.4 169.7,166.6 170.5,167.4 170.5,168.5 171.2,170.0 170.9,171.8 171.5,173.1 171.8,174.1 171.9,175.6 172.6,176.8 172.8,177.9 174.0,178.9 174.4,179.7 175.0,180.4 176.2,181.3 176.6,182.2 177.6,182.9 178.4,184.0 178.5,184.8 179.4,185.9 179.9,186.9 180.8,188.1 181.3,188.7 182.6,187.9 183.9,188.0 185.3,188.4 186.8,188.4 188.1,188.8 189.0,189.1 189.8,190.2 190.4,190.9 191.0,191.6 191.5,192.7 192.9,193.4 194.0,193.5 195.1,193.0 196.9,193.1 197.8,192.5 199.1,192.0 200.2,191.0 200.6,189.8 201.2,188.7 202.7,187.7 204.2,187.2 205.6,186.9 207.0,186.6 208.5,186.2 208.8,185.3 209.3,184.0 209.7,182.5 210.4,181.1 210.5,180.2 211.0,178.8 211.1,178.2 210.4,177.0 210.4,175.6 210.0,174.6 210.0,173.3 209.3,172.0 208.9,171.1 207.6,170.5 206.7,169.5 205.6,168.3 204.9,167.3 203.8,165.9 203.5,164.8Z"/>
<path fill="none" stroke-width="1.15" stroke-opacity="1" d="M168.2,136.1 167.1,137.2 165.7,137.3 164.3,138.0 163.2,139.1 162.0,139.2 160.5,140.0 159.2,139.9 158.0,140.3 156.4,140.5 155.2,141.1 154.0,141.5 152.9,142.2 151.7,142.9 150.0,143.2 149.2,144.1 147.8,144.6 146.9,146.0 145.1,146.2 144.2,147.1 143.7,148.4 142.3,149.0 142.2,150.1 143.0,151.2 143.2,152.3 144.2,153.1 143.3,154.2 141.9,154.8 141.2,156.1 139.8,156.1 137.8,156.7 136.4,156.8 135.2,157.7 133.5,157.3 132.3,156.2 130.8,156.5 129.1,155.7 127.8,155.6 125.8,155.3 124.6,155.1 123.1,154.5 121.3,154.1 119.8,154.2 118.8,153.6 117.1,153.1 116.9,152.6 115.9,151.9 115.4,150.7 115.1,149.1 114.8,147.5 115.1,145.9 114.7,144.5 113.4,145.1 111.4,144.9 110.1,145.1 108.7,144.6 107.4,144.5 106.2,144.3 105.1,143.7 103.8,144.2 102.2,143.3 101.1,143.7 101.7,145.1 101.6,146.9 102.1,148.1 102.4,149.4 102.8,151.0 103.6,152.3 104.1,154.1 104.3,155.6 105.2,156.6 105.6,157.8 106.4,159.0 107.1,160.1 107.7,161.7 107.1,163.5 107.9,164.7 108.1,166.1 108.2,167.6 107.5,168.8 107.6,170.8 107.1,172.1 107.2,173.5 107.4,174.9 108.1,176.1 107.8,177.0 107.8,178.1 107.3,177.8 107.3,178.1 108.1,179.1 109.3,179.2 110.5,180.0 112.2,180.2 113.5,180.6 114.8,180.6 116.1,181.1 117.4,182.1 118.7,182.3 120.1,182.7 121.1,183.1 121.7,182.8 122.8,182.7 124.1,182.2 125.6,181.8 127.1,181.7 128.3,182.0 129.8,181.6 131.5,181.4 133.0,181.1 134.1,180.5 134.6,181.1 135.7,182.2 136.0,183.1 136.3,183.3 136.4,183.7 137.2,184.1 138.7,184.6 140.1,184.6 141.2,185.1 142.1,184.7 143.2,183.6 144.2,183.1 145.3,183.7 146.8,184.8 147.8,185.5 149.2,186.1 150.5,187.1 151.5,188.2 152.3,189.2 153.2,190.1 154.0,191.0 154.9,191.7 155.1,190.4 154.8,188.7 155.1,187.4 155.5,186.2 156.0,184.8 156.0,183.7 156.7,182.5 156.8,182.4 156.8,181.3 157.0,180.8 157.1,179.2 157.5,178.0 158.1,177.1 159.2,176.9 160.7,175.6 161.7,175.8 163.1,175.1 164.0,174.4 165.7,174.1 166.9,173.4 168.0,172.9 169.1,172.1 169.9,170.9 170.2,169.7 170.5,168.5 170.5,167.4 169.7,166.6 170.4,165.4 171.5,164.1 172.4,163.7 173.1,162.4 174.4,161.9 174.7,161.1 175.7,160.5 175.1,159.5 174.5,158.1 174.9,157.0 174.7,155.6 175.0,154.4 175.5,152.8 175.7,151.5 175.7,150.1 175.1,149.0 175.2,147.5 174.9,146.0 174.9,144.5 174.8,143.1 174.7,142.1 174.5,141.1 173.8,139.6 172.9,138.7 171.8,137.5 171.8,136.6 170.9,135.3 170.1,134.1 169.2,135.3Z M204.2,187.2 202.7,187.7 201.2,188.7 200.6,189.8 200.6,191.3 200.7,192.9 201.2,194.6 201.1,196.1 201.1,197.6 200.3,199.2 200.0,200.7 199.1,202.2 199.1,203.7 198.3,205.2 198.8,206.6 198.1,208.2 198.1,209.3 197.4,210.6 197.5,212.3 197.1,213.8 197.1,215.0 198.0,216.5 198.3,217.5 198.6,219.0 198.8,220.4 199.7,221.8 199.8,223.3 200.0,224.6 201.1,225.9 201.0,227.0 200.6,228.3 200.7,229.7 200.8,231.5 200.7,232.9 200.6,233.8 201.0,235.4 200.7,236.9 201.5,237.9 203.0,238.7 204.2,239.5 205.5,239.4 206.5,240.3 208.0,240.1 209.6,240.3 211.1,240.7 212.1,239.8 212.6,239.3 213.6,238.2 214.5,238.5 215.9,238.3 216.5,239.9 216.8,241.2 217.7,242.0 218.0,243.5 219.0,244.3 220.1,245.8 221.1,246.3 221.5,247.1 221.9,248.6 221.7,249.5 221.7,250.6 221.1,252.0 220.4,253.2 221.2,254.4 221.7,255.1 223.2,254.9 224.8,255.5 226.3,255.2 227.9,255.4 229.0,253.9 230.2,253.3 230.6,253.0 231.6,252.5 233.0,252.7 233.8,252.0 235.2,251.8 236.7,252.2 237.9,253.4 238.5,254.8 238.8,253.3 239.1,252.5 239.6,251.0 239.9,249.7 240.2,248.3 241.0,247.0 242.0,246.1 243.0,245.1 244.0,245.0 245.4,244.5 246.5,244.8 247.8,245.0 249.3,244.9 250.5,245.4 250.9,246.8 251.6,247.7 252.9,248.7 253.3,249.8 254.5,251.0 255.6,251.8 257.0,251.8 258.1,251.0 259.7,251.3 261.0,252.0 262.3,251.6 263.1,251.0 264.0,250.5 264.5,249.5 265.1,248.8 265.6,247.5 266.6,247.3 266.9,247.2 266.7,247.1 267.3,245.9 267.7,244.6 268.3,243.8 268.8,242.7 269.1,242.0 269.9,240.7 271.2,240.1 271.3,238.9 272.3,238.2 273.1,237.0 273.8,235.6 274.4,234.1 275.0,232.4 275.1,231.0 276.0,230.1 276.8,228.8 277.2,227.3 278.7,226.4 279.1,225.0 280.2,223.8 281.3,222.8 281.8,221.9 282.3,220.7 283.6,219.8 284.2,218.6 284.9,217.1 285.9,215.8 287.2,215.0 288.4,214.2 290.0,214.2 290.9,214.2 289.9,212.9 288.6,212.4 287.8,211.8 286.8,210.5 286.4,209.4 285.6,208.3 285.5,208.1 284.7,207.1 283.4,206.1 283.0,204.9 282.2,204.2 281.5,203.3 280.3,202.7 279.9,202.4 279.2,201.6 277.7,201.2 276.8,200.6 275.5,200.2 274.7,199.8 273.6,199.7 271.9,199.5 270.5,199.9 269.2,199.7 268.2,199.5 267.4,198.7 266.1,197.7 264.9,197.4 263.8,197.9 262.4,198.7 261.7,199.9 260.8,200.4 259.9,201.2 258.7,201.8 258.0,203.1 257.4,203.7 256.4,204.9 256.2,206.2 255.6,207.1 254.3,208.1 252.9,208.3 252.2,209.2 251.2,209.3 250.8,209.5 249.4,209.8 248.7,210.5 247.7,209.5 246.8,209.3 245.7,209.2 244.4,208.8 243.7,208.1 242.4,206.8 241.8,205.6 241.5,204.4 240.8,203.8 240.6,202.4 239.5,201.4 238.8,200.1 238.1,199.3 236.9,198.8 235.6,198.1 234.2,198.0 232.5,198.7 231.1,199.0 229.9,199.3 228.7,199.9 227.5,199.8 226.2,200.4 225.0,200.6 223.5,200.4 222.3,200.5 220.6,200.6 219.4,199.8 218.7,198.7 217.9,198.0 217.1,196.6 216.9,195.6 215.8,194.6 215.5,193.8 214.4,193.1 213.6,191.5 212.6,190.7 211.9,189.3 210.9,188.4 210.4,187.8 209.4,186.8 208.5,186.2 207.0,186.6 205.6,186.9Z M196.7,238.8 195.7,239.7 194.5,239.9 193.6,240.7 192.8,241.7 192.2,242.9 191.7,243.8 190.5,244.6 188.9,244.9 188.0,245.7 186.9,246.2 185.8,247.4 186.3,248.8 187.8,249.8 188.5,251.6 189.1,252.6 190.0,254.1 190.8,255.1 190.8,256.3 191.5,257.2 191.3,259.1 192.0,260.1 191.8,261.2 192.0,262.0 191.3,263.2 190.6,264.5 189.3,266.1 188.2,267.0 189.1,267.9 190.1,269.3 190.7,270.7 190.9,272.1 190.7,273.0 189.8,274.6 190.1,275.7 190.0,276.2 189.5,277.4 189.6,279.1 189.5,280.1 188.6,280.4 187.1,281.4 186.4,282.0 185.4,282.8 185.0,284.7 183.9,285.7 183.2,286.8 181.9,287.8 181.4,288.8 181.0,290.1 181.1,291.0 180.7,292.0 181.1,293.2 181.4,294.5 181.4,295.7 181.7,296.7 182.0,298.4 182.0,299.4 182.3,300.3 182.4,301.5 183.2,302.6 184.2,303.2 185.1,302.8 186.4,303.2 187.7,303.3 188.8,302.6 189.5,301.3 190.2,300.3 190.7,299.4 191.0,298.0 191.8,296.9 192.6,296.3 193.7,295.4 194.5,294.4 195.5,295.1 196.3,295.7 197.6,296.9 198.2,298.2 199.1,299.2 199.2,300.7 199.8,301.8 200.7,302.5 201.5,301.4 201.3,300.6 202.0,299.4 202.2,298.2 203.0,297.7 203.2,296.3 204.6,295.9 205.7,295.1 207.0,294.4 208.2,293.8 209.1,294.1 210.1,295.1 210.8,296.5 211.3,297.6 212.3,297.9 213.8,297.6 214.9,297.0 216.3,296.9 217.8,298.0 218.8,298.8 219.8,299.7 219.8,300.7 220.1,301.3 220.7,302.5 220.6,303.2 221.3,304.4 221.8,306.0 222.5,306.9 223.3,307.8 223.1,309.3 223.8,310.1 224.8,311.2 225.7,312.6 226.7,312.9 227.5,313.8 228.5,313.3 230.0,312.6 231.3,312.7 232.2,312.9 233.2,313.2 234.3,313.1 235.7,312.6 237.2,313.2 238.2,313.9 239.4,314.3 240.5,314.7 241.4,314.5 242.6,314.3 244.3,313.4 245.4,313.4 247.0,313.2 248.2,313.2 249.5,313.9 250.9,314.5 252.0,315.7 252.9,316.2 254.0,317.0 255.1,317.0 256.6,316.9 257.6,316.5 259.1,316.1 258.6,314.7 258.1,314.2 257.1,312.9 256.6,311.9 256.1,311.1 256.0,309.9 256.3,308.7 256.8,307.5 257.1,306.1 258.1,305.3 258.8,304.0 260.0,303.2 261.1,302.1 262.1,301.6 263.2,300.8 264.7,299.9 266.1,299.1 267.0,298.1 268.1,296.9 268.9,296.2 270.0,294.6 271.1,294.1 271.8,293.1 272.2,291.8 272.7,290.5 273.1,289.1 274.7,289.0 276.0,288.0 277.1,288.1 278.3,287.8 279.5,288.1 280.8,288.0 282.2,287.5 283.1,287.0 284.3,285.9 286.2,285.9 287.2,285.1 288.5,284.3 289.0,283.1 290.5,282.2 291.6,281.1 291.5,279.7 291.4,278.6 291.2,277.1 290.0,276.4 289.7,275.2 288.4,274.3 287.5,273.1 287.2,272.1 286.0,271.0 285.7,269.5 284.8,268.3 284.2,267.1 285.1,266.3 286.1,265.4 286.8,264.1 287.7,263.4 288.2,262.1 287.0,261.2 286.9,260.3 285.5,259.4 285.2,258.1 284.7,256.7 283.8,255.5 283.6,253.4 283.2,252.1 282.8,250.9 282.5,249.3 282.5,248.5 282.2,247.1 280.8,246.9 279.4,247.5 278.2,246.8 277.1,247.1 275.5,247.7 274.4,248.3 272.6,248.4 271.1,249.1 271.1,250.7 270.3,251.7 270.1,253.1 268.7,253.1 267.6,254.3 266.0,254.1 265.1,255.1 265.7,254.0 266.3,252.8 267.1,252.1 267.9,250.9 268.5,249.6 269.1,249.1 267.7,247.9 266.9,247.2 266.6,247.3 265.6,247.5 265.1,248.8 264.5,249.5 264.0,250.5 263.1,251.0 262.3,251.6 261.0,252.0 259.7,251.3 258.1,251.0 257.0,251.8 255.6,251.8 254.5,251.0 253.3,249.8 252.9,248.7 251.6,247.7 250.9,246.8 250.5,245.4 249.3,244.9 247.8,245.0 246.5,244.8 245.4,244.5 244.0,245.0 243.0,245.1 242.0,246.1 241.0,247.0 240.2,248.3 239.9,249.7 239.6,251.0 239.1,252.5 238.8,253.3 238.5,254.8 237.9,253.4 236.7,252.2 235.2,251.8 233.8,252.0 233.0,252.7 231.6,252.5 230.6,253.0 230.2,253.3 229.0,253.9 227.9,255.4 226.3,255.2 224.8,255.5 223.2,254.9 221.7,255.1 221.2,254.4 220.4,253.2 221.1,252.0 221.7,250.6 221.7,249.5 221.9,248.6 221.5,247.1 221.1,246.3 220.1,245.8 219.0,244.3 218.0,243.5 217.7,242.0 216.8,241.2 216.5,239.9 215.9,238.3 214.5,238.5 213.6,238.2 212.6,239.3 212.1,239.8 211.1,240.7 209.6,240.3 208.0,240.1 206.5,240.3 205.5,239.4 204.2,239.5 203.0,238.7 201.5,237.9 200.7,236.9 199.5,237.7 198.2,237.8Z M289.4,302.5 290.2,301.6 291.2,300.1 291.2,299.0 290.8,297.8 290.2,296.4 290.2,295.1 288.5,294.5 287.4,293.8 286.6,292.9 285.2,292.1 284.6,290.7 283.7,289.9 282.5,289.0 282.2,287.5 280.8,288.0 279.5,288.1 278.3,287.8 277.1,288.1 276.0,288.0 274.7,289.0 273.1,289.1 272.7,290.5 272.2,291.8 271.8,293.1 271.1,294.1 270.0,294.6 268.9,296.2 268.1,296.9 267.0,298.1 266.1,299.1 264.7,299.9 263.2,300.8 262.1,301.6 261.1,302.1 260.0,303.2 258.8,304.0 258.1,305.3 257.1,306.1 256.8,307.5 256.3,308.7 256.0,309.9 256.1,311.1 256.6,311.9 257.1,312.9 258.1,314.2 258.6,314.7 259.1,316.1 257.6,316.5 256.6,316.9 255.1,317.0 254.0,317.0 252.9,316.2 252.0,315.7 250.9,314.5 249.5,313.9 248.2,313.2 247.0,313.2 245.4,313.4 244.3,313.4 242.6,314.3 241.4,314.5 240.5,314.7 239.4,314.3 238.2,313.9 238.9,315.1 238.9,315.3 239.1,316.1 239.2,317.7 240.0,318.7 239.7,320.0 240.2,321.6 240.3,323.2 240.1,324.5 239.4,325.9 238.7,326.8 238.2,328.2 237.4,329.2 236.6,330.9 235.7,332.0 234.9,333.1 233.6,334.0 233.2,335.1 232.1,335.6 231.2,336.9 230.1,338.1 229.3,338.9 230.1,339.1 231.8,339.8 233.1,340.1 234.4,340.2 236.0,339.9 237.1,340.1 238.3,340.9 240.1,341.1 241.1,341.7 242.6,341.1 244.1,341.1 245.2,341.8 246.7,342.8 248.1,343.1 249.5,342.8 251.1,342.5 252.2,343.0 253.6,344.0 254.1,345.1 254.8,346.5 256.2,346.8 257.1,348.1 258.3,348.3 259.6,347.5 261.1,347.1 262.2,347.3 263.0,348.6 264.0,349.2 265.1,350.1 266.5,350.7 267.9,350.6 269.1,351.1 270.2,350.4 271.6,349.9 273.1,349.7 274.7,349.7 276.4,350.3 277.7,349.5 279.1,350.1 280.2,349.3 280.8,348.6 282.2,348.1 282.4,346.6 282.7,345.6 283.2,344.1 284.6,343.3 285.8,343.0 286.8,341.6 288.2,341.1 288.9,340.3 290.4,339.8 290.8,338.3 292.2,337.9 293.2,337.1 293.6,336.0 294.6,334.9 295.8,334.2 296.2,333.1 297.4,332.2 298.1,331.1 299.3,329.9 300.4,328.9 301.2,328.2 302.3,326.9 302.9,326.0 303.7,324.7 304.2,323.2 304.3,321.8 305.1,320.3 305.6,318.9 306.2,317.1 304.9,316.2 303.3,316.0 302.2,315.1 300.8,314.9 299.5,315.3 298.2,314.8 296.9,313.9 295.2,314.1 294.1,313.2 292.5,313.0 291.2,312.2 290.2,311.1 289.7,310.1 289.5,309.1 289.3,307.9 288.7,306.4 288.2,305.1 288.5,303.5Z M181.7,296.7 181.4,295.7 181.4,294.5 181.1,293.2 180.7,292.0 179.7,292.2 178.2,292.8 177.0,293.2 175.4,293.4 173.9,293.9 173.5,292.8 172.9,291.2 173.0,290.1 171.7,290.1 170.0,290.5 168.8,290.5 167.2,291.1 166.6,292.2 166.5,293.6 166.6,295.2 166.0,296.8 165.3,297.9 165.2,299.1 164.3,300.5 163.4,301.0 162.1,302.3 161.1,303.0 160.1,304.3 159.2,305.1 158.6,305.7 157.5,306.4 156.7,307.4 156.0,308.1 155.2,309.1 154.8,310.2 154.0,311.3 154.3,312.7 153.4,313.8 153.2,315.1 152.4,315.8 151.4,316.9 150.3,317.9 149.7,318.6 149.2,319.1 147.5,319.3 146.4,320.0 144.6,320.6 143.2,321.1 141.5,321.3 140.2,322.2 139.2,322.8 137.7,323.1 136.7,323.9 135.2,324.2 134.5,324.3 133.3,324.9 131.6,325.0 130.3,324.5 129.1,325.2 129.0,326.4 128.7,328.2 128.3,329.4 128.5,330.4 128.1,332.1 128.8,332.9 129.4,334.0 129.6,334.3 129.8,335.4 130.8,336.9 131.1,338.1 131.0,339.5 132.0,340.8 131.8,341.8 132.1,343.1 131.7,344.4 131.2,345.7 130.8,347.1 130.1,348.1 129.2,349.3 128.3,350.0 127.5,351.0 127.1,352.2 126.1,353.1 126.0,354.8 125.3,355.9 125.2,356.2 126.2,356.2 127.4,357.0 128.5,358.0 129.3,358.7 130.2,359.9 131.2,360.5 132.6,360.5 133.6,361.1 134.9,361.2 136.4,361.2 137.7,361.2 138.7,361.8 139.7,362.1 141.4,362.3 142.4,361.8 143.5,361.5 144.9,361.2 146.0,361.7 147.4,361.8 147.8,360.4 148.0,359.3 149.1,358.4 149.9,357.4 150.6,357.7 152.2,358.0 153.6,358.7 155.1,359.4 156.2,359.4 157.4,359.9 158.4,361.0 159.9,361.3 161.1,362.4 162.4,363.0 163.5,364.7 164.9,365.7 166.2,366.2 167.7,366.4 168.9,367.0 169.7,367.8 171.2,368.0 172.1,369.0 173.0,369.6 174.4,370.2 175.0,371.2 175.7,372.5 177.3,373.4 178.1,374.3 179.0,373.8 180.0,372.8 181.2,372.4 182.5,372.4 184.1,372.6 185.6,373.0 186.7,374.0 187.9,374.3 189.3,374.9 190.7,374.3 192.4,374.3 194.0,373.5 194.7,372.7 196.2,371.8 197.9,371.7 199.0,371.0 199.8,370.3 201.2,369.9 202.2,370.3 203.7,370.3 204.7,371.1 203.8,370.2 202.6,369.1 202.2,368.0 201.7,366.5 202.2,365.0 201.6,364.1 201.8,362.5 201.5,361.1 202.0,359.9 202.3,358.4 202.0,357.1 202.2,355.8 203.2,354.6 203.5,353.6 204.0,352.1 204.8,351.3 206.1,350.5 206.9,348.5 208.1,348.1 209.0,347.0 210.5,346.7 211.6,346.0 212.5,344.6 214.1,344.1 215.3,343.2 216.6,343.0 217.6,341.4 218.8,341.3 220.1,340.1 221.3,339.9 222.6,338.5 223.9,339.0 225.1,338.1 226.3,338.3 227.8,338.7 229.3,338.9 230.1,338.1 231.2,336.9 232.1,335.6 233.2,335.1 233.6,334.0 234.9,333.1 235.7,332.0 236.6,330.9 237.4,329.2 238.2,328.2 238.7,326.8 239.4,325.9 240.1,324.5 240.3,323.2 240.2,321.6 239.7,320.0 240.0,318.7 239.2,317.7 239.1,316.1 238.9,315.3 238.9,315.1 238.2,313.9 237.2,313.2 235.7,312.6 234.3,313.1 233.2,313.2 232.2,312.9 231.3,312.7 230.0,312.6 228.5,313.3 227.5,313.8 226.7,312.9 225.7,312.6 224.8,311.2 223.8,310.1 223.1,309.3 223.3,307.8 222.5,306.9 221.8,306.0 221.3,304.4 220.6,303.2 220.7,302.5 220.1,301.3 219.8,300.7 219.8,299.7 218.8,298.8 217.8,298.0 216.3,296.9 214.9,297.0 213.8,297.6 212.3,297.9 211.3,297.6 210.8,296.5 210.1,295.1 209.1,294.1 208.2,293.8 207.0,294.4 205.7,295.1 204.6,295.9 203.2,296.3 203.0,297.7 202.2,298.2 202.0,299.4 201.3,300.6 201.5,301.4 200.7,302.5 199.8,301.8 199.2,300.7 199.1,299.2 198.2,298.2 197.6,296.9 196.3,295.7 195.5,295.1 194.5,294.4 193.7,295.4 192.6,296.3 191.8,296.9 191.0,298.0 190.7,299.4 190.2,300.3 189.5,301.3 188.8,302.6 187.7,303.3 186.4,303.2 185.1,302.8 184.2,303.2 183.2,302.6 182.4,301.5 182.3,300.3 182.0,299.4 182.0,298.4Z M244.6,145.2 243.3,144.8 242.1,144.1 241.0,143.6 240.6,142.0 239.0,140.9 238.1,140.1 238.0,138.3 238.3,137.3 238.4,135.3 238.3,134.1 238.0,132.8 237.1,131.7 235.6,132.4 234.7,133.1 233.8,134.3 233.2,135.8 233.1,137.1 231.8,137.4 230.3,137.0 228.8,137.4 227.2,137.6 225.9,138.4 224.6,138.1 224.7,139.7 224.7,140.6 224.6,142.4 225.1,143.5 225.2,145.1 224.3,146.2 223.7,147.7 223.8,149.3 222.4,150.6 222.2,152.1 221.1,153.1 220.1,154.3 219.1,154.9 218.1,156.1 217.0,156.6 215.7,157.7 214.5,158.1 214.8,159.6 214.3,161.3 214.2,162.6 214.1,164.1 213.4,165.5 213.0,167.1 212.6,168.2 211.7,169.7 211.0,170.4 210.0,171.2 209.3,172.0 210.0,173.3 210.0,174.6 210.4,175.6 210.4,177.0 211.1,178.2 211.0,178.8 210.5,180.2 210.4,181.1 209.7,182.5 209.3,184.0 208.8,185.3 208.5,186.2 209.4,186.8 210.4,187.8 210.9,188.4 211.9,189.3 212.6,190.7 213.6,191.5 214.4,193.1 215.5,193.8 215.8,194.6 216.9,195.6 217.1,196.6 217.9,198.0 218.7,198.7 219.4,199.8 220.6,200.6 222.3,200.5 223.5,200.4 225.0,200.6 226.2,200.4 227.5,199.8 228.7,199.9 229.9,199.3 231.1,199.0 232.5,198.7 234.2,198.0 235.6,198.1 236.9,198.8 238.1,199.3 238.8,200.1 239.5,201.4 240.6,202.4 240.8,203.8 241.5,204.4 241.8,205.6 242.4,206.8 243.7,208.1 244.4,208.8 245.7,209.2 246.8,209.3 247.7,209.5 248.7,210.5 249.4,209.8 250.8,209.5 251.2,209.3 252.2,209.2 252.9,208.3 254.3,208.1 255.6,207.1 256.2,206.2 256.4,204.9 257.4,203.7 258.0,203.1 258.7,201.8 259.9,201.2 260.8,200.4 261.7,199.9 262.4,198.7 263.8,197.9 264.9,197.4 266.1,197.7 267.4,198.7 268.2,199.5 269.2,199.7 270.5,199.9 271.9,199.5 273.6,199.7 274.7,199.8 275.5,200.2 276.8,200.6 277.7,201.2 279.2,201.6 279.9,202.4 280.3,202.7 281.5,203.3 282.2,204.2 283.0,204.9 283.4,206.1 284.7,207.1 285.5,208.1 285.6,208.3 286.4,209.4 286.8,210.5 287.8,211.8 288.6,212.4 289.9,212.9 290.9,214.2 291.2,214.2 292.2,213.9 293.7,214.1 295.2,213.2 296.0,211.8 296.1,210.9 297.0,209.5 297.2,208.2 296.9,206.7 296.2,205.0 296.0,204.0 296.2,202.2 296.1,200.6 297.2,199.5 297.2,197.6 297.7,196.8 298.0,195.2 297.7,193.5 298.2,192.1 298.3,190.8 298.5,189.2 298.7,188.2 299.0,186.9 299.5,185.7 299.2,184.1 299.2,182.7 299.7,181.3 300.6,180.1 301.0,178.5 301.2,177.1 302.0,175.9 302.7,174.8 303.3,173.5 304.7,172.4 305.2,171.1 306.0,170.1 306.2,168.6 306.0,166.6 306.8,165.7 305.1,165.5 304.1,164.7 302.4,164.6 301.2,164.1 299.8,164.2 298.8,163.2 297.1,162.6 295.6,162.4 294.6,162.2 293.2,161.7 292.0,162.1 290.6,161.8 289.3,162.2 288.2,162.5 286.9,162.3 285.5,161.5 284.7,160.8 283.3,160.6 282.2,160.1 280.9,160.0 279.6,160.4 278.2,160.9 277.1,160.5 276.2,159.2 275.7,158.4 274.8,157.0 274.1,156.1 273.3,154.8 271.9,153.8 271.1,152.5 269.8,151.9 268.9,151.9 267.6,152.1 266.1,151.7 264.9,152.4 263.2,152.4 262.1,152.5 261.2,152.0 260.0,151.6 258.5,150.6 257.1,150.5 255.8,151.0 254.5,151.2 253.3,151.1 252.1,151.1 251.2,150.1 250.1,149.0 248.8,148.1 248.1,147.1 246.9,146.8 245.6,146.4Z M134.1,180.5 133.0,181.1 131.5,181.4 129.8,181.6 128.3,182.0 127.1,181.7 125.6,181.8 124.1,182.2 122.8,182.7 121.7,182.8 121.1,183.1 120.1,182.7 118.7,182.3 117.4,182.1 116.1,181.1 116.7,182.4 116.6,184.2 117.0,185.0 116.6,186.6 117.1,188.1 116.7,189.5 117.0,190.9 117.1,192.6 116.9,193.9 116.7,195.1 115.9,196.5 114.7,197.2 113.9,198.3 113.3,199.2 112.1,200.2 111.5,200.7 110.4,201.5 109.2,202.8 108.1,203.2 107.1,204.2 105.8,205.2 104.4,205.0 103.7,205.8 102.7,206.8 101.1,207.2 99.6,207.6 97.8,208.2 96.7,208.5 95.2,209.4 93.9,209.4 93.1,210.2 91.9,210.5 90.6,211.5 88.9,212.2 88.1,213.2 87.6,213.5 86.5,213.9 87.1,215.0 87.4,216.3 88.7,216.8 89.5,217.9 89.7,219.4 90.5,220.6 90.8,221.0 91.3,222.1 92.2,223.2 93.3,224.2 92.3,224.9 92.3,226.3 91.3,227.0 91.8,228.4 92.7,229.4 94.1,230.1 94.5,231.4 94.6,232.7 95.4,234.0 96.1,235.1 97.3,236.2 97.5,237.3 98.5,238.1 99.2,239.7 99.7,240.6 100.7,241.7 101.1,242.8 101.8,244.5 102.5,245.4 103.3,246.8 104.4,247.0 105.3,248.2 106.3,249.0 107.4,248.7 108.5,249.7 109.5,249.4 111.1,250.6 112.3,250.3 113.3,250.7 112.6,251.4 112.3,252.3 111.7,253.5 110.6,254.0 112.1,254.1 112.6,253.0 113.7,252.1 114.9,251.1 115.1,250.1 116.4,250.2 117.7,250.0 118.9,249.9 120.5,249.4 121.6,249.0 123.1,249.1 123.6,247.3 123.5,245.8 123.5,244.4 124.1,243.0 123.7,241.7 123.4,240.6 123.0,239.3 122.5,237.7 122.4,236.5 122.1,235.0 121.4,233.8 120.8,232.2 119.9,231.5 119.1,230.0 120.3,229.3 121.7,229.2 123.1,229.0 124.6,228.1 125.7,227.6 127.2,227.6 128.4,226.9 129.7,227.0 131.1,226.0 132.5,225.4 133.9,225.1 134.9,225.4 136.5,225.2 137.8,224.6 138.2,223.6 139.2,223.0 139.1,221.6 139.8,220.1 140.1,219.1 140.0,217.6 141.3,216.2 141.2,215.0 141.7,213.5 142.7,212.3 142.7,211.2 143.2,210.2 144.6,209.5 146.1,209.4 147.2,208.7 148.8,208.3 149.2,208.2 150.0,207.3 151.1,206.1 152.5,205.7 153.2,205.1 154.2,204.2 154.2,202.5 155.1,201.2 155.2,199.7 155.2,198.2 155.0,196.6 155.4,195.6 155.2,194.2 155.2,193.0 154.9,191.7 154.0,191.0 153.2,190.1 152.3,189.2 151.5,188.2 150.5,187.1 149.2,186.1 147.8,185.5 146.8,184.8 145.3,183.7 144.2,183.1 143.2,183.6 142.1,184.7 141.2,185.1 140.1,184.6 138.7,184.6 137.2,184.1 136.4,183.7 136.3,183.3 136.0,183.1 135.7,182.2 134.6,181.1Z M133.9,225.1 132.5,225.4 131.1,226.0 129.7,227.0 128.4,226.9 127.2,227.6 125.7,227.6 124.6,228.1 123.1,229.0 121.7,229.2 120.3,229.3 119.1,230.0 119.9,231.5 120.8,232.2 121.4,233.8 122.1,235.0 122.4,236.5 122.5,237.7 123.0,239.3 123.4,240.6 123.7,241.7 124.1,243.0 123.5,244.4 123.5,245.8 123.6,247.3 123.1,249.1 121.6,249.0 120.5,249.4 118.9,249.9 117.7,250.0 116.4,250.2 115.1,250.1 114.9,251.1 113.7,252.1 112.6,253.0 112.1,254.1 110.6,254.0 109.1,254.3 108.5,255.1 108.5,256.5 108.1,258.1 109.2,259.0 109.9,259.5 110.5,260.7 111.4,262.0 112.5,262.7 111.9,263.7 112.2,265.2 111.7,266.1 110.5,266.9 109.9,267.5 109.5,268.7 109.6,269.0 109.4,270.4 110.1,271.5 110.1,272.9 109.5,274.1 109.1,275.1 108.7,276.6 109.1,278.3 108.8,279.9 108.5,281.1 108.0,282.7 108.5,283.9 107.6,285.4 107.8,286.9 107.7,288.5 107.3,289.6 107.7,291.1 107.9,292.4 107.9,294.1 107.0,295.6 107.1,297.1 107.2,298.4 106.6,300.2 106.7,301.7 106.8,302.7 106.1,304.3 106.0,305.3 105.8,306.2 105.6,307.5 104.9,308.9 105.7,310.0 105.0,311.2 104.9,312.7 103.9,314.1 103.5,315.5 103.4,317.0 103.1,318.7 102.8,320.4 102.3,321.8 101.8,323.1 102.3,324.6 101.8,326.2 101.7,327.2 101.6,328.9 101.2,329.8 100.7,331.3 100.0,332.5 99.4,333.1 98.9,333.7 97.7,335.1 96.8,336.2 96.1,337.2 94.5,337.0 93.6,338.4 92.5,338.7 92.9,340.0 94.2,340.9 95.0,341.8 96.2,342.0 97.6,342.5 98.7,342.4 99.0,343.8 99.1,345.0 100.0,346.2 99.8,347.2 99.3,348.7 100.5,349.0 101.4,349.9 102.5,349.9 104.0,350.3 105.0,351.3 106.0,351.3 107.5,351.8 108.6,352.6 109.8,352.8 111.2,353.1 112.5,352.9 113.8,353.6 115.0,353.7 115.6,355.0 116.5,355.5 117.5,356.8 118.7,357.3 119.9,358.1 121.1,357.3 123.1,357.4 123.8,357.1 124.8,356.1 125.2,356.2 125.3,355.9 126.0,354.8 126.1,353.1 127.1,352.2 127.5,351.0 128.3,350.0 129.2,349.3 130.1,348.1 130.8,347.1 131.2,345.7 131.7,344.4 132.1,343.1 131.8,341.8 132.0,340.8 131.0,339.5 131.1,338.1 130.8,336.9 129.8,335.4 129.6,334.3 129.4,334.0 128.8,332.9 128.1,332.1 128.5,330.4 128.3,329.4 128.7,328.2 129.0,326.4 129.1,325.2 130.3,324.5 131.6,325.0 133.3,324.9 134.5,324.3 135.2,324.2 136.7,323.9 137.7,323.1 139.2,322.8 140.2,322.2 141.5,321.3 143.2,321.1 144.6,320.6 146.4,320.0 147.5,319.3 149.2,319.1 149.7,318.6 150.3,317.9 151.4,316.9 152.4,315.8 153.2,315.1 153.4,313.8 154.3,312.7 154.0,311.3 154.8,310.2 155.2,309.1 156.0,308.1 156.7,307.4 157.5,306.4 158.6,305.7 159.2,305.1 160.1,304.3 161.1,303.0 162.1,302.3 163.4,301.0 164.3,300.5 165.2,299.1 165.3,297.9 166.0,296.8 166.6,295.2 166.5,293.6 166.6,292.2 167.2,291.1 168.8,290.5 170.0,290.5 171.7,290.1 173.0,290.1 172.9,291.2 173.5,292.8 173.9,293.9 175.4,293.4 177.0,293.2 178.2,292.8 179.7,292.2 180.7,292.0 181.1,291.0 181.0,290.1 181.4,288.8 181.9,287.8 183.2,286.8 183.9,285.7 185.0,284.7 185.4,282.8 186.4,282.0 187.1,281.4 188.6,280.4 189.5,280.1 189.6,279.1 189.5,277.4 190.0,276.2 190.1,275.7 189.8,274.6 190.7,273.0 190.9,272.1 190.7,270.7 190.1,269.3 189.1,267.9 188.2,267.0 189.3,266.1 190.6,264.5 191.3,263.2 192.0,262.0 191.8,261.2 192.0,260.1 191.3,259.1 191.5,257.2 190.8,256.3 190.8,255.1 190.0,254.1 189.1,252.6 188.5,251.6 187.8,249.8 186.3,248.8 185.8,247.4 184.2,247.7 182.9,247.5 181.2,246.8 180.0,247.1 179.0,247.5 177.9,247.8 176.8,248.4 175.3,248.4 174.1,248.5 173.0,249.1 171.3,249.1 169.7,248.9 168.7,249.0 168.1,249.1 166.6,249.4 165.5,249.0 163.4,249.4 162.2,249.1 161.6,248.4 161.1,247.5 160.5,246.2 159.2,245.0 158.0,244.0 158.0,242.5 156.6,241.4 155.7,240.4 155.2,239.0 154.4,237.7 153.6,236.9 152.9,235.5 152.4,234.3 151.8,233.3 151.2,232.0 150.1,231.6 148.2,231.5 147.0,231.1 145.3,230.4 144.2,230.0 143.0,229.2 142.0,228.0 141.0,227.7 140.0,225.9 139.0,225.8 137.8,224.6 136.5,225.2 134.9,225.4Z M225.2,135.1 224.6,133.8 224.3,132.4 224.5,131.2 224.1,130.1 224.2,128.4 223.2,127.6 221.5,126.7 220.2,126.0 218.9,126.5 217.1,126.2 216.2,125.6 214.5,126.0 214.1,124.6 213.7,123.0 212.5,122.6 211.2,122.4 210.2,121.3 209.1,121.0 207.7,120.0 207.3,118.8 205.7,118.0 205.4,116.3 204.1,115.4 203.9,114.3 203.1,113.0 201.7,113.3 200.5,113.5 199.2,114.5 198.1,114.4 197.0,113.3 196.2,112.2 194.4,111.3 193.7,110.0 192.8,108.8 192.4,107.4 192.2,106.5 192.1,104.6 191.7,103.6 190.4,104.4 188.9,104.5 187.6,104.3 186.3,104.9 185.0,105.0 183.6,104.9 182.1,105.6 180.6,106.1 179.5,106.8 178.0,106.8 176.3,107.9 175.1,108.0 174.6,109.5 173.3,110.4 172.5,112.0 172.5,113.4 173.2,114.9 172.6,116.2 173.1,118.0 172.9,119.4 173.2,120.5 173.1,122.0 173.2,123.2 173.3,124.8 172.8,126.2 172.8,127.5 172.1,128.8 172.5,130.1 171.8,131.1 171.5,132.3 170.5,133.3 170.1,134.1 170.9,135.3 171.8,136.6 171.8,137.5 172.9,138.7 173.8,139.6 174.5,141.1 174.7,142.1 174.8,143.1 174.9,144.5 174.9,146.0 175.2,147.5 175.1,149.0 175.7,150.1 175.7,151.5 175.5,152.8 175.0,154.4 174.7,155.6 174.9,157.0 174.5,158.1 175.1,159.5 175.7,160.5 174.7,161.1 174.4,161.9 176.0,161.4 177.3,161.2 178.3,160.8 179.7,161.1 181.0,160.8 182.1,161.3 183.9,161.5 185.5,161.8 186.8,162.3 188.0,163.1 189.2,163.3 190.4,163.3 191.6,164.1 192.9,163.9 194.0,164.4 195.5,164.7 196.5,164.6 197.7,164.1 198.9,163.7 200.0,164.4 201.3,164.1 202.5,164.5 203.5,164.8 203.8,165.9 204.9,167.3 205.6,168.3 206.7,169.5 207.6,170.5 208.9,171.1 209.3,172.0 210.0,171.2 211.0,170.4 211.7,169.7 212.6,168.2 213.0,167.1 213.4,165.5 214.1,164.1 214.2,162.6 214.3,161.3 214.8,159.6 214.5,158.1 215.7,157.7 217.0,156.6 218.1,156.1 219.1,154.9 220.1,154.3 221.1,153.1 222.2,152.1 222.4,150.6 223.8,149.3 223.7,147.7 224.3,146.2 225.2,145.1 225.1,143.5 224.6,142.4 224.7,140.6 224.7,139.7 224.6,138.1 224.8,136.8 225.3,135.7Z M178.4,184.0 177.6,182.9 176.6,182.2 176.2,181.3 175.0,180.4 174.4,179.7 174.0,178.9 172.8,177.9 172.6,176.8 171.9,175.6 171.8,174.1 171.5,173.1 170.9,171.8 171.2,170.0 170.5,168.5 170.2,169.7 169.9,170.9 169.1,172.1 168.0,172.9 166.9,173.4 165.7,174.1 164.0,174.4 163.1,175.1 161.7,175.8 160.7,175.6 159.2,176.9 158.1,177.1 157.5,178.0 157.1,179.2 157.0,180.8 156.8,181.3 156.8,182.4 156.7,182.5 156.0,183.7 156.0,184.8 155.5,186.2 155.1,187.4 154.8,188.7 155.1,190.4 154.9,191.7 155.2,193.0 155.2,194.2 155.4,195.6 155.0,196.6 155.2,198.2 155.2,199.7 155.1,201.2 154.2,202.5 154.2,204.2 153.2,205.1 152.5,205.7 151.1,206.1 150.0,207.3 149.2,208.2 148.8,208.3 147.2,208.7 146.1,209.4 144.6,209.5 143.2,210.2 142.7,211.2 142.7,212.3 141.7,213.5 141.2,215.0 141.3,216.2 140.0,217.6 140.1,219.1 139.8,220.1 139.1,221.6 139.2,223.0 138.2,223.6 137.8,224.6 139.0,225.8 140.0,225.9 141.0,227.7 142.0,228.0 143.0,229.2 144.2,230.0 145.3,230.4 147.0,231.1 148.2,231.5 150.1,231.6 151.2,232.0 151.8,233.3 152.4,234.3 152.9,235.5 153.6,236.9 154.4,237.7 155.2,239.0 155.7,240.4 156.6,241.4 158.0,242.5 158.0,244.0 159.2,245.0 160.5,246.2 161.1,247.5 161.6,248.4 162.2,249.1 163.4,249.4 165.5,249.0 166.6,249.4 168.1,249.1 168.7,249.0 169.7,248.9 171.3,249.1 173.0,249.1 174.1,248.5 175.3,248.4 176.8,248.4 177.9,247.8 179.0,247.5 180.0,247.1 181.2,246.8 182.9,247.5 184.2,247.7 185.8,247.4 186.9,246.2 188.0,245.7 188.9,244.9 190.5,244.6 191.7,243.8 192.2,242.9 192.8,241.7 193.6,240.7 194.5,239.9 195.7,239.7 196.7,238.8 198.2,237.8 199.5,237.7 200.7,236.9 201.0,235.4 200.6,233.8 200.7,232.9 200.8,231.5 200.7,229.7 200.6,228.3 201.0,227.0 201.1,225.9 200.0,224.6 199.8,223.3 199.7,221.8 198.8,220.4 198.6,219.0 198.3,217.5 198.0,216.5 197.1,215.0 197.1,213.8 197.5,212.3 197.4,210.6 198.1,209.3 198.1,208.2 198.8,206.6 198.3,205.2 199.1,203.7 199.1,202.2 200.0,200.7 200.3,199.2 201.1,197.6 201.1,196.1 201.2,194.6 200.7,192.9 200.6,191.3 200.6,189.8 200.2,191.0 199.1,192.0 197.8,192.5 196.9,193.1 195.1,193.0 194.0,193.5 192.9,193.4 191.5,192.7 191.0,191.6 190.4,190.9 189.8,190.2 189.0,189.1 188.1,188.8 186.8,188.4 185.3,188.4 183.9,188.0 182.6,187.9 181.3,188.7 180.8,188.1 179.9,186.9 179.4,185.9 178.5,184.8Z M96.5,175.7 95.3,175.6 94.4,175.2 93.4,175.0 92.5,174.9 91.5,175.6 90.4,175.3 89.7,174.7 88.6,175.6 87.8,175.6 86.8,176.3 85.9,176.8 85.1,177.5 84.1,178.1 82.8,177.2 82.5,176.5 81.6,175.6 81.3,174.1 80.3,173.1 79.3,172.1 79.1,170.6 78.0,169.6 77.8,168.1 77.2,167.3 75.9,167.2 74.5,167.0 73.5,166.9 72.4,167.0 71.0,167.5 70.0,166.9 68.5,167.2 66.8,167.4 66.0,168.1 65.1,169.5 64.1,170.6 63.0,170.7 61.6,170.0 60.7,170.1 59.7,171.0 58.6,170.9 57.8,171.2 57.1,170.4 56.0,169.7 54.9,170.0 53.5,170.6 52.5,171.3 51.0,171.2 49.5,171.4 48.5,171.0 47.3,171.3 46.0,171.8 44.9,172.6 43.5,173.1 42.7,173.0 41.6,173.7 40.8,174.4 40.4,175.6 39.8,176.7 40.0,178.1 40.7,178.9 41.0,180.0 42.0,180.3 43.5,180.6 44.8,180.8 46.0,180.6 47.0,181.3 47.9,181.2 47.0,181.8 45.4,181.8 44.4,182.8 43.5,183.1 44.8,183.6 45.4,184.3 46.4,184.5 47.2,185.6 48.6,185.7 49.1,186.2 49.0,187.3 48.5,187.7 47.1,188.1 46.0,188.4 44.1,188.3 42.9,188.9 41.8,189.6 40.4,189.9 41.4,190.1 42.8,190.3 43.5,190.9 44.6,191.4 46.0,191.8 47.0,192.3 47.9,193.7 47.1,194.7 46.6,196.2 46.5,197.5 47.2,198.4 48.3,198.1 49.1,198.1 50.1,196.9 51.0,196.2 52.1,195.8 52.9,194.7 53.6,195.4 54.7,195.9 55.8,196.2 56.6,196.8 57.9,197.9 59.1,198.1 60.3,198.7 61.6,198.7 62.9,199.4 64.1,199.3 64.9,200.7 66.0,200.9 66.9,201.6 67.8,202.2 68.6,203.1 70.3,203.4 71.8,203.5 72.8,204.3 73.4,205.6 74.7,206.2 76.1,206.2 77.2,206.8 78.0,207.9 79.1,208.1 79.5,208.9 80.9,209.3 82.6,210.0 84.1,209.9 84.4,211.0 85.5,211.3 85.9,212.7 86.5,213.9 87.6,213.5 88.1,213.2 88.9,212.2 90.6,211.5 91.9,210.5 93.1,210.2 93.9,209.4 95.2,209.4 96.7,208.5 97.8,208.2 99.6,207.6 101.1,207.2 102.7,206.8 103.7,205.8 104.4,205.0 105.8,205.2 107.1,204.2 108.1,203.2 109.2,202.8 110.4,201.5 111.5,200.7 112.1,200.2 113.3,199.2 113.9,198.3 114.7,197.2 115.9,196.5 116.7,195.1 116.9,193.9 117.1,192.6 117.0,190.9 116.7,189.5 117.1,188.1 116.6,186.6 117.0,185.0 116.6,184.2 116.7,182.4 116.1,181.1 114.8,180.6 113.5,180.6 112.2,180.2 110.5,180.0 109.3,179.2 108.1,179.1 107.3,178.1 107.3,177.8 106.5,177.5 105.0,177.0 104.0,177.2 102.7,176.6 101.5,176.8 100.9,175.6 99.9,175.2 99.0,174.3 98.0,174.7 97.2,175.0Z M202.5,164.5 201.3,164.1 200.0,164.4 198.9,163.7 197.7,164.1 196.5,164.6 195.5,164.7 194.0,164.4 192.9,163.9 191.6,164.1 190.4,163.3 189.2,163.3 188.0,163.1 186.8,162.3 185.5,161.8 183.9,161.5 182.1,161.3 181.0,160.8 179.7,161.1 178.3,160.8 177.3,161.2 176.0,161.4 174.4,161.9 173.1,162.4 172.4,163.7 171.5,164.1 170.4,165.4 169.7,166.6 170.5,167.4 170.5,168.5 171.2,170.0 170.9,171.8 171.5,173.1 171.8,174.1 171.9,175.6 172.6,176.8 172.8,177.9 174.0,178.9 174.4,179.7 175.0,180.4 176.2,181.3 176.6,182.2 177.6,182.9 178.4,184.0 178.5,184.8 179.4,185.9 179.9,186.9 180.8,188.1 181.3,188.7 182.6,187.9 183.9,188.0 185.3,188.4 186.8,188.4 188.1,188.8 189.0,189.1 189.8,190.2 190.4,190.9 191.0,191.6 191.5,192.7 192.9,193.4 194.0,193.5 195.1,193.0 196.9,193.1 197.8,192.5 199.1,192.0 200.2,191.0 200.6,189.8 201.2,188.7 202.7,187.7 204.2,187.2 205.6,186.9 207.0,186.6 208.5,186.2 208.8,185.3 209.3,184.0 209.7,182.5 210.4,181.1 210.5,180.2 211.0,178.8 211.1,178.2 210.4,177.0 210.4,175.6 210.0,174.6 210.0,173.3 209.3,172.0 208.9,171.1 207.6,170.5 206.7,169.5 205.6,168.3 204.9,167.3 203.8,165.9 203.5,164.8Z"/>
</g>
<g transform="translate(345,0)" fill="#fff" stroke="#0b1840" stroke-width="0.35">
<path d="M109.3,268.7 112.5,270.5 115.7,273.3 118.3,276.7 120.3,280.7 120.7,282.5 119.1,281.9 117.3,278.7 114.9,275.7 112.1,273.1 109.1,271.3Z"/>
<path d="M106.9,298.3 108.5,296.3 110.5,297.1 111.3,299.1 109.7,299.9 107.3,299.9Z"/>
<path d="M246.6,336.4 247.8,336.0 249.4,338.6 249.6,340.2 248.2,340.0 246.9,338.0Z"/>
</g>
<g transform="translate(345,0)" stroke="#0b1840" stroke-width="1.3" stroke-linejoin="round" fill="#373c77">
<path d="M299.0,348.7 300.2,348.0 301.6,348.7 302.3,351.3 302.6,355.4 302.8,358.4 304.3,361.5 305.0,365.6 305.9,369.7 305.4,374.8 304.6,380.0 303.6,385.1 303.0,390.2 302.0,394.3 300.5,397.9 299.2,399.6 296.8,398.2 294.6,396.6 292.0,395.3 289.7,393.5 289.3,390.2 286.6,387.9 287.0,384.6 284.6,382.2 285.6,379.1 283.3,376.1 283.9,373.0 282.3,370.3 284.1,365.8 286.2,362.1 290.3,360.1 293.8,358.0 296.8,357.4 298.7,356.4 298.5,352.3Z"/>
<path d="M41.4,230.8 43.2,229.6 45.6,230.2 48.0,231.4 49.8,232.0 51.6,230.8 51.3,228.4 51.6,226.0 54.0,223.6 55.8,224.2 57.0,226.6 57.0,229.0 59.3,230.8 62.3,232.0 65.3,234.1 61.7,235.0 58.7,235.6 55.1,236.2 52.2,235.6 51.0,235.0 50.4,238.0 50.6,241.6 49.2,244.6 46.8,246.3 44.4,245.2 42.6,241.6 41.4,236.8 40.8,233.2Z"/>
<path d="M59.3,247.3 59.9,245.4 61.4,244.4 63.3,244.4 64.8,245.6 65.5,247.3 64.8,249.1 63.3,250.2 61.4,250.2 59.9,249.2Z"/>
<path d="M45.6,258.9 48.0,257.1 51.0,256.5 54.0,257.7 57.0,260.1 59.9,262.5 62.3,263.1 65.3,261.9 64.7,263.7 62.3,265.5 64.1,267.9 65.9,270.3 67.1,273.3 68.3,276.9 68.6,280.5 67.1,283.5 65.3,284.7 63.5,282.3 61.7,279.9 58.7,279.3 55.8,280.5 53.4,279.3 52.8,277.5 55.1,275.7 57.0,274.5 54.5,272.7 51.6,270.3 49.2,267.3 47.4,263.7 45.6,261.3Z"/>
<path d="M49.8,289.2 52.2,289.8 55.8,290.8 59.9,292.8 64.1,295.8 67.1,298.8 68.1,301.8 66.5,304.8 64.7,308.4 62.3,311.9 59.9,314.9 58.1,316.4 54.0,316.4 50.4,316.7 47.4,317.3 45.6,316.1 47.4,313.7 49.2,310.8 48.9,307.8 48.0,304.2 46.8,300.0 46.5,295.8 47.7,292.2Z"/>
<path d="M44.4,325.7 48.0,323.3 51.6,322.4 56.4,322.7 61.1,323.6 64.7,325.7 66.5,329.3 68.3,332.9 71.3,335.9 72.5,339.5 71.3,343.7 70.1,347.3 67.1,349.1 62.3,349.7 57.5,348.5 52.8,346.7 48.6,343.7 45.0,340.1 42.0,335.3 41.0,331.7 43.2,329.3Z"/>
<path d="M68.6,231.9 72.2,230.2 72.6,230.8 69.0,232.5Z"/>
<path d="M67.1,236.9 68.8,236.8 68.9,237.6 67.2,237.7Z"/>
<path d="M47.0,250.1 50.4,249.5 50.5,250.7 47.1,251.3Z"/>
<path d="M85.6,234.8 88.4,235.4 88.3,236.3 85.5,235.7Z"/>
</g>
<g transform="translate(345,0)" fill="#0b1840">
<path d="M130.5,336.8 132.4,338.3 133.0,341.0 132.2,344.0 130.6,345.2 129.8,342.2 130.4,339.5Z"/>
<ellipse cx="64.7" cy="204.4" rx="1.3" ry="0.8" transform="rotate(-20 64.7 204.4)"/>
<ellipse cx="70.4" cy="214.5" rx="2.3" ry="1.1" transform="rotate(35 70.4 214.5)"/>
<ellipse cx="76" cy="213.2" rx="0.9" ry="0.7" transform="rotate(0 76 213.2)"/>
<ellipse cx="72.3" cy="209.2" rx="0.8" ry="1.1" transform="rotate(0 72.3 209.2)"/>
<ellipse cx="79.2" cy="208.4" rx="0.9" ry="0.7" transform="rotate(0 79.2 208.4)"/>
<ellipse cx="88.3" cy="225.8" rx="1.2" ry="1.9" transform="rotate(-20 88.3 225.8)"/>
<ellipse cx="86.5" cy="234.8" rx="1.6" ry="0.9" transform="rotate(30 86.5 234.8)"/>
<ellipse cx="36.6" cy="178.2" rx="0.9" ry="0.7" transform="rotate(0 36.6 178.2)"/>
<ellipse cx="37.6" cy="189.4" rx="0.9" ry="0.5" transform="rotate(0 37.6 189.4)"/>
<ellipse cx="273.8" cy="350.8" rx="1.3" ry="0.6" transform="rotate(-15 273.8 350.8)"/>
<ellipse cx="278.3" cy="350.2" rx="1.4" ry="0.6" transform="rotate(-10 278.3 350.2)"/>
</g>
<g transform="translate(345,0)" fill="none" stroke="#3a3a3a" stroke-width="0.6" stroke-linejoin="round">
<path d="M183.5,170.6 184.6,168.8 186.8,168.1 189.7,167.7 191.8,167.3 192.6,169.5 192.2,172.4 191.5,174.6 189.7,175.3 186.8,175.0 184.6,174.2 183.5,172.4Z"/>
<path d="M185.5,171.6 185.9,170.7 186.9,170.4 187.9,170.8 188.2,171.7 187.6,172.5 186.6,172.7 185.8,172.3Z"/>
<path d="M174.3,164.7 177.3,165.9 180.2,166.6 182.8,167.7 184.2,169.2"/>
<path d="M179.2,182.0 180.2,178.9 182.1,176.4 184.2,174.6"/>
<path d="M190.2,187.1 190.8,184.0 190.8,180.4 191.1,176.8 191.5,175.0"/>
<path d="M192.3,163.1 191.8,165.5 191.8,167.3"/>
<circle cx="57.89999999999998" cy="124.9" r="18.8" stroke-width="0.8"/>
<path d="M47.1,118.5 50.1,116.4 52.7,115.5 54.4,114.7 56.5,114.2 58.6,115.5 60.4,116.1 62.5,115.1 64.2,113.4 65.5,111.2 66.3,110.4 67.2,112.5 68.0,115.1 69.3,117.7 69.8,120.2 69.3,122.8 68.5,125.3 68.9,127.9 69.3,130.5 69.8,133.0 68.9,135.6 68.0,138.2 67.2,139.9 65.9,138.2 64.6,136.5 62.9,135.6 60.4,136.0 57.8,135.6 55.6,134.8 53.9,134.3 52.2,135.2 50.5,133.9 48.8,132.2 47.1,130.9 45.4,129.2 43.7,127.1 43.3,124.5 43.7,121.9 45.0,120.2Z"/>
<path d="M48.4,123.6 50.1,121.9 52.7,121.1 55.2,120.4 57.4,120.9 58.6,122.8 59.1,124.9 58.2,126.6 56.1,127.7 53.5,127.5 51.0,126.6 49.2,125.3Z"/>
<path d="M58.9,126.0 59.5,125.3 60.5,125.5 61.0,126.6 60.5,127.7 59.5,127.9 58.8,127.2Z"/>
<path d="M52.7,115.5 53.1,118.5 53.9,120.7"/>
<path d="M53.5,127.5 53.5,130.5 53.1,133.0 52.2,135.2"/>
<path d="M61.0,126.2 62.9,124.9 65.5,125.3 67.2,127.1 68.9,127.9"/>
<path d="M43.4,113.6 45.4,116.0 47.1,118.5"/>
<path d="M41.8,134.1 44.5,132.6 47.1,130.9"/>
<path d="M66.3,110.4 67.4,109.3"/>
<path d="M67.2,139.9 66.8,140.9"/>
</g>
<g transform="translate(345,0)">
<path d="M285.1,367.7 289.1,370.1 294.2,375.1 297.6,380.1 299.6,385.1" fill="none" stroke="#0b1840" stroke-width="0.6"/>
<circle cx="244.5" cy="310.9" r="1.8" fill="#0060c4" stroke="#0b1840" stroke-width="0.8"/></g>
</g>
<g id="legend" font-family="'Liberation Sans',sans-serif" fill="#000" font-size="13.22">
<text x="90" y="403" font-size="13.17" font-weight="bold">Évolution du taux de chômage</text>
<g stroke="rgba(0,0,25,0.62)" stroke-width="1.2">
<rect x="148.2" y="407.9" width="27.7" height="17" rx="2.6" fill="#373c77"/>
<rect x="148.2" y="434.5" width="27.7" height="17" rx="2.6" fill="#0060c4"/>
<rect x="354.6" y="407.9" width="27.7" height="17" rx="2.6" fill="#92c0d8"/>
<rect x="354.6" y="434.5" width="27.7" height="17" rx="2.6" fill="#ffffff"/>
</g>
<text x="186" y="421">Moins de -1,2 point</text>
<text x="186" y="447.3">De -1,2 à -0,8 point</text>
<text x="392.2" y="421">Plus de -0,8 à moins de -0,2 point</text>
<text x="392.2" y="447.3">De -0,2 à 0,2 point</text>
</g>
</svg>
</div>
<p class="note" style="top:477.5px"><span style="word-spacing:0.07px">Lecture : les bornes comprennent une limite correspondant à l'évolution au niveau national (−0,8 point entre</span><br><span style="word-spacing:-0.14px">fin 2019 et fin 2021), ce qui permet de visualiser si les régions/départements ont évolué plus ou moins vite</span><br><span style="word-spacing:0.4px">comparativement au niveau national.</span></p>
<p class="note" style="top:531px;word-spacing:-0.75px">Champ : France hors Mayotte</p>
<p class="note src" style="top:551px;word-spacing:0.3px">Source : Insee, Taux de chômage localisés.</p>
</body>
</html>
